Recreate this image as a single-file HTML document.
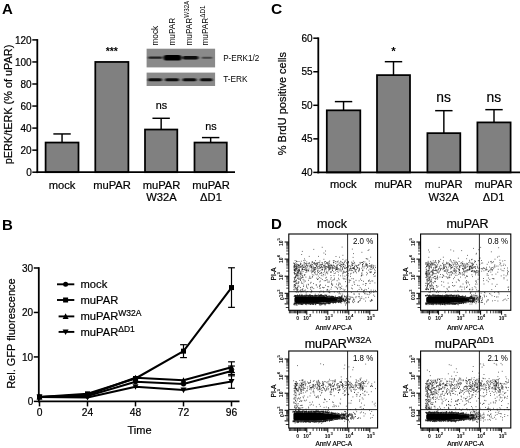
<!DOCTYPE html><html><head><meta charset="utf-8"><title>Figure</title>
<style>html,body{margin:0;padding:0;background:#fff}body{width:520px;height:448px;overflow:hidden;font-family:"Liberation Sans",sans-serif}svg{display:block;opacity:0.9999}text{font-family:"Liberation Sans",sans-serif;fill:#000}.s{stroke:#000;stroke-width:0.2px}</style></head><body>
<svg width="520" height="448" viewBox="0 0 520 448">
<rect width="520" height="448" fill="#fff"/>
<text x="2" y="13.5" font-size="15" text-anchor="start" font-weight="bold" >A</text>
<text x="2" y="230" font-size="15" text-anchor="start" font-weight="bold" >B</text>
<text x="271" y="13.6" font-size="15.5" text-anchor="start" font-weight="bold" >C</text>
<text x="271" y="228.5" font-size="15" text-anchor="start" font-weight="bold" >D</text>
<line x1="62.05" y1="142.54" x2="62.05" y2="133.94" stroke="#000" stroke-width="1.45"/>
<line x1="53.35" y1="133.94" x2="70.75" y2="133.94" stroke="#000" stroke-width="1.45"/>
<rect x="45.6" y="142.54" width="32.9" height="29.66" fill="#808080" stroke="#000" stroke-width="1.75"/>
<rect x="95.3" y="61.95" width="33.10000000000001" height="110.25" fill="#808080" stroke="#000" stroke-width="1.75"/>
<line x1="161.15" y1="129.53" x2="161.15" y2="118.29" stroke="#000" stroke-width="1.45"/>
<line x1="152.45" y1="118.29" x2="169.85" y2="118.29" stroke="#000" stroke-width="1.45"/>
<rect x="145.0" y="129.53" width="32.30000000000001" height="42.67" fill="#808080" stroke="#000" stroke-width="1.75"/>
<line x1="210.65" y1="142.54" x2="210.65" y2="137.58" stroke="#000" stroke-width="1.45"/>
<line x1="201.95" y1="137.58" x2="219.35" y2="137.58" stroke="#000" stroke-width="1.45"/>
<rect x="194.5" y="142.54" width="32.30000000000001" height="29.66" fill="#808080" stroke="#000" stroke-width="1.75"/>
<line x1="37.30" y1="39.10" x2="37.30" y2="173.10" stroke="#000" stroke-width="1.8"/>
<line x1="36.40" y1="172.20" x2="235.00" y2="172.20" stroke="#000" stroke-width="1.8"/>
<line x1="32.30" y1="172.20" x2="37.30" y2="172.20" stroke="#000" stroke-width="1.5"/>
<text class="s" x="31.699999999999996" y="175.79999999999998" font-size="10" text-anchor="end" font-weight="normal" >0</text>
<line x1="32.30" y1="150.15" x2="37.30" y2="150.15" stroke="#000" stroke-width="1.5"/>
<text class="s" x="31.699999999999996" y="153.74999999999997" font-size="10" text-anchor="end" font-weight="normal" >20</text>
<line x1="32.30" y1="128.10" x2="37.30" y2="128.10" stroke="#000" stroke-width="1.5"/>
<text class="s" x="31.699999999999996" y="131.7" font-size="10" text-anchor="end" font-weight="normal" >40</text>
<line x1="32.30" y1="106.05" x2="37.30" y2="106.05" stroke="#000" stroke-width="1.5"/>
<text class="s" x="31.699999999999996" y="109.64999999999998" font-size="10" text-anchor="end" font-weight="normal" >60</text>
<line x1="32.30" y1="84.00" x2="37.30" y2="84.00" stroke="#000" stroke-width="1.5"/>
<text class="s" x="31.699999999999996" y="87.59999999999998" font-size="10" text-anchor="end" font-weight="normal" >80</text>
<line x1="32.30" y1="61.95" x2="37.30" y2="61.95" stroke="#000" stroke-width="1.5"/>
<text class="s" x="31.699999999999996" y="65.54999999999998" font-size="10" text-anchor="end" font-weight="normal" >100</text>
<line x1="32.30" y1="39.90" x2="37.30" y2="39.90" stroke="#000" stroke-width="1.5"/>
<text class="s" x="31.699999999999996" y="43.49999999999998" font-size="10" text-anchor="end" font-weight="normal" >120</text>
<text class="s" x="0" y="0" font-size="10.9" text-anchor="middle" font-weight="normal" transform="translate(12.2,104.5) rotate(-90)">pERK/tERK (% of uPAR)</text>
<text class="s" x="62" y="188.7" font-size="11.2" text-anchor="middle" font-weight="normal" >mock</text>
<text class="s" x="112" y="188.7" font-size="11.2" text-anchor="middle" font-weight="normal" >muPAR</text>
<text class="s" x="161.5" y="188.7" font-size="11.2" text-anchor="middle" font-weight="normal" >muPAR</text>
<text class="s" x="161.5" y="201.2" font-size="11.2" text-anchor="middle" font-weight="normal" >W32A</text>
<text class="s" x="211" y="188.7" font-size="11.2" text-anchor="middle" font-weight="normal" >muPAR</text>
<text class="s" x="211" y="201.2" font-size="11.2" text-anchor="middle" font-weight="normal" >ΔD1</text>
<text x="111.8" y="54.9" font-size="10.5" text-anchor="middle" font-weight="bold" >***</text>
<text class="s" x="161.5" y="108.5" font-size="10.8" text-anchor="middle" font-weight="normal" >ns</text>
<text class="s" x="211" y="129.5" font-size="10.8" text-anchor="middle" font-weight="normal" >ns</text>
<defs><filter id="bl" x="-20%" y="-50%" width="140%" height="200%"><feGaussianBlur stdDeviation="0.9 0.6"/></filter></defs>
<rect x="146.6" y="48.7" width="68.5" height="18.7" fill="#8a8a8a"/>
<rect x="146.6" y="72.6" width="68.5" height="13.4" fill="#8a8a8a"/>
<g filter="url(#bl)">
<rect x="148.2" y="56.6" width="14" height="2.2" rx="1.1" fill="#222"/>
<rect x="163.5" y="54.900000000000006" width="18" height="5.6" rx="2.8" fill="#000"/>
<rect x="182.5" y="55.900000000000006" width="16" height="3.6" rx="1.8" fill="#0a0a0a"/>
<rect x="201.75" y="56.7" width="10.5" height="2.0" rx="1.0" fill="#444"/>
<rect x="148.0" y="78.2" width="14" height="3" rx="1.5" fill="#111"/>
<rect x="165.0" y="78.2" width="14" height="3" rx="1.5" fill="#111"/>
<rect x="182.5" y="78.2" width="14" height="3" rx="1.5" fill="#111"/>
<rect x="200.05" y="78.2" width="12.5" height="3" rx="1.5" fill="#111"/>
</g>
<text x="223.2" y="61.3" font-size="8.15" text-anchor="start" font-weight="normal" >P-ERK1/2</text>
<text x="223.2" y="82.2" font-size="8.3" text-anchor="start" font-weight="normal" >T-ERK</text>
<text x="0" y="0" font-size="8.3" text-anchor="start" font-weight="normal" transform="translate(157.8,45.6) rotate(-90) scale(1,1.12)">mock</text>
<text x="0" y="0" font-size="8.3" text-anchor="start" font-weight="normal" transform="translate(175.3,45.6) rotate(-90) scale(1,1.12)">muPAR</text>
<text x="0" y="0" font-size="8.3" text-anchor="start" font-weight="normal" transform="translate(192,45.6) rotate(-90) scale(1,1.12)">muPAR<tspan font-size="6.2" dy="-2.7">W32A</tspan></text>
<text x="0" y="0" font-size="8.3" text-anchor="start" font-weight="normal" transform="translate(208.2,45.6) rotate(-90) scale(1,1.12)">muPAR<tspan font-size="6.2" dy="-2.7">ΔD1</tspan></text>
<line x1="343.55" y1="110.33" x2="343.55" y2="101.61" stroke="#000" stroke-width="1.45"/>
<line x1="334.85" y1="101.61" x2="352.25" y2="101.61" stroke="#000" stroke-width="1.45"/>
<rect x="326.8" y="110.33" width="33.5" height="62.07" fill="#808080" stroke="#000" stroke-width="1.75"/>
<line x1="393.50" y1="75.11" x2="393.50" y2="61.69" stroke="#000" stroke-width="1.45"/>
<line x1="384.80" y1="61.69" x2="402.20" y2="61.69" stroke="#000" stroke-width="1.45"/>
<rect x="377" y="75.11" width="33" height="97.30" fill="#808080" stroke="#000" stroke-width="1.75"/>
<line x1="443.85" y1="133.15" x2="443.85" y2="110.67" stroke="#000" stroke-width="1.45"/>
<line x1="435.15" y1="110.67" x2="452.55" y2="110.67" stroke="#000" stroke-width="1.45"/>
<rect x="427.4" y="133.15" width="32.900000000000034" height="39.25" fill="#808080" stroke="#000" stroke-width="1.75"/>
<line x1="494.00" y1="122.41" x2="494.00" y2="109.66" stroke="#000" stroke-width="1.45"/>
<line x1="485.30" y1="109.66" x2="502.70" y2="109.66" stroke="#000" stroke-width="1.45"/>
<rect x="477.4" y="122.41" width="33.200000000000045" height="49.99" fill="#808080" stroke="#000" stroke-width="1.75"/>
<line x1="318.30" y1="37.40" x2="318.30" y2="173.30" stroke="#000" stroke-width="1.8"/>
<line x1="317.40" y1="172.40" x2="520.00" y2="172.40" stroke="#000" stroke-width="1.8"/>
<line x1="313.30" y1="172.40" x2="318.30" y2="172.40" stroke="#000" stroke-width="1.5"/>
<text class="s" x="312.7" y="176.0" font-size="10" text-anchor="end" font-weight="normal" >40</text>
<line x1="313.30" y1="138.85" x2="318.30" y2="138.85" stroke="#000" stroke-width="1.5"/>
<text class="s" x="312.7" y="142.45000000000002" font-size="10" text-anchor="end" font-weight="normal" >45</text>
<line x1="313.30" y1="105.30" x2="318.30" y2="105.30" stroke="#000" stroke-width="1.5"/>
<text class="s" x="312.7" y="108.9" font-size="10" text-anchor="end" font-weight="normal" >50</text>
<line x1="313.30" y1="71.75" x2="318.30" y2="71.75" stroke="#000" stroke-width="1.5"/>
<text class="s" x="312.7" y="75.35" font-size="10" text-anchor="end" font-weight="normal" >55</text>
<line x1="313.30" y1="38.20" x2="318.30" y2="38.20" stroke="#000" stroke-width="1.5"/>
<text class="s" x="312.7" y="41.80000000000002" font-size="10" text-anchor="end" font-weight="normal" >60</text>
<text class="s" x="0" y="0" font-size="11" text-anchor="middle" font-weight="normal" transform="translate(286.3,103.6) rotate(-90)">% BrdU positive cells</text>
<text class="s" x="343.3" y="188.2" font-size="11.2" text-anchor="middle" font-weight="normal" >mock</text>
<text class="s" x="393.3" y="188.2" font-size="11.2" text-anchor="middle" font-weight="normal" >muPAR</text>
<text class="s" x="443.7" y="188.2" font-size="11.2" text-anchor="middle" font-weight="normal" >muPAR</text>
<text class="s" x="443.7" y="200.7" font-size="11.2" text-anchor="middle" font-weight="normal" >W32A</text>
<text class="s" x="493.7" y="188.2" font-size="11.2" text-anchor="middle" font-weight="normal" >muPAR</text>
<text class="s" x="493.7" y="200.7" font-size="11.2" text-anchor="middle" font-weight="normal" >ΔD1</text>
<text x="393.4" y="55.3" font-size="11.5" text-anchor="middle" font-weight="bold" >*</text>
<text class="s" x="443.5" y="102" font-size="13.8" text-anchor="middle" font-weight="normal" >ns</text>
<text class="s" x="493.8" y="102" font-size="13.8" text-anchor="middle" font-weight="normal" >ns</text>
<line x1="38.80" y1="267.19" x2="38.80" y2="402.30" stroke="#000" stroke-width="1.8"/>
<line x1="37.90" y1="401.40" x2="239.50" y2="401.40" stroke="#000" stroke-width="1.8"/>
<line x1="33.80" y1="401.40" x2="38.80" y2="401.40" stroke="#000" stroke-width="1.5"/>
<text class="s" x="33.199999999999996" y="405.0" font-size="10" text-anchor="end" font-weight="normal" >0</text>
<line x1="33.80" y1="356.93" x2="38.80" y2="356.93" stroke="#000" stroke-width="1.5"/>
<text class="s" x="33.199999999999996" y="360.53" font-size="10" text-anchor="end" font-weight="normal" >10</text>
<line x1="33.80" y1="312.46" x2="38.80" y2="312.46" stroke="#000" stroke-width="1.5"/>
<text class="s" x="33.199999999999996" y="316.06" font-size="10" text-anchor="end" font-weight="normal" >20</text>
<line x1="33.80" y1="267.99" x2="38.80" y2="267.99" stroke="#000" stroke-width="1.5"/>
<text class="s" x="33.199999999999996" y="271.59000000000003" font-size="10" text-anchor="end" font-weight="normal" >30</text>
<line x1="39.50" y1="401.40" x2="39.50" y2="406.40" stroke="#000" stroke-width="1.5"/>
<text class="s" x="39.5" y="416.2" font-size="10.3" text-anchor="middle" font-weight="normal" >0</text>
<line x1="87.50" y1="401.40" x2="87.50" y2="406.40" stroke="#000" stroke-width="1.5"/>
<text class="s" x="87.5" y="416.2" font-size="10.3" text-anchor="middle" font-weight="normal" >24</text>
<line x1="135.50" y1="401.40" x2="135.50" y2="406.40" stroke="#000" stroke-width="1.5"/>
<text class="s" x="135.5" y="416.2" font-size="10.3" text-anchor="middle" font-weight="normal" >48</text>
<line x1="183.50" y1="401.40" x2="183.50" y2="406.40" stroke="#000" stroke-width="1.5"/>
<text class="s" x="183.5" y="416.2" font-size="10.3" text-anchor="middle" font-weight="normal" >72</text>
<line x1="231.50" y1="401.40" x2="231.50" y2="406.40" stroke="#000" stroke-width="1.5"/>
<text class="s" x="231.5" y="416.2" font-size="10.3" text-anchor="middle" font-weight="normal" >96</text>
<text class="s" x="139.5" y="433.5" font-size="11" text-anchor="middle" font-weight="normal" >Time</text>
<text class="s" x="0" y="0" font-size="11" text-anchor="middle" font-weight="normal" transform="translate(15,333.6) rotate(-90)">Rel. GFP fluorescence</text>
<polyline points="39.5,397.0 87.5,396.1 135.5,381.8 183.5,384.1 231.5,370.9" fill="none" stroke="#000" stroke-width="2.05" stroke-linejoin="round"/>
<circle cx="39.5" cy="396.953" r="2.5" fill="#000"/>
<circle cx="87.5" cy="396.06359999999995" r="2.5" fill="#000"/>
<circle cx="135.5" cy="381.8332" r="2.5" fill="#000"/>
<circle cx="183.5" cy="384.0567" r="2.5" fill="#000"/>
<line x1="231.50" y1="366.05" x2="231.50" y2="375.83" stroke="#000" stroke-width="1.2"/>
<line x1="228.10" y1="366.05" x2="234.90" y2="366.05" stroke="#000" stroke-width="1.2"/>
<line x1="228.10" y1="375.83" x2="234.90" y2="375.83" stroke="#000" stroke-width="1.2"/>
<circle cx="231.5" cy="370.93805" r="2.5" fill="#000"/>
<polyline points="39.5,397.0 87.5,393.8 135.5,378.5 183.5,351.1 231.5,287.6" fill="none" stroke="#000" stroke-width="2.05" stroke-linejoin="round"/>
<rect x="37.0" y="394.453" width="5.0" height="5.0" fill="#000"/>
<rect x="85.0" y="391.34009999999995" width="5.0" height="5.0" fill="#000"/>
<rect x="133.0" y="375.99794999999995" width="5.0" height="5.0" fill="#000"/>
<line x1="183.50" y1="344.70" x2="183.50" y2="357.60" stroke="#000" stroke-width="1.2"/>
<line x1="180.10" y1="344.70" x2="186.90" y2="344.70" stroke="#000" stroke-width="1.2"/>
<line x1="180.10" y1="357.60" x2="186.90" y2="357.60" stroke="#000" stroke-width="1.2"/>
<rect x="181.0" y="348.64889999999997" width="5.0" height="5.0" fill="#000"/>
<line x1="231.50" y1="267.77" x2="231.50" y2="307.35" stroke="#000" stroke-width="1.2"/>
<line x1="228.10" y1="267.77" x2="234.90" y2="267.77" stroke="#000" stroke-width="1.2"/>
<line x1="228.10" y1="307.35" x2="234.90" y2="307.35" stroke="#000" stroke-width="1.2"/>
<rect x="229.0" y="285.05679999999995" width="5.0" height="5.0" fill="#000"/>
<polyline points="39.5,397.0 87.5,395.0 135.5,377.8 183.5,380.3 231.5,367.2" fill="none" stroke="#000" stroke-width="2.05" stroke-linejoin="round"/>
<path d="M36.5,399.453 L42.5,399.453 L39.5,393.85299999999995 Z" fill="#000"/>
<path d="M84.5,397.45185 L90.5,397.45185 L87.5,391.85184999999996 Z" fill="#000"/>
<path d="M132.5,380.3309 L138.5,380.3309 L135.5,374.73089999999996 Z" fill="#000"/>
<path d="M180.5,382.77675 L186.5,382.77675 L183.5,377.17674999999997 Z" fill="#000"/>
<line x1="231.50" y1="361.82" x2="231.50" y2="372.49" stroke="#000" stroke-width="1.2"/>
<line x1="228.10" y1="361.82" x2="234.90" y2="361.82" stroke="#000" stroke-width="1.2"/>
<line x1="228.10" y1="372.49" x2="234.90" y2="372.49" stroke="#000" stroke-width="1.2"/>
<path d="M228.5,369.6581 L234.5,369.6581 L231.5,364.05809999999997 Z" fill="#000"/>
<polyline points="39.5,397.0 87.5,397.4 135.5,386.7 183.5,390.1 231.5,381.4" fill="none" stroke="#000" stroke-width="2.05" stroke-linejoin="round"/>
<path d="M36.5,394.453 L42.5,394.453 L39.5,400.053 Z" fill="#000"/>
<path d="M84.5,394.8977 L90.5,394.8977 L87.5,400.4977 Z" fill="#000"/>
<path d="M132.5,384.2249 L138.5,384.2249 L135.5,389.8249 Z" fill="#000"/>
<path d="M180.5,387.56014999999996 L186.5,387.56014999999996 L183.5,393.16015 Z" fill="#000"/>
<line x1="231.50" y1="374.50" x2="231.50" y2="388.28" stroke="#000" stroke-width="1.2"/>
<line x1="228.10" y1="374.50" x2="234.90" y2="374.50" stroke="#000" stroke-width="1.2"/>
<line x1="228.10" y1="388.28" x2="234.90" y2="388.28" stroke="#000" stroke-width="1.2"/>
<path d="M228.5,378.88849999999996 L234.5,378.88849999999996 L231.5,384.4885 Z" fill="#000"/>
<line x1="57.00" y1="284.30" x2="74.30" y2="284.30" stroke="#000" stroke-width="1.9"/>
<circle cx="65.6" cy="284.3" r="2.5" fill="#000"/>
<text class="s" x="80.5" y="288.2" font-size="11.2" text-anchor="start" font-weight="normal" >mock</text>
<line x1="57.00" y1="300.00" x2="74.30" y2="300.00" stroke="#000" stroke-width="1.9"/>
<rect x="63.099999999999994" y="297.5" width="5.0" height="5.0" fill="#000"/>
<text class="s" x="80.5" y="303.9" font-size="11.2" text-anchor="start" font-weight="normal" >muPAR</text>
<line x1="58.60" y1="316.40" x2="74.30" y2="316.40" stroke="#000" stroke-width="1.9"/>
<path d="M62.599999999999994,318.9 L68.6,318.9 L65.6,313.29999999999995 Z" fill="#000"/>
<text class="s" x="80.5" y="320.29999999999995" font-size="11.2" text-anchor="start" font-weight="normal" >muPAR<tspan font-size="8.5" dy="-3.9">W32A</tspan></text>
<line x1="58.60" y1="331.90" x2="74.30" y2="331.90" stroke="#000" stroke-width="1.9"/>
<path d="M62.599999999999994,329.4 L68.6,329.4 L65.6,335.0 Z" fill="#000"/>
<text class="s" x="80.5" y="335.79999999999995" font-size="11.2" text-anchor="start" font-weight="normal" >muPAR<tspan font-size="8.5" dy="-3.9">ΔD1</tspan></text>
<text class="s" x="332" y="227.7" font-size="12.5" text-anchor="middle" font-weight="normal" >mock</text>
<path d="M294.40000000000003,298.4 Q294.40000000000003,296.4 297.40000000000003,296.4 L317.40000000000003,296.59999999999997 Q329.40000000000003,297.2 337.8,298.5 L337.8,301.3 Q329.40000000000003,302.4 317.40000000000003,303.0 L297.40000000000003,303.0 Q294.40000000000003,303.0 294.40000000000003,301.0 Z" fill="#000"/>
<path d="M299.9,296.4h.8M315.2,303.9h.8M331.6,296.1h.8M312.3,296.3h.8M327.1,302.5h.8M339.2,301.1h.8M294.9,296.3h.8M336.1,298.4h.8M340.3,297.6h.8M338.9,298.7h.8M310.1,296.3h.8M338.2,302.4h.8M333.9,297.2h.8M335.0,296.1h.8M329.4,303.7h.8M302.6,303.1h.8M321.8,303.5h.8M321.9,295.7h.8M316.6,303.4h.8M320.0,303.2h.8M297.6,296.2h.8M312.4,303.9h.8M328.9,303.2h.8M341.0,300.8h.8M324.7,294.5h.8M330.7,297.5h.8M313.0,303.9h.8M315.6,303.3h.8M325.3,295.6h.8M339.6,297.9h.8M318.5,296.2h.8M335.5,298.2h.8M338.9,301.2h.8M310.2,303.1h.8M315.6,296.0h.8M320.1,295.4h.8M335.1,302.9h.8M296.8,296.0h.8M315.3,303.0h.8M323.6,303.3h.8M307.4,295.9h.8M301.5,303.8h.8M324.8,303.4h.8M316.3,296.2h.8M308.5,303.4h.8M298.7,296.2h.8M340.1,300.6h.8M294.3,296.3h.8M295.1,295.6h.8M314.1,296.1h.8M340.7,300.7h.8M312.5,304.1h.8M325.3,303.3h.8M340.2,298.6h.8M308.2,295.7h.8M329.4,303.7h.8M320.7,294.9h.8M295.2,296.3h.8M340.0,301.2h.8M340.5,297.5h.8M311.7,303.8h.8M336.8,298.0h.8M317.2,303.3h.8M309.1,303.8h.8M336.9,297.8h.8M332.7,296.7h.8M309.8,296.4h.8M311.8,303.3h.8M337.7,300.8h.8M296.6,295.5h.8M297.5,295.9h.8M306.4,303.8h.8M322.5,303.5h.8M307.5,303.5h.8M300.0,296.1h.8M311.8,295.7h.8M333.5,302.1h.8M338.2,298.1h.8M321.0,294.7h.8M311.1,303.7h.8M320.7,295.8h.8M331.5,301.8h.8M294.0,296.1h.8M336.2,298.3h.8M302.5,303.4h.8M326.4,296.2h.8M329.4,295.6h.8M332.4,302.3h.8M320.0,303.2h.8M308.8,295.9h.8M293.9,303.1h.8M312.3,303.7h.8M296.4,304.9h.8M298.8,296.0h.8M331.4,302.0h.8M319.6,303.5h.8M303.0,303.5h.8M341.0,300.8h.8M297.8,303.7h.8M308.2,303.3h.8M302.4,303.0h.8M323.0,296.1h.8M305.3,296.1h.8M306.4,295.7h.8M328.7,296.8h.8M331.7,302.1h.8M316.1,295.4h.8M309.3,295.6h.8M302.1,295.0h.8M308.9,296.3h.8M327.7,302.7h.8M319.8,296.0h.8M331.1,297.3h.8M301.0,295.7h.8M305.6,296.1h.8M314.2,303.7h.8M319.6,304.4h.8M301.7,303.1h.8M294.6,303.1h.8M326.9,296.9h.8M322.1,296.3h.8M312.7,304.4h.8M301.7,296.4h.8M319.0,303.1h.8M338.4,298.8h.8M316.6,295.5h.8M327.9,303.8h.8M337.8,301.3h.8M340.5,298.6h.8M318.2,303.1h.8M301.1,296.0h.8M334.5,302.3h.8M301.4,304.2h.8M336.8,301.7h.8M301.9,304.6h.8M328.2,296.4h.8M317.4,303.1h.8M318.3,295.7h.8M319.7,296.1h.8M305.8,296.4h.8M306.3,296.0h.8M330.9,297.5h.8M314.9,295.7h.8M332.3,301.7h.8M312.6,304.0h.8M317.0,296.0h.8M299.2,303.9h.8M306.8,303.6h.8M329.7,296.5h.8M321.4,296.2h.8M323.8,296.2h.8M307.2,296.0h.8M306.6,303.4h.8M335.1,297.6h.8M319.8,303.3h.8M303.5,303.2h.8M303.3,296.3h.8M321.0,296.3h.8M319.8,295.8h.8M332.4,301.9h.8M317.7,303.0h.8M299.4,303.7h.8M310.4,303.6h.8M321.1,295.4h.8M324.7,303.5h.8M341.5,298.2h.8M341.2,301.3h.8M338.8,301.1h.8M327.4,303.0h.8M310.8,295.8h.8M326.2,303.2h.8M323.5,296.3h.8M317.2,295.7h.8M323.9,303.8h.8M328.3,296.0h.8M331.3,296.4h.8M330.5,297.2h.8M327.7,302.8h.8M300.8,303.8h.8M295.6,296.3h.8M329.4,302.3h.8M314.8,296.3h.8M317.9,296.1h.8M326.7,303.2h.8M303.5,296.3h.8M296.7,303.7h.8M316.0,295.9h.8M327.9,303.2h.8M310.6,295.8h.8M316.8,303.5h.8M335.3,301.2h.8M322.9,295.8h.8M334.2,297.3h.8M312.9,304.2h.8M338.6,298.7h.8M323.7,296.0h.8M335.6,302.6h.8M300.6,303.9h.8M315.6,296.1h.8M328.0,302.6h.8M308.4,303.1h.8M328.2,303.4h.8M296.7,295.7h.8M298.2,295.9h.8M295.6,296.0h.8M295.1,303.3h.8M310.0,303.8h.8M298.0,303.8h.8M304.7,303.3h.8M304.6,303.3h.8M315.8,303.3h.8M309.4,295.2h.8M337.4,297.4h.8M334.9,301.5h.8M336.4,301.6h.8M336.0,298.1h.8M331.8,297.3h.8M325.6,296.7h.8M320.7,303.6h.8M334.1,297.5h.8M295.1,296.0h.8M338.6,298.8h.8M314.3,295.3h.8M329.4,297.2h.8M325.5,302.9h.8M306.0,295.9h.8M305.3,295.8h.8M320.5,295.6h.8M337.2,301.9h.8M319.4,296.1h.8M327.9,297.1h.8M300.7,294.3h.8M334.8,297.9h.8M332.8,301.6h.8M317.7,296.2h.8M319.1,303.0h.8M325.6,302.8h.8M315.0,304.6h.8M297.8,303.2h.8M312.0,303.1h.8M308.6,296.4h.8M299.1,303.7h.8M298.0,295.9h.8M338.1,300.6h.8M339.7,301.4h.8M315.1,295.7h.8M336.8,300.9h.8M312.2,303.5h.8M298.1,303.2h.8M307.9,303.2h.8M313.6,303.4h.8M329.6,296.9h.8M318.9,295.9h.8M331.4,296.6h.8M315.3,304.6h.8M338.3,300.8h.8M332.9,296.7h.8M299.9,303.6h.8M321.3,303.2h.8M329.5,303.1h.8M341.3,301.2h.8M340.8,298.4h.8M294.8,303.4h.8M337.3,297.8h.8M330.5,296.8h.8M326.4,295.0h.8M303.3,295.8h.8M297.2,295.7h.8M331.8,297.5h.8M335.1,297.9h.8M322.0,303.2h.8M336.5,301.5h.8M335.3,297.3h.8M319.8,295.9h.8M332.0,296.8h.8M305.8,294.0h.8M293.8,303.9h.8M312.9,303.1h.8M295.3,304.9h.8M327.1,296.9h.8M319.6,305.4h.8M308.7,303.2h.8M318.8,303.8h.8M315.3,295.8h.8M317.9,294.4h.8M301.3,295.8h.8M341.5,298.4h.8M338.7,298.3h.8M336.9,298.2h.8M315.9,303.6h.8M324.2,303.0h.8M332.3,302.3h.8M310.6,304.5h.8M332.8,303.4h.8M334.9,301.9h.8M338.9,300.8h.8M329.2,303.3h.8M316.9,303.5h.8M339.3,300.6h.8M299.7,296.1h.8M304.5,296.1h.8M330.9,297.3h.8M312.7,296.2h.8M323.0,296.1h.8M320.0,304.0h.8M340.3,297.4h.8M329.0,302.7h.8M341.6,301.6h.8M302.1,296.1h.8M297.6,304.1h.8M299.4,303.2h.8M337.2,297.8h.8M322.7,303.6h.8M337.2,298.2h.8M301.5,304.4h.8M341.4,301.3h.8M335.5,298.1h.8M335.1,297.3h.8M293.8,304.8h.8M306.3,303.9h.8M307.9,296.3h.8M327.6,302.9h.8M300.6,303.3h.8M322.4,295.5h.8M319.2,295.8h.8M316.6,303.2h.8M306.3,295.4h.8M305.1,296.4h.8M322.7,296.3h.8M315.2,295.4h.8M296.2,303.4h.8M330.3,297.4h.8M308.7,303.4h.8M336.3,301.0h.8M304.3,295.3h.8M304.4,296.0h.8M317.7,303.1h.8M294.4,303.0h.8M333.2,297.5h.8M326.3,302.8h.8M306.4,303.7h.8M300.1,303.1h.8M336.9,298.5h.8M297.1,296.2h.8M307.9,296.4h.8M294.9,296.2h.8M338.2,301.6h.8M305.1,303.4h.8M306.6,303.4h.8M338.1,298.7h.8M322.7,303.9h.8M323.4,303.6h.8M320.7,303.2h.8M308.0,295.9h.8M296.0,296.2h.8M314.4,295.9h.8M305.5,303.5h.8M299.5,296.2h.8M329.5,296.8h.8M319.8,295.6h.8M323.4,303.2h.8M337.6,298.3h.8M326.1,295.5h.8M330.5,302.0h.8M336.4,297.8h.8M333.7,302.4h.8M299.1,296.3h.8M332.1,296.7h.8M319.4,295.5h.8M311.8,295.9h.8M315.6,303.6h.8M338.6,301.0h.8M313.1,303.8h.8M295.2,296.1h.8M332.7,297.1h.8M330.3,302.4h.8M331.3,302.2h.8M305.3,295.1h.8M298.5,303.3h.8M295.4,303.3h.8M313.8,303.0h.8M336.9,297.5h.8M323.3,303.4h.8M332.9,301.9h.8M332.0,297.2h.8M296.1,295.7h.8M336.5,297.5h.8M336.7,298.3h.8M340.6,298.4h.8M324.0,296.4h.8M312.6,295.9h.8M340.3,298.5h.8M331.4,301.7h.8M324.9,295.9h.8M314.3,303.9h.8M338.3,298.5h.8M300.7,304.2h.8M325.0,296.0h.8M315.6,303.7h.8M307.4,295.2h.8M300.9,296.3h.8M312.6,296.4h.8M319.4,303.9h.8M305.5,303.0h.8M337.3,298.3h.8M330.9,297.2h.8M301.9,295.6h.8M331.8,297.7h.8M327.3,297.0h.8M299.2,295.1h.8M312.1,295.9h.8M340.7,298.2h.8M331.0,297.0h.8M306.9,303.2h.8M301.5,295.2h.8M308.8,303.1h.8M341.4,301.6h.8M327.2,296.6h.8M317.4,303.3h.8M320.8,296.1h.8M331.2,297.6h.8M300.3,303.7h.8M305.6,303.2h.8M300.6,295.6h.8M339.8,298.4h.8M319.4,295.1h.8M319.7,295.6h.8M312.3,296.0h.8M297.4,295.8h.8M294.9,303.9h.8M311.9,296.1h.8M319.5,296.2h.8M338.3,300.9h.8M328.2,302.6h.8M310.7,296.2h.8M310.2,304.2h.8M297.7,303.2h.8M307.5,295.6h.8M323.2,303.0h.8M333.5,301.6h.8M301.1,295.4h.8M298.4,303.3h.8M324.1,296.5h.8M312.6,295.5h.8M333.1,301.9h.8M332.8,302.2h.8M328.5,296.4h.8M320.6,305.0h.8M319.8,296.3h.8M325.9,295.7h.8M334.8,301.2h.8M306.6,295.6h.8M325.8,296.7h.8M329.9,302.1h.8M303.8,303.3h.8M326.2,296.7h.8M334.4,301.4h.8M317.7,303.4h.8M318.7,296.3h.8M321.8,295.3h.8M309.9,295.0h.8M302.0,296.0h.8M334.7,302.1h.8M296.5,303.2h.8M297.9,303.4h.8M324.7,304.2h.8M306.4,304.7h.8M320.1,303.3h.8M294.2,303.6h.8M300.6,303.3h.8M296.6,305.4h.8M331.7,296.3h.8M295.2,295.9h.8M338.6,298.5h.8M324.3,295.5h.8M334.4,301.3h.8M309.6,294.9h.8M310.9,295.6h.8M336.8,297.9h.8M335.4,301.5h.8M333.2,302.0h.8M295.2,295.6h.8M330.5,297.3h.8M340.3,301.1h.8M321.2,296.0h.8M338.7,300.7h.8M313.4,296.2h.8M306.1,295.2h.8M298.2,303.9h.8M331.5,297.4h.8M333.2,297.3h.8M307.7,296.2h.8M295.1,303.1h.8M341.3,300.7h.8M329.7,297.1h.8M323.9,304.0h.8M302.3,296.3h.8M340.5,297.9h.8M328.3,302.3h.8M340.0,300.8h.8M338.3,300.9h.8M293.9,304.7h.8M295.0,303.2h.8M304.5,296.3h.8M318.8,295.5h.8M303.5,303.2h.8M305.2,303.8h.8M297.0,294.8h.8M302.5,304.0h.8M323.1,303.3h.8M294.5,295.4h.8M321.4,303.5h.8M333.4,301.9h.8M302.9,303.9h.8M339.5,301.5h.8M337.2,301.5h.8M322.6,295.8h.8M318.8,304.0h.8M322.8,303.0h.8M330.1,302.1h.8M315.5,303.1h.8M327.3,303.2h.8M327.1,296.4h.8M324.5,303.4h.8M335.6,298.3h.8M296.0,303.9h.8M294.1,303.6h.8M333.3,296.6h.8M303.5,295.9h.8M333.1,297.0h.8M299.6,304.0h.8M304.7,296.1h.8M330.0,302.2h.8M338.3,301.3h.8M332.6,297.2h.8M304.6,296.1h.8M323.3,296.4h.8M303.6,295.6h.8M328.3,302.3h.8M293.5,304.5h.8M314.9,296.3h.8M311.3,303.2h.8M335.7,301.4h.8M321.6,303.9h.8M332.6,302.8h.8M329.8,302.6h.8M299.0,295.5h.8M329.7,302.9h.8M314.5,295.4h.8M318.3,296.1h.8M299.7,296.1h.8M293.6,296.4h.8M313.9,296.3h.8M319.4,303.0h.8M331.4,296.9h.8M306.3,303.3h.8M336.4,298.1h.8M304.9,304.5h.8M295.1,303.1h.8M302.4,296.3h.8M330.3,297.4h.8M332.4,297.2h.8M331.9,297.0h.8M304.6,303.3h.8M340.0,298.2h.8M331.8,297.3h.8M299.2,295.3h.8M297.6,296.0h.8M338.8,302.0h.8M328.4,302.5h.8M330.4,302.3h.8M335.7,301.7h.8M335.2,302.6h.8M333.7,302.3h.8M335.9,298.1h.8M296.9,303.2h.8M336.3,302.4h.8M329.9,302.8h.8M313.2,303.4h.8M316.2,295.8h.8M311.3,303.5h.8M335.6,297.5h.8M301.5,296.2h.8M323.0,296.2h.8M310.6,303.7h.8M308.4,304.3h.8M300.9,304.3h.8M334.3,302.3h.8M296.7,296.2h.8M295.7,296.4h.8M324.8,304.3h.8M334.9,301.2h.8M310.0,296.1h.8M340.7,298.2h.8M296.4,303.4h.8M310.8,295.7h.8M304.6,303.0h.8M298.1,296.3h.8M304.2,303.3h.8M308.5,303.4h.8M335.2,301.8h.8M318.2,303.4h.8M302.9,296.3h.8M300.3,295.9h.8M294.4,303.2h.8M310.8,296.2h.8M326.2,295.9h.8M302.9,303.6h.8M301.4,296.1h.8M320.1,294.9h.8M334.7,301.5h.8M296.7,303.1h.8M325.6,303.9h.8M321.1,304.0h.8M309.8,296.2h.8M324.7,305.1h.8M294.3,295.9h.8M306.1,303.3h.8M335.5,301.1h.8M301.3,303.1h.8M295.8,303.9h.8M306.9,303.4h.8M321.3,303.3h.8M310.4,303.6h.8M310.7,295.8h.8M333.7,297.6h.8M295.2,296.1h.8M318.5,303.1h.8M321.0,304.2h.8M320.7,303.7h.8M312.6,303.9h.8M329.3,297.0h.8M322.1,304.1h.8M333.2,301.8h.8M304.9,303.5h.8M335.6,297.7h.8M301.2,303.2h.8M311.0,303.1h.8M340.3,298.1h.8M321.3,296.0h.8M314.9,294.2h.8M341.5,298.7h.8M308.6,295.7h.8M302.1,303.0h.8M304.7,303.9h.8M308.5,303.2h.8M322.1,296.3h.8M293.7,303.4h.8M299.2,303.2h.8M302.1,303.9h.8M315.2,303.3h.8M297.5,296.0h.8M298.1,303.5h.8M316.4,295.8h.8M321.8,303.6h.8M310.3,296.4h.8M334.1,301.8h.8M320.3,295.2h.8M340.6,298.3h.8M309.6,296.2h.8M312.2,303.1h.8M309.4,295.6h.8M301.3,303.8h.8M334.8,297.6h.8M308.9,304.0h.8M304.3,296.2h.8M336.3,298.2h.8M295.9,296.2h.8M341.3,301.2h.8M312.2,303.3h.8M308.0,303.5h.8M334.5,301.8h.8M301.8,303.2h.8M298.5,296.0h.8M319.3,303.9h.8M326.2,302.6h.8M328.4,303.4h.8M309.0,303.5h.8M333.3,297.5h.8M335.0,297.5h.8M295.9,304.0h.8M309.3,295.7h.8M310.1,304.3h.8M335.6,297.5h.8M331.5,302.2h.8M341.6,300.9h.8M325.8,295.7h.8M340.3,300.6h.8M322.6,296.3h.8M308.9,295.0h.8M327.8,302.3h.8M310.4,303.0h.8M339.5,297.7h.8M341.2,300.8h.8M300.4,303.7h.8M339.1,301.9h.8M339.0,298.7h.8M319.4,296.0h.8M299.2,295.1h.8M322.8,303.6h.8M339.0,298.9h.8M338.7,297.7h.8M341.1,296.4h.8M347.7,299.9h.8M343.1,301.0h.8M342.6,299.2h.8M339.3,297.5h.8M339.0,292.9h.8M339.1,299.6h.8M342.3,299.5h.8M338.4,302.6h.8M341.1,295.8h.8M339.6,300.8h.8M340.5,299.1h.8M347.7,301.6h.8M346.6,295.7h.8M341.5,301.3h.8M346.1,298.0h.8M339.8,296.8h.8M339.2,301.5h.8M347.5,295.1h.8M343.4,300.8h.8M353.3,298.1h.8M339.1,300.4h.8M338.1,300.8h.8M347.4,301.6h.8M340.7,299.6h.8M343.9,302.8h.8M339.9,299.1h.8M341.3,297.8h.8M341.2,300.4h.8M338.7,297.1h.8M343.3,300.2h.8M337.9,296.6h.8M348.6,302.8h.8M339.4,299.8h.8M348.1,302.1h.8M340.2,298.3h.8M349.9,298.0h.8M340.5,300.1h.8M347.7,299.7h.8M349.4,299.6h.8M347.1,298.8h.8M345.2,300.7h.8M341.5,299.2h.8M344.1,296.4h.8M345.3,301.1h.8M342.8,298.7h.8M344.6,299.2h.8M340.8,297.5h.8M341.4,300.2h.8M346.1,297.0h.8M343.0,300.5h.8M341.2,298.2h.8M341.3,296.5h.8M345.2,299.3h.8M340.8,299.0h.8M340.3,299.3h.8M343.1,300.0h.8M345.0,296.8h.8M352.9,300.1h.8M342.7,299.4h.8M349.7,296.8h.8M340.4,293.9h.8M340.0,299.5h.8M349.3,298.9h.8M343.2,299.9h.8M343.0,298.2h.8M344.8,298.8h.8M348.3,298.5h.8M346.7,299.0h.8M347.2,301.4h.8M338.0,299.6h.8M346.0,299.1h.8M339.3,298.2h.8M346.4,302.5h.8M345.1,305.1h.8M340.6,298.4h.8M341.6,299.2h.8M339.7,299.4h.8M346.7,299.7h.8M340.9,301.1h.8M338.1,298.8h.8M339.5,300.9h.8M342.3,295.6h.8M339.9,302.3h.8M339.1,296.6h.8M344.8,299.5h.8M342.8,300.3h.8M345.7,296.9h.8M350.9,297.2h.8M344.7,300.6h.8M345.7,302.9h.8M341.9,299.6h.8M347.2,296.5h.8M344.2,301.0h.8M337.9,297.7h.8M342.7,298.9h.8M339.5,301.7h.8M348.6,296.7h.8M346.7,300.4h.8M340.7,303.1h.8M346.3,300.5h.8M358.1,301.6h.8M354.3,301.6h.8M341.9,297.3h.8M339.2,298.5h.8M340.1,302.4h.8M355.7,296.6h.8M338.6,293.8h.8M352.1,301.9h.8M341.8,299.1h.8M340.0,300.6h.8M338.7,298.5h.8M344.7,300.2h.8M339.7,297.8h.8M346.1,303.0h.8M339.7,297.1h.8M349.1,299.7h.8M346.5,297.9h.8M343.2,299.5h.8M339.4,297.4h.8M342.5,299.0h.8M344.5,301.5h.8M344.2,295.9h.8M344.2,301.0h.8M342.8,299.4h.8M341.0,299.2h.8M340.6,302.2h.8M339.7,301.1h.8M337.9,301.8h.8M343.9,300.9h.8M342.3,294.1h.8M344.3,296.9h.8M353.0,302.6h.8M338.6,298.8h.8M349.2,301.8h.8M340.0,299.5h.8M343.5,300.7h.8M345.6,300.9h.8M345.1,299.5h.8M349.7,299.0h.8M345.5,303.9h.8M345.9,298.2h.8M338.4,302.5h.8M341.8,296.7h.8M338.1,298.2h.8M341.6,300.5h.8M341.0,299.9h.8M347.2,300.9h.8M324.4,261.6h.8M356.7,267.7h.8M325.3,268.9h.8M335.0,261.5h.8M324.1,271.3h.8M313.7,268.7h.8M296.5,264.3h.8M296.5,267.8h.8M356.2,272.8h.8M322.3,269.7h.8M300.7,263.9h.8M320.0,267.6h.8M356.2,269.4h.8M320.1,264.9h.8M312.3,267.1h.8M311.1,272.8h.8M341.4,271.0h.8M347.0,266.9h.8M312.1,272.0h.8M372.8,267.9h.8M304.6,265.9h.8M299.4,265.7h.8M324.9,266.4h.8M329.8,265.1h.8M326.1,272.5h.8M317.0,271.9h.8M320.8,266.5h.8M298.9,267.8h.8M331.2,265.5h.8M361.0,262.5h.8M328.7,268.2h.8M302.3,269.9h.8M335.8,267.3h.8M317.4,264.3h.8M315.0,274.1h.8M297.2,270.4h.8M363.2,263.6h.8M310.2,265.0h.8M302.7,271.6h.8M304.4,267.5h.8M342.1,273.9h.8M329.3,260.9h.8M352.9,261.0h.8M336.8,264.7h.8M319.5,268.2h.8M340.5,264.4h.8M325.9,266.7h.8M337.8,261.0h.8M324.8,275.0h.8M326.3,263.3h.8M300.5,266.3h.8M336.3,266.3h.8M335.6,268.1h.8M319.4,265.4h.8M296.6,261.6h.8M332.1,270.5h.8M334.4,268.3h.8M296.1,261.1h.8M338.7,262.9h.8M341.7,265.8h.8M311.1,265.9h.8M317.8,270.1h.8M335.7,269.4h.8M337.1,265.9h.8M353.9,268.9h.8M306.8,265.4h.8M347.1,264.7h.8M305.6,268.6h.8M301.4,272.0h.8M328.5,265.2h.8M371.5,269.2h.8M347.3,266.1h.8M302.1,269.3h.8M311.6,264.4h.8M303.7,263.0h.8M347.3,266.8h.8M328.7,268.6h.8M371.1,265.0h.8M326.4,262.4h.8M312.0,271.0h.8M344.8,265.4h.8M321.5,273.8h.8M333.7,268.1h.8M370.8,267.4h.8M322.0,269.6h.8M296.3,268.7h.8M362.2,262.4h.8M340.1,266.3h.8M328.5,265.6h.8M313.2,270.4h.8M354.6,270.9h.8M314.5,267.7h.8M339.6,265.2h.8M308.1,270.6h.8M317.3,270.3h.8M325.9,268.8h.8M301.7,265.6h.8M348.1,267.1h.8M316.1,266.8h.8M332.3,269.1h.8M352.0,265.0h.8M362.6,270.2h.8M353.4,268.0h.8M309.5,266.4h.8M305.8,267.6h.8M296.6,268.3h.8M319.5,261.0h.8M336.4,268.8h.8M296.4,261.5h.8M314.3,269.9h.8M335.8,269.1h.8M296.6,266.4h.8M362.3,264.5h.8M329.5,269.4h.8M339.5,270.8h.8M353.2,267.6h.8M315.2,263.7h.8M330.7,264.4h.8M312.9,269.0h.8M337.7,269.0h.8M336.7,262.0h.8M315.0,267.8h.8M351.3,265.9h.8M314.9,267.6h.8M333.4,262.5h.8M306.3,264.6h.8M302.5,267.2h.8M297.9,270.5h.8M353.0,268.6h.8M295.3,266.4h.8M322.4,264.1h.8M319.4,268.2h.8M324.6,265.4h.8M312.1,264.7h.8M352.7,257.4h.8M354.3,263.1h.8M308.6,268.9h.8M322.1,264.6h.8M324.1,262.9h.8M319.3,262.6h.8M344.4,272.2h.8M336.8,261.7h.8M322.6,267.8h.8M336.4,265.6h.8M309.9,265.6h.8M307.3,267.0h.8M328.1,262.1h.8M322.0,267.8h.8M295.3,262.9h.8M313.7,267.8h.8M335.0,270.3h.8M315.6,264.5h.8M332.7,265.2h.8M321.2,266.0h.8M304.7,266.4h.8M362.6,266.6h.8M298.6,261.5h.8M351.7,270.5h.8M350.4,270.3h.8M331.2,272.0h.8M304.3,269.4h.8M342.7,264.7h.8M297.9,264.6h.8M321.5,262.7h.8M294.7,260.6h.8M336.9,267.4h.8M353.2,263.6h.8M349.2,270.2h.8M326.5,262.9h.8M303.4,260.6h.8M294.2,264.2h.8M307.7,265.8h.8M353.4,272.0h.8M350.7,273.3h.8M346.1,267.9h.8M317.3,263.3h.8M359.6,262.4h.8M365.4,263.8h.8M341.8,269.6h.8M330.4,265.4h.8M340.5,270.9h.8M372.4,265.1h.8M314.6,269.2h.8M333.3,271.7h.8M317.1,268.0h.8M362.2,270.1h.8M361.5,272.8h.8M305.7,264.0h.8M313.0,267.2h.8M302.2,269.4h.8M369.5,266.4h.8M313.9,262.6h.8M305.3,266.4h.8M358.6,267.9h.8M358.3,265.3h.8M333.3,265.3h.8M339.5,269.0h.8M299.1,270.7h.8M344.7,267.1h.8M359.4,264.2h.8M354.0,267.0h.8M341.7,262.9h.8M314.1,263.0h.8M324.6,268.9h.8M318.3,262.5h.8M295.3,269.8h.8M306.0,270.6h.8M302.6,266.9h.8M320.2,273.3h.8M344.1,262.6h.8M351.2,262.2h.8M321.4,267.5h.8M366.9,264.6h.8M352.0,268.0h.8M373.2,267.7h.8M314.3,272.5h.8M293.4,263.0h.8M328.3,267.2h.8M332.9,260.6h.8M301.5,266.3h.8M302.2,265.6h.8M329.3,267.9h.8M335.7,269.3h.8M310.9,266.3h.8M323.2,266.1h.8M313.9,264.0h.8M355.0,269.6h.8M357.2,267.5h.8M321.3,272.5h.8M307.6,263.5h.8M309.7,265.5h.8M328.2,265.1h.8M323.5,272.7h.8M356.0,266.5h.8M293.7,263.5h.8M349.3,269.8h.8M375.1,267.6h.8M343.6,264.5h.8M329.1,261.9h.8M343.4,271.3h.8M352.0,263.0h.8M336.7,271.5h.8M311.7,268.6h.8M365.4,264.4h.8M293.7,268.1h.8M325.8,266.7h.8M325.5,273.2h.8M346.2,271.4h.8M306.8,266.1h.8M347.0,263.1h.8M372.5,268.2h.8M304.7,260.4h.8M335.4,263.4h.8M335.9,267.5h.8M310.6,270.9h.8M363.7,268.0h.8M317.8,268.4h.8M314.5,269.7h.8M347.1,264.5h.8M366.0,265.7h.8M300.9,261.2h.8M354.3,266.5h.8M358.3,271.6h.8M368.7,265.7h.8M344.4,261.2h.8M300.1,264.5h.8M295.4,271.3h.8M328.4,266.3h.8M334.0,266.3h.8M364.5,261.9h.8M374.1,269.3h.8M340.4,267.8h.8M342.4,262.5h.8M320.8,264.6h.8M345.2,268.4h.8M370.5,265.4h.8M327.6,264.9h.8M325.6,267.0h.8M296.0,267.2h.8M357.2,268.1h.8M328.9,269.3h.8M301.5,267.9h.8M360.1,263.2h.8M303.6,265.0h.8M339.7,263.2h.8M317.6,266.5h.8M314.3,263.9h.8M342.2,267.7h.8M350.7,269.0h.8M324.1,266.3h.8M356.5,266.0h.8M353.8,267.9h.8M311.5,262.1h.8M343.3,264.0h.8M347.8,266.2h.8M334.8,266.9h.8M366.4,265.7h.8M340.6,261.8h.8M315.8,263.3h.8M308.8,262.5h.8M347.4,269.2h.8M353.7,268.7h.8M346.8,269.3h.8M314.7,267.5h.8M310.7,266.9h.8M296.0,268.0h.8M305.9,263.4h.8M371.1,267.1h.8M358.8,268.8h.8M343.8,267.7h.8M325.2,263.9h.8M299.2,270.5h.8M330.4,268.8h.8M318.5,266.2h.8M333.8,260.7h.8M328.6,269.9h.8M317.0,274.0h.8M306.5,271.8h.8M320.9,264.6h.8M324.5,269.7h.8M362.0,264.4h.8M332.4,267.8h.8M344.0,268.6h.8M306.9,270.3h.8M344.9,261.1h.8M309.5,267.0h.8M315.7,268.8h.8M310.9,267.3h.8M369.6,265.9h.8M306.1,265.4h.8M327.5,267.2h.8M306.4,261.9h.8M337.6,270.0h.8M333.4,262.1h.8M313.2,263.3h.8M299.3,271.2h.8M343.2,272.9h.8M350.7,268.6h.8M368.3,270.2h.8M347.0,266.8h.8M331.7,268.6h.8M351.4,264.3h.8M328.9,263.8h.8M328.4,267.8h.8M371.0,272.0h.8M339.7,269.4h.8M297.3,272.3h.8M323.3,265.5h.8M352.2,265.6h.8M322.1,262.9h.8M337.1,268.1h.8M342.2,268.7h.8M302.0,268.7h.8M347.7,263.3h.8M348.2,261.5h.8M351.9,263.6h.8M328.4,270.8h.8M327.6,267.0h.8M346.3,267.5h.8M324.6,268.0h.8M306.6,269.1h.8M369.2,263.5h.8M325.1,267.9h.8M312.7,271.4h.8M296.8,267.0h.8M362.3,270.7h.8M329.2,265.9h.8M305.0,263.4h.8M374.6,265.9h.8M350.3,268.0h.8M332.9,268.0h.8M311.3,271.0h.8M332.6,267.8h.8M336.7,269.4h.8M347.9,265.2h.8M340.3,261.3h.8M367.5,266.8h.8M372.6,266.6h.8M319.1,266.8h.8M358.2,264.8h.8M296.8,273.9h.8M319.4,264.2h.8M366.3,263.3h.8M359.0,269.0h.8M341.1,264.5h.8M323.9,267.4h.8M329.7,266.9h.8M362.2,262.6h.8M354.2,269.0h.8M342.5,264.6h.8M315.1,271.8h.8M341.9,269.2h.8M298.7,265.5h.8M345.7,272.0h.8M303.9,262.4h.8M296.5,272.1h.8M302.4,265.0h.8M312.1,261.7h.8M341.0,266.6h.8M332.2,267.7h.8M313.5,269.1h.8M346.0,262.9h.8M343.3,266.7h.8M303.9,264.0h.8M343.0,266.4h.8M356.7,265.4h.8M294.0,272.8h.8M358.6,270.4h.8M349.3,265.7h.8M308.5,263.9h.8M315.3,265.0h.8M297.6,271.9h.8M298.2,271.6h.8M331.2,267.2h.8M373.2,265.8h.8M325.1,261.5h.8M315.9,263.4h.8M374.3,273.0h.8M369.6,269.0h.8M339.1,265.5h.8M329.9,267.2h.8M340.1,265.6h.8M370.4,269.4h.8M308.4,271.1h.8M364.8,265.6h.8M311.2,267.1h.8M298.8,265.0h.8M362.0,264.7h.8M328.5,263.4h.8M308.9,263.6h.8M327.0,263.1h.8M350.0,266.3h.8M294.0,270.3h.8M371.2,266.0h.8M316.1,266.0h.8M362.3,266.9h.8M374.7,270.7h.8M308.0,270.1h.8M345.7,259.9h.8M328.6,269.2h.8M304.8,268.1h.8M317.2,264.0h.8M324.0,270.1h.8M312.4,262.5h.8M367.0,267.4h.8M335.9,269.1h.8M294.8,267.9h.8M312.7,266.0h.8M326.9,263.0h.8M327.2,267.0h.8M370.5,266.9h.8M297.9,269.4h.8M358.6,270.6h.8M315.1,260.6h.8M304.6,274.7h.8M314.2,270.1h.8M364.5,266.5h.8M363.2,261.7h.8M353.9,262.4h.8M348.3,270.9h.8M349.5,268.6h.8M303.4,267.1h.8M294.1,265.7h.8M310.7,267.3h.8M321.2,269.3h.8M331.3,265.5h.8M324.1,265.2h.8M330.1,268.3h.8M352.2,268.4h.8M342.9,263.8h.8M347.8,262.3h.8M313.5,271.7h.8M333.7,266.0h.8M310.8,264.1h.8M329.8,267.3h.8M352.9,268.2h.8M355.6,265.5h.8M337.8,268.6h.8M352.4,265.4h.8M295.0,264.6h.8M330.2,272.1h.8M321.5,266.7h.8M351.5,270.6h.8M348.0,262.4h.8M332.1,266.3h.8M327.3,272.1h.8M316.0,265.5h.8M319.9,267.6h.8M366.1,264.5h.8M367.3,266.2h.8M366.1,268.8h.8M362.3,265.4h.8M300.2,264.0h.8M331.6,266.1h.8M368.8,261.0h.8M325.3,278.0h.8M303.1,267.5h.8M328.6,266.8h.8M327.5,264.1h.8M298.3,266.9h.8M366.6,265.1h.8M333.2,262.8h.8M319.3,277.5h.8M358.9,269.4h.8M316.6,265.2h.8M354.6,265.1h.8M316.8,262.7h.8M300.6,266.7h.8M350.2,268.2h.8M361.4,268.3h.8M317.3,267.1h.8M337.8,264.3h.8M343.4,271.2h.8M331.2,287.3h.8M302.0,289.7h.8M339.9,287.8h.8M300.6,289.5h.8M322.2,269.8h.8M326.8,289.6h.8M319.4,292.2h.8M303.7,280.2h.8M328.7,281.2h.8M327.3,282.1h.8M317.4,271.2h.8M322.0,287.4h.8M361.4,273.7h.8M302.4,283.4h.8M342.6,272.8h.8M306.4,287.3h.8M310.4,287.8h.8M338.9,291.6h.8M333.4,279.9h.8M334.2,278.2h.8M336.1,284.1h.8M369.7,272.4h.8M307.8,284.2h.8M310.3,287.4h.8M300.2,280.5h.8M338.1,278.3h.8M345.6,279.1h.8M371.5,280.9h.8M331.8,280.3h.8M348.1,273.7h.8M369.6,283.5h.8M311.1,290.4h.8M329.5,292.7h.8M298.4,285.8h.8M347.8,275.8h.8M339.8,287.4h.8M369.9,272.6h.8M366.2,289.8h.8M343.8,290.4h.8M304.0,275.0h.8M310.3,289.3h.8M320.9,275.6h.8M367.2,273.7h.8M306.3,270.9h.8M302.7,279.7h.8M320.6,290.9h.8M375.1,290.4h.8M326.7,290.5h.8M295.2,285.6h.8M374.8,276.0h.8M305.8,270.2h.8M316.9,287.1h.8M295.3,276.5h.8M362.4,275.0h.8M333.8,273.5h.8M299.6,275.8h.8M295.8,289.0h.8M306.2,285.1h.8M313.2,283.6h.8M339.7,284.4h.8M307.3,288.3h.8M299.9,274.5h.8M360.8,276.1h.8M317.9,276.1h.8M369.8,281.7h.8M336.1,287.3h.8M310.4,278.5h.8M332.3,284.2h.8M365.0,285.4h.8M308.0,280.3h.8M364.6,289.4h.8M353.6,281.7h.8M328.7,290.3h.8M309.5,277.6h.8M311.9,274.8h.8M302.7,277.6h.8M350.2,274.0h.8M326.6,279.5h.8M331.0,284.6h.8M354.3,284.5h.8M296.5,292.4h.8M355.3,271.6h.8M327.3,273.7h.8M301.7,269.1h.8M352.1,288.8h.8M373.7,276.3h.8M373.1,274.5h.8M366.2,274.9h.8M308.1,284.8h.8M302.7,269.4h.8M352.9,272.7h.8M325.2,280.6h.8M357.1,285.3h.8M311.8,277.3h.8M300.0,273.1h.8M328.3,286.7h.8M326.1,277.3h.8M330.6,289.2h.8M340.2,275.8h.8M323.7,287.5h.8M369.6,271.7h.8M315.7,284.9h.8M355.6,280.4h.8M319.3,285.7h.8M353.7,282.8h.8M335.2,273.0h.8M296.7,275.1h.8M319.0,286.5h.8M343.4,279.0h.8M339.6,283.4h.8M303.9,275.1h.8M330.4,279.1h.8M305.1,281.1h.8M304.9,269.9h.8M334.8,286.8h.8M363.2,281.3h.8M325.0,285.3h.8M353.2,278.8h.8M336.9,288.3h.8M326.9,289.4h.8M342.4,275.9h.8M319.9,281.0h.8M304.8,270.3h.8M319.1,271.3h.8M318.0,278.8h.8M333.9,292.1h.8M298.5,277.7h.8M344.7,272.5h.8M331.0,283.5h.8M349.0,280.8h.8M336.6,269.4h.8M300.5,291.9h.8M310.1,283.1h.8M350.3,280.4h.8M363.3,290.5h.8M355.4,270.8h.8M350.2,276.4h.8M322.8,291.1h.8M326.6,280.3h.8M323.4,292.2h.8M344.3,278.8h.8M358.7,285.6h.8M331.9,270.2h.8M336.7,280.7h.8M333.8,279.6h.8M305.7,292.3h.8M320.5,270.7h.8M338.6,282.9h.8M323.2,287.8h.8M344.5,276.2h.8M311.4,269.2h.8M346.9,277.5h.8M361.3,280.5h.8M360.2,279.1h.8M305.5,272.5h.8M366.4,272.4h.8M358.7,289.5h.8M308.8,278.4h.8M346.0,275.1h.8M317.0,279.3h.8M310.9,291.5h.8M319.5,288.2h.8M313.4,288.6h.8M321.9,279.5h.8M319.8,285.1h.8M316.0,285.0h.8M296.1,275.8h.8M374.5,282.9h.8M320.6,278.4h.8M331.0,281.9h.8M323.8,280.7h.8M301.8,290.0h.8M369.1,280.1h.8M319.0,273.8h.8M364.1,290.4h.8M346.3,285.6h.8M365.9,283.6h.8M330.5,275.5h.8M348.7,279.9h.8M327.9,292.1h.8M311.7,291.3h.8M319.9,284.8h.8M337.9,285.4h.8M374.8,272.4h.8M358.7,280.8h.8M319.4,281.9h.8M333.6,275.6h.8M338.0,284.3h.8M351.2,288.1h.8M327.4,286.6h.8M368.0,288.3h.8M293.6,285.1h.8M302.5,288.7h.8M300.0,276.8h.8M348.7,282.3h.8M362.7,284.3h.8M357.0,291.1h.8M337.9,272.2h.8M342.7,278.2h.8M302.0,275.6h.8M361.2,275.3h.8M301.0,291.6h.8M320.9,272.8h.8M329.2,292.4h.8M328.6,282.4h.8M303.3,285.1h.8M298.0,272.2h.8M372.4,281.0h.8M370.5,272.0h.8M339.8,289.3h.8M338.6,287.0h.8M341.4,286.2h.8M310.7,282.3h.8M330.8,277.6h.8M345.1,281.6h.8M373.3,290.2h.8M295.5,281.5h.8M319.8,288.1h.8M313.4,275.1h.8M338.1,275.0h.8M303.2,286.5h.8M351.5,278.6h.8M368.3,281.0h.8M337.2,289.0h.8M361.0,289.1h.8M301.7,277.3h.8M351.8,285.4h.8M305.1,290.1h.8M374.2,273.0h.8M332.0,285.4h.8M323.2,274.5h.8M317.2,279.5h.8M338.6,279.7h.8M316.4,274.8h.8M318.2,272.5h.8M309.4,276.3h.8M314.3,273.0h.8M344.6,289.7h.8M341.2,288.4h.8M325.9,271.2h.8M359.8,287.7h.8M312.2,287.7h.8M337.5,292.3h.8M330.5,272.0h.8M316.4,278.2h.8M305.5,277.1h.8M361.5,289.7h.8M310.7,292.6h.8M298.0,292.1h.8M296.3,279.9h.8M311.5,286.9h.8M345.8,286.7h.8M342.7,289.2h.8M370.7,290.1h.8M307.3,291.6h.8M297.5,283.7h.8M322.6,275.8h.8M303.7,281.9h.8M365.1,283.6h.8M302.6,291.1h.8M312.1,276.5h.8M302.4,276.3h.8M361.0,275.3h.8M302.7,291.7h.8M368.1,280.9h.8M306.3,269.8h.8M314.7,269.7h.8M318.0,256.4h.8M342.5,255.3h.8M321.8,247.3h.8M308.8,256.4h.8M301.9,251.4h.8M323.5,259.3h.8M325.0,251.0h.8M341.7,247.1h.8M313.4,249.4h.8M353.1,253.6h.8M301.3,254.5h.8M342.5,259.4h.8M339.2,257.2h.8M367.7,250.5h.8M367.4,259.1h.8M351.9,249.1h.8M370.3,257.2h.8M361.5,252.3h.8M325.2,254.3h.8M368.6,249.7h.8M335.6,256.5h.8M365.8,258.5h.8M304.2,258.9h.8M323.5,253.0h.8M366.5,258.9h.8M294.2,279.8h.8M299.7,272.3h.8M294.3,281.3h.8M294.4,281.9h.8M294.3,270.6h.8M295.7,268.9h.8M299.3,273.7h.8M297.3,264.6h.8M297.7,276.2h.8M298.5,269.1h.8M294.9,291.7h.8M294.5,271.2h.8M299.5,290.9h.8M294.0,284.8h.8M297.2,287.5h.8M295.3,277.7h.8M301.0,278.2h.8M294.2,267.0h.8M294.1,272.9h.8M293.7,267.2h.8M297.9,281.9h.8M294.0,269.6h.8M300.2,290.7h.8M297.8,283.5h.8M293.8,270.2h.8M294.0,284.6h.8M293.5,287.1h.8M294.0,263.7h.8M300.7,273.9h.8M295.9,280.5h.8M293.7,265.9h.8M297.3,289.2h.8M296.8,277.0h.8M299.2,269.4h.8M293.6,272.7h.8M298.5,286.8h.8M297.9,272.9h.8M297.5,289.7h.8M298.6,270.2h.8M295.8,269.4h.8M293.5,289.4h.8M298.5,270.1h.8M298.5,279.3h.8M296.0,266.1h.8M294.6,288.9h.8M293.8,277.7h.8M294.8,287.8h.8M293.6,281.9h.8M297.7,275.5h.8M294.8,273.9h.8M303.7,269.5h.8M294.8,281.0h.8M295.3,273.6h.8M301.3,275.0h.8M295.3,285.3h.8M297.9,267.3h.8M295.6,283.2h.8M293.7,290.0h.8M294.1,273.4h.8M301.3,283.2h.8M297.4,286.1h.8M300.4,267.2h.8M296.1,283.6h.8M293.8,269.5h.8M300.3,273.5h.8M295.0,275.8h.8M295.8,273.6h.8M295.6,268.2h.8M300.0,278.3h.8M298.2,278.8h.8M300.2,279.4h.8M294.5,265.4h.8M296.7,266.0h.8M293.9,286.3h.8M297.2,275.3h.8M301.2,270.1h.8M298.1,265.6h.8M297.6,271.3h.8M296.7,291.2h.8M306.1,286.3h.8M294.5,265.6h.8M293.9,266.5h.8M296.4,290.9h.8M296.7,287.8h.8M298.2,265.4h.8M296.3,275.7h.8M295.1,268.5h.8M295.8,282.7h.8M293.9,264.9h.8M295.3,266.6h.8M295.1,277.2h.8M294.1,270.2h.8M293.5,281.2h.8M295.0,281.0h.8M294.5,279.0h.8M295.5,269.7h.8M297.1,278.5h.8M301.6,291.2h.8M296.7,289.6h.8M297.3,274.0h.8M294.5,286.1h.8M300.4,271.8h.8M296.8,268.9h.8M298.0,273.9h.8M295.7,289.1h.8M300.2,263.1h.8M298.6,282.0h.8M295.3,284.0h.8M294.4,269.3h.8M294.0,274.2h.8M293.7,281.8h.8M296.2,275.0h.8M295.2,287.4h.8M301.7,277.5h.8M296.3,263.9h.8M299.7,267.3h.8M293.6,266.3h.8M294.3,277.3h.8M301.2,282.0h.8M295.8,274.5h.8M294.1,270.8h.8M297.3,290.4h.8M296.5,288.1h.8M294.6,285.0h.8M297.8,282.4h.8M294.2,278.8h.8M293.8,270.1h.8M299.0,279.0h.8M303.8,290.4h.8M300.2,287.6h.8M297.3,272.5h.8M293.8,267.7h.8M296.4,265.4h.8M295.4,270.2h.8M296.6,288.5h.8M297.1,273.0h.8M301.6,273.7h.8M295.1,277.3h.8M299.4,266.8h.8M295.5,270.6h.8M372.2,300.2h.8M358.6,293.8h.8M374.3,296.3h.8M365.5,293.9h.8M363.0,292.2h.8M363.4,291.7h.8M364.5,292.8h.8M355.5,297.7h.8M364.1,293.7h.8M363.5,299.0h.8M352.0,297.3h.8M369.7,293.3h.8M370.8,292.7h.8M359.7,300.4h.8M368.7,294.6h.8M359.5,298.0h.8M348.8,302.6h.8M365.2,301.1h.8M371.0,300.3h.8M354.1,299.9h.8M369.8,300.8h.8M371.2,299.5h.8M366.9,294.3h.8M370.4,301.5h.8M371.3,300.6h.8M360.0,299.1h.8M369.1,292.2h.8M353.6,293.4h.8M350.9,292.5h.8M358.9,296.4h.8M357.9,296.7h.8M369.1,292.3h.8M353.2,299.4h.8M359.3,300.9h.8M361.4,298.5h.8M361.4,296.9h.8M357.7,302.4h.8M357.8,302.0h.8M368.2,297.3h.8M373.3,295.1h.8M352.3,301.0h.8M365.5,297.7h.8M373.4,292.5h.8M353.7,294.5h.8M358.9,294.2h.8" stroke="#1a1a1a" stroke-width="0.75" fill="none"/>
<rect x="288.8" y="234" width="88.8" height="76.3" fill="none" stroke="#000" stroke-width="1.1"/>
<line x1="347.60" y1="234.00" x2="347.60" y2="310.30" stroke="#111" stroke-width="0.9"/>
<line x1="288.80" y1="291.70" x2="377.60" y2="291.70" stroke="#111" stroke-width="0.9"/>
<text x="0" y="0" font-size="9.3" text-anchor="middle" font-weight="normal" transform="translate(363.1,243.7) scale(0.86,1)">2.0 %</text>
<line x1="284.60" y1="242.00" x2="288.80" y2="242.00" stroke="#000" stroke-width="1.0"/>
<text x="0" y="0" font-size="5" text-anchor="middle" font-weight="bold" transform="translate(282.90000000000003,242) rotate(-90)">10<tspan font-size="4.2" dy="-2.8">5</tspan></text>
<line x1="286.20" y1="253.95" x2="288.80" y2="253.95" stroke="#000" stroke-width="0.75"/>
<line x1="286.20" y1="250.94" x2="288.80" y2="250.94" stroke="#000" stroke-width="0.75"/>
<line x1="286.20" y1="248.80" x2="288.80" y2="248.80" stroke="#000" stroke-width="0.75"/>
<line x1="286.20" y1="247.15" x2="288.80" y2="247.15" stroke="#000" stroke-width="0.75"/>
<line x1="286.20" y1="245.79" x2="288.80" y2="245.79" stroke="#000" stroke-width="0.75"/>
<line x1="286.20" y1="244.65" x2="288.80" y2="244.65" stroke="#000" stroke-width="0.75"/>
<line x1="286.20" y1="243.66" x2="288.80" y2="243.66" stroke="#000" stroke-width="0.75"/>
<line x1="286.20" y1="242.78" x2="288.80" y2="242.78" stroke="#000" stroke-width="0.75"/>
<line x1="284.60" y1="259.10" x2="288.80" y2="259.10" stroke="#000" stroke-width="1.0"/>
<text x="0" y="0" font-size="5" text-anchor="middle" font-weight="bold" transform="translate(282.90000000000003,259.1) rotate(-90)">10<tspan font-size="4.2" dy="-2.8">4</tspan></text>
<line x1="286.20" y1="271.05" x2="288.80" y2="271.05" stroke="#000" stroke-width="0.75"/>
<line x1="286.20" y1="268.04" x2="288.80" y2="268.04" stroke="#000" stroke-width="0.75"/>
<line x1="286.20" y1="265.90" x2="288.80" y2="265.90" stroke="#000" stroke-width="0.75"/>
<line x1="286.20" y1="264.25" x2="288.80" y2="264.25" stroke="#000" stroke-width="0.75"/>
<line x1="286.20" y1="262.89" x2="288.80" y2="262.89" stroke="#000" stroke-width="0.75"/>
<line x1="286.20" y1="261.75" x2="288.80" y2="261.75" stroke="#000" stroke-width="0.75"/>
<line x1="286.20" y1="260.76" x2="288.80" y2="260.76" stroke="#000" stroke-width="0.75"/>
<line x1="286.20" y1="259.88" x2="288.80" y2="259.88" stroke="#000" stroke-width="0.75"/>
<line x1="284.60" y1="276.20" x2="288.80" y2="276.20" stroke="#000" stroke-width="1.0"/>
<text x="0" y="0" font-size="5" text-anchor="middle" font-weight="bold" transform="translate(282.90000000000003,276.2) rotate(-90)">10<tspan font-size="4.2" dy="-2.8">3</tspan></text>
<line x1="286.20" y1="288.15" x2="288.80" y2="288.15" stroke="#000" stroke-width="0.75"/>
<line x1="286.20" y1="285.14" x2="288.80" y2="285.14" stroke="#000" stroke-width="0.75"/>
<line x1="286.20" y1="283.00" x2="288.80" y2="283.00" stroke="#000" stroke-width="0.75"/>
<line x1="286.20" y1="281.35" x2="288.80" y2="281.35" stroke="#000" stroke-width="0.75"/>
<line x1="286.20" y1="279.99" x2="288.80" y2="279.99" stroke="#000" stroke-width="0.75"/>
<line x1="286.20" y1="278.85" x2="288.80" y2="278.85" stroke="#000" stroke-width="0.75"/>
<line x1="286.20" y1="277.86" x2="288.80" y2="277.86" stroke="#000" stroke-width="0.75"/>
<line x1="286.20" y1="276.98" x2="288.80" y2="276.98" stroke="#000" stroke-width="0.75"/>
<line x1="284.60" y1="293.30" x2="288.80" y2="293.30" stroke="#000" stroke-width="1.0"/>
<text x="0" y="0" font-size="5" text-anchor="middle" font-weight="bold" transform="translate(282.90000000000003,293.3) rotate(-90)">10<tspan font-size="4.2" dy="-2.8">2</tspan></text>
<line x1="286.20" y1="295.95" x2="288.80" y2="295.95" stroke="#000" stroke-width="0.75"/>
<line x1="286.20" y1="294.96" x2="288.80" y2="294.96" stroke="#000" stroke-width="0.75"/>
<line x1="286.20" y1="294.08" x2="288.80" y2="294.08" stroke="#000" stroke-width="0.75"/>
<line x1="286.20" y1="295.00" x2="288.80" y2="295.00" stroke="#000" stroke-width="0.7"/>
<line x1="286.20" y1="296.40" x2="288.80" y2="296.40" stroke="#000" stroke-width="0.7"/>
<line x1="286.20" y1="297.60" x2="288.80" y2="297.60" stroke="#000" stroke-width="0.7"/>
<line x1="284.60" y1="298.70" x2="288.80" y2="298.70" stroke="#000" stroke-width="1.0"/>
<text x="0" y="0" font-size="5" text-anchor="middle" font-weight="bold" transform="translate(283.6,298.7) rotate(-90)">0</text>
<line x1="286.20" y1="300.00" x2="288.80" y2="300.00" stroke="#000" stroke-width="0.7"/>
<line x1="286.20" y1="301.30" x2="288.80" y2="301.30" stroke="#000" stroke-width="0.7"/>
<line x1="286.20" y1="302.60" x2="288.80" y2="302.60" stroke="#000" stroke-width="0.7"/>
<line x1="284.60" y1="303.90" x2="288.80" y2="303.90" stroke="#000" stroke-width="1.0"/>
<line x1="285.80" y1="307.50" x2="288.80" y2="307.50" stroke="#000" stroke-width="0.8"/>
<text class="s" x="0" y="0" font-size="6.6" text-anchor="middle" font-weight="normal" transform="translate(276.40000000000003,274) rotate(-90)">PI-A</text>
<line x1="306.80" y1="310.30" x2="306.80" y2="314.70" stroke="#000" stroke-width="1.0"/>
<line x1="305.84" y1="310.30" x2="305.84" y2="313.30" stroke="#000" stroke-width="0.75"/>
<line x1="327.80" y1="310.30" x2="327.80" y2="314.70" stroke="#000" stroke-width="1.0"/>
<line x1="313.12" y1="310.30" x2="313.12" y2="313.30" stroke="#000" stroke-width="0.75"/>
<line x1="316.82" y1="310.30" x2="316.82" y2="313.30" stroke="#000" stroke-width="0.75"/>
<line x1="319.44" y1="310.30" x2="319.44" y2="313.30" stroke="#000" stroke-width="0.75"/>
<line x1="321.48" y1="310.30" x2="321.48" y2="313.30" stroke="#000" stroke-width="0.75"/>
<line x1="323.14" y1="310.30" x2="323.14" y2="313.30" stroke="#000" stroke-width="0.75"/>
<line x1="324.55" y1="310.30" x2="324.55" y2="313.30" stroke="#000" stroke-width="0.75"/>
<line x1="325.76" y1="310.30" x2="325.76" y2="313.30" stroke="#000" stroke-width="0.75"/>
<line x1="326.84" y1="310.30" x2="326.84" y2="313.30" stroke="#000" stroke-width="0.75"/>
<line x1="348.80" y1="310.30" x2="348.80" y2="314.70" stroke="#000" stroke-width="1.0"/>
<line x1="334.12" y1="310.30" x2="334.12" y2="313.30" stroke="#000" stroke-width="0.75"/>
<line x1="337.82" y1="310.30" x2="337.82" y2="313.30" stroke="#000" stroke-width="0.75"/>
<line x1="340.44" y1="310.30" x2="340.44" y2="313.30" stroke="#000" stroke-width="0.75"/>
<line x1="342.48" y1="310.30" x2="342.48" y2="313.30" stroke="#000" stroke-width="0.75"/>
<line x1="344.14" y1="310.30" x2="344.14" y2="313.30" stroke="#000" stroke-width="0.75"/>
<line x1="345.55" y1="310.30" x2="345.55" y2="313.30" stroke="#000" stroke-width="0.75"/>
<line x1="346.76" y1="310.30" x2="346.76" y2="313.30" stroke="#000" stroke-width="0.75"/>
<line x1="347.84" y1="310.30" x2="347.84" y2="313.30" stroke="#000" stroke-width="0.75"/>
<line x1="369.80" y1="310.30" x2="369.80" y2="314.70" stroke="#000" stroke-width="1.0"/>
<line x1="355.12" y1="310.30" x2="355.12" y2="313.30" stroke="#000" stroke-width="0.75"/>
<line x1="358.82" y1="310.30" x2="358.82" y2="313.30" stroke="#000" stroke-width="0.75"/>
<line x1="361.44" y1="310.30" x2="361.44" y2="313.30" stroke="#000" stroke-width="0.75"/>
<line x1="363.48" y1="310.30" x2="363.48" y2="313.30" stroke="#000" stroke-width="0.75"/>
<line x1="365.14" y1="310.30" x2="365.14" y2="313.30" stroke="#000" stroke-width="0.75"/>
<line x1="366.55" y1="310.30" x2="366.55" y2="313.30" stroke="#000" stroke-width="0.75"/>
<line x1="367.76" y1="310.30" x2="367.76" y2="313.30" stroke="#000" stroke-width="0.75"/>
<line x1="368.84" y1="310.30" x2="368.84" y2="313.30" stroke="#000" stroke-width="0.75"/>
<line x1="289.40" y1="310.30" x2="289.40" y2="313.30" stroke="#000" stroke-width="0.8"/>
<line x1="290.65" y1="310.30" x2="290.65" y2="313.30" stroke="#000" stroke-width="0.8"/>
<line x1="291.90" y1="310.30" x2="291.90" y2="313.30" stroke="#000" stroke-width="0.8"/>
<line x1="293.15" y1="310.30" x2="293.15" y2="313.30" stroke="#000" stroke-width="0.8"/>
<line x1="294.40" y1="310.30" x2="294.40" y2="313.30" stroke="#000" stroke-width="0.8"/>
<line x1="295.65" y1="310.30" x2="295.65" y2="313.30" stroke="#000" stroke-width="0.8"/>
<line x1="296.90" y1="310.30" x2="296.90" y2="313.30" stroke="#000" stroke-width="0.8"/>
<line x1="298.15" y1="310.30" x2="298.15" y2="313.30" stroke="#000" stroke-width="0.8"/>
<line x1="299.40" y1="310.30" x2="299.40" y2="313.30" stroke="#000" stroke-width="0.8"/>
<line x1="300.65" y1="310.30" x2="300.65" y2="313.30" stroke="#000" stroke-width="0.8"/>
<line x1="301.90" y1="310.30" x2="301.90" y2="313.30" stroke="#000" stroke-width="0.8"/>
<line x1="303.15" y1="310.30" x2="303.15" y2="313.30" stroke="#000" stroke-width="0.8"/>
<line x1="304.40" y1="310.30" x2="304.40" y2="313.30" stroke="#000" stroke-width="0.8"/>
<line x1="305.65" y1="310.30" x2="305.65" y2="313.30" stroke="#000" stroke-width="0.8"/>
<line x1="297.60" y1="310.30" x2="297.60" y2="314.70" stroke="#000" stroke-width="1.0"/>
<text x="297.6" y="320.0" font-size="5" text-anchor="middle" font-weight="bold" >0</text>
<text x="307.3" y="320.0" font-size="5" text-anchor="middle" font-weight="bold" >10<tspan font-size="4.2" dy="-2.8">2</tspan></text>
<text x="328.8" y="320.0" font-size="5" text-anchor="middle" font-weight="bold" >10<tspan font-size="4.2" dy="-2.8">3</tspan></text>
<text x="349.3" y="320.0" font-size="5" text-anchor="middle" font-weight="bold" >10<tspan font-size="4.2" dy="-2.8">4</tspan></text>
<text x="370.8" y="320.0" font-size="5" text-anchor="middle" font-weight="bold" >10<tspan font-size="4.2" dy="-2.8">5</tspan></text>
<text class="s" x="333.7" y="329.5" font-size="6.4" text-anchor="middle" font-weight="normal" >AnnV APC-A</text>
<text class="s" x="467.5" y="227.7" font-size="12.5" text-anchor="middle" font-weight="normal" >muPAR</text>
<path d="M426.20000000000005,298.4 Q426.20000000000005,296.4 429.20000000000005,296.4 L449.20000000000005,296.59999999999997 Q461.20000000000005,297.2 469.6,298.5 L469.6,301.3 Q461.20000000000005,302.4 449.20000000000005,303.0 L429.20000000000005,303.0 Q426.20000000000005,303.0 426.20000000000005,301.0 Z" fill="#000"/>
<path d="M471.5,298.3h.8M433.4,303.4h.8M437.4,295.6h.8M432.9,303.6h.8M456.1,303.6h.8M438.2,296.2h.8M467.4,301.7h.8M443.6,296.3h.8M452.3,296.3h.8M433.6,303.5h.8M473.5,298.1h.8M445.3,303.0h.8M463.4,302.6h.8M446.8,304.1h.8M459.8,302.6h.8M438.7,303.5h.8M449.4,303.4h.8M468.9,301.5h.8M452.7,303.5h.8M440.9,296.4h.8M467.6,301.1h.8M439.9,303.8h.8M440.3,295.7h.8M458.3,296.9h.8M463.2,302.0h.8M434.5,294.8h.8M428.0,296.3h.8M467.6,297.9h.8M461.7,297.1h.8M435.4,296.0h.8M445.7,295.7h.8M437.3,296.2h.8M429.2,295.2h.8M426.2,303.2h.8M431.4,296.3h.8M425.3,295.5h.8M463.6,297.6h.8M441.9,296.2h.8M439.0,303.8h.8M462.3,297.4h.8M468.9,301.6h.8M448.1,295.5h.8M429.7,303.1h.8M463.4,297.6h.8M450.3,303.7h.8M467.5,301.1h.8M437.7,303.7h.8M471.6,297.9h.8M437.4,296.2h.8M455.9,296.2h.8M473.3,298.8h.8M429.1,296.1h.8M455.4,303.0h.8M450.7,295.6h.8M432.5,303.3h.8M460.2,297.0h.8M430.1,296.2h.8M435.7,303.5h.8M447.2,303.4h.8M471.8,302.1h.8M445.8,296.2h.8M445.4,296.3h.8M469.8,301.3h.8M469.8,301.3h.8M439.2,303.5h.8M445.2,295.0h.8M440.0,296.3h.8M456.0,303.1h.8M435.3,296.2h.8M440.0,296.4h.8M435.8,303.3h.8M444.2,303.9h.8M432.0,303.3h.8M431.1,296.2h.8M455.0,304.2h.8M458.7,295.5h.8M455.1,303.2h.8M449.3,304.2h.8M471.6,298.7h.8M450.7,303.6h.8M460.0,303.5h.8M439.6,295.8h.8M432.8,304.1h.8M459.0,296.7h.8M453.6,296.0h.8M451.6,303.2h.8M468.7,297.6h.8M464.4,297.3h.8M431.4,303.9h.8M468.0,301.7h.8M446.4,303.7h.8M471.2,301.1h.8M429.9,296.3h.8M468.5,301.4h.8M471.1,296.9h.8M463.1,296.3h.8M447.8,296.1h.8M460.9,302.8h.8M449.9,303.1h.8M460.6,302.7h.8M459.3,302.9h.8M459.7,296.4h.8M462.1,297.0h.8M464.7,301.6h.8M472.5,298.5h.8M469.1,301.6h.8M456.7,294.9h.8M460.5,302.3h.8M469.0,297.9h.8M464.0,302.2h.8M461.2,296.3h.8M425.6,303.1h.8M448.5,295.9h.8M472.0,298.8h.8M442.2,304.1h.8M428.4,303.2h.8M470.0,302.1h.8M447.5,296.0h.8M454.9,303.6h.8M463.2,302.8h.8M437.6,295.6h.8M473.2,300.8h.8M432.7,304.8h.8M442.9,303.7h.8M452.5,296.0h.8M456.6,303.2h.8M458.6,303.7h.8M439.9,303.6h.8M456.8,304.4h.8M449.8,296.2h.8M444.1,296.1h.8M440.1,295.4h.8M471.2,298.6h.8M430.6,303.0h.8M466.7,298.1h.8M447.3,296.1h.8M449.3,303.4h.8M460.0,297.1h.8M470.2,301.4h.8M447.9,304.3h.8M434.2,296.2h.8M464.3,302.0h.8M444.6,303.2h.8M454.0,304.2h.8M461.1,303.1h.8M428.7,303.2h.8M444.3,296.3h.8M446.5,294.8h.8M468.4,298.3h.8M472.1,298.2h.8M442.2,304.4h.8M460.6,302.8h.8M425.6,303.1h.8M444.1,304.4h.8M447.9,296.1h.8M449.3,296.0h.8M463.1,301.7h.8M437.3,303.8h.8M434.3,296.4h.8M470.7,298.6h.8M466.9,297.8h.8M462.9,297.0h.8M440.7,295.7h.8M454.7,304.1h.8M436.2,295.7h.8M455.2,303.5h.8M451.6,295.6h.8M472.9,301.0h.8M465.9,301.6h.8M447.1,295.8h.8M447.0,295.2h.8M449.4,295.3h.8M428.9,304.1h.8M437.4,303.3h.8M435.9,295.7h.8M429.6,303.9h.8M427.6,303.0h.8M452.2,295.5h.8M458.9,296.1h.8M425.5,303.3h.8M458.2,296.3h.8M431.6,295.7h.8M437.1,303.1h.8M435.6,303.2h.8M441.5,304.0h.8M449.7,295.7h.8M449.9,296.0h.8M443.5,303.4h.8M441.7,295.7h.8M463.8,297.5h.8M452.4,303.1h.8M448.9,303.9h.8M436.3,296.1h.8M426.7,295.4h.8M435.5,303.9h.8M455.5,303.5h.8M459.2,303.5h.8M466.9,298.0h.8M465.6,301.8h.8M430.4,296.3h.8M462.1,295.9h.8M447.7,303.2h.8M471.8,298.4h.8M438.6,295.4h.8M445.2,303.1h.8M439.6,296.2h.8M456.0,303.0h.8M445.5,303.0h.8M451.2,304.0h.8M468.4,301.6h.8M462.6,297.4h.8M447.2,303.8h.8M443.7,303.7h.8M446.7,303.7h.8M466.3,301.4h.8M454.5,303.4h.8M436.0,296.1h.8M435.2,303.6h.8M429.9,296.2h.8M440.6,303.6h.8M463.6,301.8h.8M448.0,296.1h.8M438.9,296.3h.8M462.5,297.2h.8M455.8,303.8h.8M449.2,295.8h.8M432.5,303.9h.8M436.2,304.2h.8M453.8,303.5h.8M435.5,296.3h.8M437.9,295.7h.8M444.1,303.8h.8M431.0,303.7h.8M443.6,295.9h.8M436.8,295.0h.8M429.6,296.1h.8M427.8,303.7h.8M430.1,303.5h.8M450.4,304.0h.8M460.8,296.7h.8M438.7,296.0h.8M432.1,303.1h.8M436.9,295.6h.8M470.8,298.2h.8M456.2,296.4h.8M459.4,296.7h.8M440.2,304.8h.8M442.4,303.3h.8M458.4,296.6h.8M463.2,301.9h.8M463.7,302.2h.8M449.9,294.9h.8M426.4,304.0h.8M442.1,296.0h.8M466.9,298.0h.8M462.5,302.7h.8M445.5,296.3h.8M453.9,303.2h.8M457.8,304.1h.8M472.1,298.7h.8M444.7,303.8h.8M428.5,295.8h.8M451.8,295.6h.8M449.4,303.0h.8M453.4,295.5h.8M450.7,303.3h.8M445.9,296.2h.8M460.8,297.0h.8M472.3,298.1h.8M446.4,303.1h.8M433.1,296.1h.8M437.4,296.1h.8M472.5,301.0h.8M446.6,303.2h.8M434.3,303.1h.8M461.5,296.9h.8M464.9,296.4h.8M426.4,303.8h.8M452.7,303.0h.8M442.9,304.2h.8M469.1,297.8h.8M447.5,303.3h.8M445.5,296.4h.8M471.6,297.8h.8M446.1,303.6h.8M471.8,301.1h.8M447.1,303.8h.8M433.2,295.9h.8M457.4,296.0h.8M473.0,298.4h.8M444.9,303.7h.8M456.5,303.1h.8M457.6,296.6h.8M447.2,296.3h.8M425.7,303.3h.8M444.9,303.6h.8M463.1,303.1h.8M446.7,295.4h.8M454.4,303.9h.8M459.8,297.0h.8M425.7,304.6h.8M472.2,300.7h.8M456.1,296.4h.8M433.2,304.0h.8M463.0,302.8h.8M447.7,303.5h.8M429.4,295.9h.8M466.1,297.9h.8M468.5,298.3h.8M444.5,303.8h.8M453.6,295.1h.8M461.0,297.3h.8M458.0,296.3h.8M463.5,296.9h.8M469.6,298.4h.8M462.9,297.6h.8M461.1,303.2h.8M425.7,295.5h.8M440.0,303.4h.8M471.6,298.8h.8M432.1,303.9h.8M438.1,303.6h.8M451.2,303.0h.8M468.3,298.3h.8M429.0,296.1h.8M470.0,298.2h.8M458.9,302.5h.8M436.3,303.4h.8M455.9,296.3h.8M469.8,298.4h.8M440.8,304.0h.8M449.6,295.6h.8M442.2,303.1h.8M452.0,295.9h.8M461.6,302.7h.8M466.9,297.4h.8M431.8,304.1h.8M448.5,303.1h.8M439.6,296.0h.8M464.9,297.9h.8M442.2,295.2h.8M458.0,296.4h.8M429.5,295.2h.8M436.3,303.6h.8M473.1,298.6h.8M456.6,296.2h.8M465.5,302.1h.8M452.3,296.0h.8M450.7,296.3h.8M458.3,302.7h.8M432.2,295.7h.8M459.1,296.3h.8M429.4,295.7h.8M457.9,294.8h.8M451.2,303.4h.8M458.0,302.9h.8M447.3,303.1h.8M444.3,295.7h.8M461.3,302.3h.8M445.7,296.0h.8M432.0,295.1h.8M433.5,295.8h.8M473.3,300.6h.8M430.5,295.6h.8M458.6,296.9h.8M463.7,301.7h.8M464.8,297.3h.8M464.4,296.6h.8M471.9,300.8h.8M448.6,303.7h.8M462.3,302.5h.8M439.5,304.2h.8M450.7,303.9h.8M437.6,303.2h.8M468.1,301.2h.8M466.3,302.8h.8M450.6,303.3h.8M464.6,297.5h.8M472.8,301.2h.8M434.4,303.6h.8M468.4,298.1h.8M447.3,295.9h.8M460.9,297.1h.8M427.3,295.1h.8M468.6,300.9h.8M444.5,296.0h.8M468.6,297.3h.8M449.5,303.6h.8M451.9,303.6h.8M471.6,298.0h.8M427.9,303.2h.8M439.4,295.8h.8M447.8,295.9h.8M437.7,303.2h.8M438.0,303.6h.8M445.4,296.2h.8M434.1,303.8h.8M439.6,295.5h.8M462.1,296.3h.8M472.0,298.2h.8M426.2,303.3h.8M452.6,304.1h.8M446.0,303.1h.8M435.1,296.3h.8M432.7,303.0h.8M453.6,303.1h.8M468.7,297.4h.8M455.9,295.5h.8M445.1,296.3h.8M455.1,303.4h.8M451.5,296.1h.8M453.5,296.2h.8M435.7,296.2h.8M468.8,298.2h.8M433.5,295.5h.8M438.8,295.9h.8M467.6,297.8h.8M471.6,298.1h.8M442.6,296.2h.8M425.3,295.7h.8M464.8,301.8h.8M462.7,302.3h.8M473.6,298.7h.8M473.4,296.8h.8M454.6,303.4h.8M445.6,304.6h.8M468.2,298.0h.8M454.5,296.3h.8M428.3,295.7h.8M432.5,295.9h.8M448.4,295.9h.8M441.6,303.2h.8M446.4,295.7h.8M441.0,296.0h.8M460.5,296.8h.8M427.9,303.0h.8M470.5,298.5h.8M426.8,295.0h.8M443.9,303.9h.8M455.5,296.1h.8M461.6,296.7h.8M469.7,297.3h.8M429.1,303.9h.8M438.2,296.3h.8M462.5,302.2h.8M433.7,295.4h.8M469.4,297.6h.8M447.5,295.6h.8M456.4,295.5h.8M464.8,303.1h.8M457.7,296.3h.8M461.9,297.1h.8M433.3,294.4h.8M438.6,304.2h.8M473.3,300.9h.8M440.9,296.2h.8M453.6,296.1h.8M430.7,303.8h.8M456.9,302.8h.8M427.2,303.3h.8M460.3,297.0h.8M456.4,295.9h.8M463.0,301.8h.8M439.9,303.8h.8M473.0,298.5h.8M430.9,296.0h.8M438.6,295.8h.8M460.6,296.8h.8M459.4,296.6h.8M465.1,301.6h.8M451.3,294.9h.8M457.8,304.8h.8M473.3,298.4h.8M425.4,296.0h.8M462.5,296.8h.8M435.6,304.6h.8M467.9,302.2h.8M426.0,303.4h.8M445.0,296.3h.8M447.5,296.1h.8M452.2,303.3h.8M451.6,296.1h.8M450.2,295.7h.8M454.8,304.1h.8M455.6,303.4h.8M453.1,295.5h.8M428.5,295.3h.8M441.7,304.3h.8M427.8,296.2h.8M442.7,296.2h.8M462.6,302.1h.8M427.5,303.3h.8M428.5,295.8h.8M437.9,303.1h.8M441.8,304.3h.8M441.2,296.1h.8M454.9,296.4h.8M469.7,301.9h.8M471.1,301.7h.8M438.8,295.4h.8M437.5,295.4h.8M442.1,296.4h.8M471.1,298.2h.8M439.5,303.6h.8M427.6,303.3h.8M470.7,298.3h.8M437.6,304.5h.8M451.2,303.1h.8M452.6,303.7h.8M444.3,296.1h.8M430.4,304.5h.8M453.3,303.2h.8M444.6,305.0h.8M448.6,304.1h.8M465.4,302.4h.8M435.0,295.3h.8M425.6,303.1h.8M471.9,298.3h.8M457.0,303.2h.8M457.4,303.0h.8M454.5,303.1h.8M467.1,297.7h.8M434.8,295.9h.8M452.8,304.2h.8M468.2,298.2h.8M445.1,296.4h.8M443.6,296.1h.8M471.9,302.6h.8M465.3,302.1h.8M432.1,303.4h.8M444.6,303.7h.8M445.9,294.9h.8M455.7,303.3h.8M448.2,303.4h.8M426.6,303.6h.8M453.0,303.3h.8M427.6,295.5h.8M433.5,304.4h.8M464.2,297.1h.8M455.6,295.4h.8M449.4,303.7h.8M466.5,297.2h.8M430.9,303.0h.8M458.8,303.2h.8M438.8,296.2h.8M445.6,303.0h.8M434.1,295.7h.8M439.0,295.9h.8M468.7,301.5h.8M458.3,296.0h.8M432.9,303.4h.8M450.5,295.3h.8M453.4,303.3h.8M438.3,296.0h.8M462.8,303.6h.8M456.1,295.5h.8M425.9,303.9h.8M473.3,298.8h.8M452.0,303.2h.8M453.9,303.4h.8M466.9,302.1h.8M425.6,304.5h.8M469.6,297.8h.8M468.7,297.8h.8M457.7,302.7h.8M440.0,295.9h.8M438.2,296.1h.8M459.4,297.0h.8M445.6,296.0h.8M435.7,295.4h.8M466.0,297.4h.8M435.7,303.9h.8M442.5,303.7h.8M456.0,303.3h.8M451.5,295.5h.8M441.1,296.2h.8M436.6,296.4h.8M446.2,295.6h.8M458.4,295.9h.8M447.4,296.0h.8M471.6,301.5h.8M470.2,300.7h.8M453.9,295.8h.8M470.4,296.9h.8M429.4,303.2h.8M459.0,297.0h.8M472.5,301.6h.8M454.8,303.9h.8M453.9,303.7h.8M459.1,296.6h.8M469.5,298.3h.8M456.0,295.4h.8M427.4,303.8h.8M447.5,303.4h.8M443.5,295.6h.8M432.4,303.1h.8M462.6,297.2h.8M459.2,296.7h.8M441.8,295.9h.8M468.8,297.8h.8M441.4,295.8h.8M431.5,296.3h.8M473.0,297.5h.8M427.6,304.7h.8M439.9,303.2h.8M464.9,297.9h.8M429.1,295.4h.8M461.9,297.3h.8M436.2,303.6h.8M437.0,295.8h.8M471.8,298.4h.8M463.2,302.4h.8M454.9,303.6h.8M455.0,303.2h.8M453.4,303.1h.8M426.3,303.3h.8M461.4,303.3h.8M435.2,296.0h.8M442.5,304.3h.8M429.7,296.2h.8M465.0,295.8h.8M425.5,303.9h.8M453.8,295.4h.8M440.2,303.9h.8M463.6,297.7h.8M460.1,302.8h.8M434.2,303.3h.8M473.1,298.4h.8M428.8,303.9h.8M457.8,302.7h.8M442.7,303.4h.8M453.5,303.0h.8M459.3,296.8h.8M432.3,294.8h.8M465.1,296.8h.8M431.1,303.9h.8M445.0,303.1h.8M444.3,296.2h.8M428.6,303.9h.8M431.0,304.1h.8M452.2,304.4h.8M443.5,295.9h.8M455.5,296.1h.8M431.4,303.3h.8M466.3,297.8h.8M460.6,296.4h.8M456.1,296.4h.8M464.2,297.2h.8M435.2,303.3h.8M448.6,294.9h.8M432.5,296.4h.8M426.1,295.8h.8M452.5,303.6h.8M459.7,296.5h.8M442.0,303.0h.8M441.9,296.3h.8M454.7,295.2h.8M447.1,303.4h.8M441.3,303.4h.8M458.8,303.4h.8M438.3,303.2h.8M473.5,301.1h.8M468.7,301.0h.8M469.7,298.5h.8M439.9,303.6h.8M461.8,302.6h.8M458.4,302.8h.8M463.8,302.7h.8M439.7,295.6h.8M460.3,296.6h.8M461.5,302.4h.8M471.9,301.0h.8M458.6,302.8h.8M441.3,303.6h.8M436.9,295.8h.8M458.3,296.1h.8M430.5,303.4h.8M453.2,296.4h.8M453.8,304.1h.8M444.0,303.7h.8M428.0,296.3h.8M438.0,295.0h.8M460.7,303.5h.8M439.5,303.2h.8M459.1,302.6h.8M453.3,304.2h.8M452.5,295.9h.8M451.3,295.0h.8M470.2,298.2h.8M446.0,303.5h.8M451.0,303.3h.8M463.2,297.5h.8M462.5,302.7h.8M457.5,296.2h.8M463.1,302.5h.8M452.4,303.4h.8M425.7,295.7h.8M469.8,298.3h.8M431.8,303.8h.8M433.5,296.3h.8M471.7,297.1h.8M481.6,300.7h.8M471.9,301.3h.8M477.9,302.4h.8M478.1,299.4h.8M471.9,301.1h.8M470.4,298.3h.8M471.4,298.8h.8M479.6,296.6h.8M476.0,301.3h.8M476.9,299.7h.8M472.5,299.8h.8M469.7,299.2h.8M480.0,297.7h.8M474.2,299.0h.8M471.7,301.5h.8M473.8,298.6h.8M479.0,301.6h.8M472.3,295.9h.8M486.1,296.3h.8M480.3,296.4h.8M475.5,299.5h.8M473.5,302.1h.8M492.2,300.9h.8M476.0,302.0h.8M471.5,304.0h.8M475.4,298.1h.8M472.2,302.2h.8M480.8,302.5h.8M478.9,301.2h.8M471.3,294.7h.8M474.3,299.2h.8M470.6,296.4h.8M469.8,299.1h.8M472.9,299.7h.8M474.3,299.2h.8M475.5,303.7h.8M473.5,300.9h.8M478.8,300.9h.8M475.8,295.5h.8M484.1,296.9h.8M470.2,301.5h.8M473.0,300.9h.8M472.0,301.3h.8M473.8,299.8h.8M475.2,293.2h.8M469.9,293.4h.8M471.7,297.1h.8M470.3,297.7h.8M474.6,295.1h.8M477.5,298.6h.8M472.4,298.7h.8M469.7,300.6h.8M469.6,304.1h.8M473.9,297.7h.8M477.0,297.7h.8M471.0,300.8h.8M476.6,295.4h.8M473.8,298.2h.8M484.0,296.0h.8M479.0,297.7h.8M477.5,296.5h.8M473.7,300.0h.8M481.1,300.6h.8M471.6,300.2h.8M470.6,298.4h.8M474.4,297.6h.8M470.8,301.9h.8M480.8,302.2h.8M482.1,302.5h.8M475.7,298.5h.8M476.5,298.9h.8M473.2,299.8h.8M471.6,296.9h.8M474.0,298.4h.8M470.3,300.7h.8M475.0,295.8h.8M474.6,297.1h.8M472.1,301.6h.8M470.8,295.5h.8M474.7,300.0h.8M469.8,299.7h.8M473.9,298.2h.8M471.0,296.4h.8M486.6,300.9h.8M480.7,293.2h.8M473.2,300.1h.8M477.6,300.8h.8M470.9,298.1h.8M478.0,298.9h.8M473.8,300.5h.8M475.7,301.4h.8M472.5,298.9h.8M473.6,299.0h.8M473.3,298.7h.8M477.3,297.6h.8M471.8,298.7h.8M471.3,296.9h.8M471.9,298.8h.8M473.4,299.8h.8M478.9,301.0h.8M473.4,301.2h.8M476.0,296.8h.8M482.0,299.3h.8M479.3,295.4h.8M475.5,301.9h.8M470.2,292.7h.8M482.1,297.9h.8M474.3,299.0h.8M473.5,301.8h.8M476.1,298.8h.8M472.3,299.5h.8M486.0,301.9h.8M470.5,297.8h.8M473.5,300.1h.8M469.8,296.6h.8M476.0,297.9h.8M474.4,295.9h.8M476.0,299.1h.8M473.1,295.1h.8M472.4,300.9h.8M484.0,304.0h.8M477.7,300.8h.8M474.0,302.3h.8M470.7,297.4h.8M475.4,300.1h.8M470.9,296.3h.8M477.7,297.6h.8M470.5,296.5h.8M462.7,264.2h.8M465.7,267.6h.8M476.3,264.4h.8M453.1,265.0h.8M473.8,267.2h.8M491.9,267.5h.8M443.2,260.8h.8M455.8,267.2h.8M457.0,263.2h.8M471.9,264.5h.8M442.7,262.9h.8M444.1,267.0h.8M433.3,270.4h.8M436.1,270.7h.8M438.0,262.9h.8M489.0,267.0h.8M474.3,262.6h.8M454.5,269.3h.8M444.6,264.4h.8M443.8,271.3h.8M481.8,268.4h.8M450.5,265.3h.8M463.5,266.7h.8M459.0,270.2h.8M443.1,267.7h.8M502.8,265.5h.8M454.7,263.7h.8M466.3,263.3h.8M471.7,268.8h.8M505.1,265.2h.8M432.6,273.0h.8M455.7,264.6h.8M503.9,268.4h.8M488.7,270.5h.8M458.6,269.7h.8M466.3,264.8h.8M450.7,267.6h.8M462.5,263.7h.8M461.1,262.7h.8M469.3,269.2h.8M490.8,261.4h.8M464.6,266.2h.8M475.4,273.4h.8M481.1,260.5h.8M479.1,267.9h.8M432.5,263.1h.8M462.7,269.2h.8M476.7,270.8h.8M452.0,267.2h.8M452.8,271.2h.8M440.0,274.5h.8M474.7,267.2h.8M456.8,264.3h.8M468.9,268.8h.8M473.1,264.0h.8M485.6,268.8h.8M431.8,275.4h.8M463.1,265.6h.8M478.3,272.1h.8M440.4,269.0h.8M479.2,267.3h.8M445.7,266.7h.8M454.5,261.0h.8M464.4,263.8h.8M480.9,263.2h.8M507.2,270.3h.8M497.8,269.3h.8M428.0,270.4h.8M439.2,266.8h.8M454.6,264.1h.8M452.6,263.0h.8M450.6,275.0h.8M431.1,267.9h.8M448.8,264.4h.8M464.5,265.0h.8M466.3,258.7h.8M454.0,268.6h.8M478.5,270.7h.8M476.9,266.2h.8M449.1,266.1h.8M438.4,260.7h.8M435.6,269.9h.8M507.2,272.2h.8M469.6,266.3h.8M431.2,266.0h.8M446.6,270.0h.8M442.9,257.2h.8M437.3,266.0h.8M500.8,265.8h.8M456.3,271.5h.8M428.4,266.2h.8M427.7,272.4h.8M466.0,270.8h.8M492.3,262.6h.8M477.9,260.7h.8M499.6,264.7h.8M432.9,264.8h.8M475.2,271.9h.8M473.3,267.9h.8M472.2,276.6h.8M467.1,263.6h.8M446.3,262.3h.8M436.7,272.0h.8M428.4,262.3h.8M448.9,265.0h.8M483.9,268.4h.8M463.3,268.9h.8M487.9,271.5h.8M474.3,271.8h.8M437.9,273.0h.8M451.2,265.3h.8M432.2,270.4h.8M436.1,266.4h.8M433.4,263.0h.8M503.5,275.0h.8M454.9,272.5h.8M432.8,260.8h.8M457.2,263.1h.8M442.5,269.7h.8M441.1,268.4h.8M486.1,269.2h.8M455.5,262.2h.8M471.2,259.7h.8M499.6,262.7h.8M453.6,268.9h.8M426.1,272.8h.8M493.1,261.7h.8M448.0,263.0h.8M454.4,262.6h.8M459.7,273.8h.8M463.0,270.2h.8M478.6,268.6h.8M430.3,261.4h.8M439.3,261.4h.8M433.5,267.8h.8M437.4,270.0h.8M428.1,263.7h.8M459.4,267.0h.8M462.5,266.7h.8M475.1,268.5h.8M470.3,267.0h.8M444.8,266.3h.8M444.1,267.4h.8M473.6,272.0h.8M450.8,265.7h.8M439.9,265.3h.8M490.6,269.9h.8M477.4,268.0h.8M434.9,268.7h.8M426.3,266.2h.8M447.5,270.5h.8M426.3,266.6h.8M443.3,265.5h.8M482.3,263.0h.8M431.5,271.0h.8M462.2,268.5h.8M445.6,271.4h.8M464.5,270.9h.8M485.4,269.7h.8M503.4,270.8h.8M443.0,266.4h.8M459.9,263.2h.8M494.4,264.9h.8M431.7,264.0h.8M451.6,262.7h.8M464.1,275.2h.8M488.1,262.2h.8M490.5,268.3h.8M458.5,268.6h.8M497.6,266.1h.8M491.9,270.7h.8M470.9,268.2h.8M451.0,261.2h.8M502.3,261.0h.8M456.9,268.2h.8M450.7,272.8h.8M477.9,273.8h.8M469.5,266.8h.8M497.4,272.2h.8M478.6,260.6h.8M432.7,272.7h.8M447.9,267.1h.8M493.3,268.7h.8M440.7,265.8h.8M447.3,274.2h.8M491.9,278.5h.8M451.0,274.8h.8M425.2,262.9h.8M458.9,269.4h.8M436.1,262.9h.8M446.8,262.9h.8M472.5,267.2h.8M490.9,262.9h.8M465.0,267.9h.8M467.1,269.6h.8M471.6,271.1h.8M429.5,272.7h.8M450.2,259.7h.8M446.9,263.8h.8M435.9,265.8h.8M445.2,270.0h.8M438.4,262.3h.8M426.5,262.8h.8M459.3,266.3h.8M449.0,263.7h.8M467.2,264.8h.8M436.5,267.1h.8M452.7,264.7h.8M489.8,269.8h.8M453.2,260.7h.8M431.0,263.2h.8M476.2,270.4h.8M464.7,271.9h.8M439.8,268.3h.8M429.2,273.2h.8M434.7,270.5h.8M458.5,271.2h.8M429.0,263.7h.8M483.1,267.8h.8M450.7,268.0h.8M434.8,267.0h.8M435.3,260.8h.8M478.7,275.4h.8M454.2,270.5h.8M439.3,271.1h.8M438.0,261.0h.8M456.0,262.2h.8M494.1,266.0h.8M455.3,275.3h.8M433.0,268.0h.8M431.0,267.2h.8M429.9,264.1h.8M431.5,264.6h.8M464.9,266.2h.8M481.3,271.2h.8M435.5,270.6h.8M492.1,269.6h.8M442.8,268.8h.8M457.8,279.4h.8M447.6,269.3h.8M472.1,265.4h.8M458.0,265.1h.8M450.7,271.8h.8M471.9,265.4h.8M428.9,266.9h.8M490.4,261.6h.8M464.2,271.9h.8M503.5,264.1h.8M458.9,272.5h.8M462.1,268.6h.8M507.2,268.0h.8M477.3,272.6h.8M458.3,274.3h.8M455.0,270.2h.8M456.9,266.4h.8M476.7,271.0h.8M431.5,262.8h.8M428.9,268.6h.8M427.6,264.8h.8M493.5,267.2h.8M500.3,263.4h.8M446.1,263.5h.8M455.9,268.0h.8M452.3,273.2h.8M481.8,269.2h.8M443.4,268.5h.8M495.8,266.1h.8M461.8,274.0h.8M459.5,267.2h.8M435.0,262.2h.8M451.3,267.4h.8M477.3,267.2h.8M450.2,264.6h.8M444.1,268.5h.8M474.3,271.2h.8M463.7,273.2h.8M462.6,265.1h.8M430.5,262.2h.8M454.4,266.6h.8M469.2,267.7h.8M443.8,265.0h.8M426.5,262.8h.8M452.5,267.0h.8M440.2,269.8h.8M464.2,267.4h.8M448.9,264.5h.8M434.6,264.6h.8M442.7,268.0h.8M463.3,271.5h.8M461.9,272.6h.8M468.4,262.6h.8M463.4,274.5h.8M474.9,261.3h.8M487.8,275.4h.8M427.7,261.3h.8M454.8,271.4h.8M500.5,269.2h.8M452.9,270.3h.8M451.1,267.9h.8M494.5,267.0h.8M495.5,274.1h.8M483.5,270.8h.8M446.2,267.5h.8M442.0,263.6h.8M480.8,268.5h.8M461.5,264.0h.8M458.7,261.5h.8M449.7,260.9h.8M432.3,272.4h.8M428.4,265.8h.8M472.1,263.4h.8M464.3,268.6h.8M433.5,264.0h.8M428.7,267.9h.8M439.1,268.1h.8M434.8,265.6h.8M450.9,271.6h.8M471.6,262.9h.8M486.8,264.3h.8M437.3,264.4h.8M437.4,272.3h.8M447.1,271.3h.8M464.9,265.0h.8M462.3,261.9h.8M501.7,270.6h.8M440.2,270.0h.8M443.2,264.6h.8M491.1,268.0h.8M459.3,266.1h.8M486.0,267.3h.8M465.0,270.9h.8M442.4,274.7h.8M450.2,266.6h.8M434.3,270.5h.8M462.4,275.1h.8M434.9,260.9h.8M435.1,267.2h.8M461.3,265.7h.8M459.2,272.8h.8M432.6,271.7h.8M446.4,269.0h.8M450.3,268.9h.8M428.7,269.1h.8M434.3,262.4h.8M455.5,266.0h.8M431.7,272.2h.8M458.5,269.5h.8M483.6,268.3h.8M459.9,265.4h.8M462.0,263.5h.8M435.5,267.4h.8M466.4,275.9h.8M474.1,260.9h.8M466.7,266.5h.8M438.2,269.0h.8M479.4,264.6h.8M434.6,273.6h.8M448.9,265.2h.8M445.5,264.8h.8M458.9,267.0h.8M475.0,261.5h.8M435.5,270.0h.8M504.5,260.5h.8M459.6,287.0h.8M430.9,279.2h.8M435.1,278.4h.8M466.2,280.6h.8M426.3,269.1h.8M491.7,274.7h.8M471.8,287.8h.8M470.6,292.0h.8M488.1,278.0h.8M477.7,274.9h.8M447.9,272.5h.8M466.1,287.5h.8M503.6,277.6h.8M430.9,275.1h.8M433.5,273.7h.8M439.5,291.3h.8M459.0,270.4h.8M446.6,288.4h.8M449.5,277.4h.8M496.6,284.4h.8M425.8,277.3h.8M508.3,287.0h.8M437.5,271.0h.8M435.9,292.4h.8M452.2,285.5h.8M438.0,269.1h.8M446.7,277.3h.8M458.3,280.3h.8M438.7,272.1h.8M434.6,289.4h.8M441.3,285.1h.8M448.1,291.0h.8M466.6,271.9h.8M454.7,291.0h.8M437.6,286.3h.8M433.0,288.0h.8M475.2,281.1h.8M437.1,276.9h.8M464.9,277.8h.8M436.6,287.4h.8M465.6,281.8h.8M476.6,284.1h.8M448.6,287.4h.8M436.9,279.3h.8M444.8,271.0h.8M508.0,290.0h.8M485.5,270.2h.8M449.2,275.1h.8M477.7,279.3h.8M474.5,286.6h.8M441.8,277.2h.8M429.3,279.2h.8M443.6,286.7h.8M437.0,290.9h.8M475.3,271.3h.8M466.2,283.7h.8M443.3,282.1h.8M459.1,280.8h.8M507.6,287.3h.8M478.6,271.5h.8M459.6,272.5h.8M428.6,292.4h.8M486.7,275.1h.8M445.2,292.4h.8M432.9,269.8h.8M436.3,278.2h.8M507.1,273.4h.8M475.9,280.9h.8M486.7,269.7h.8M483.2,278.5h.8M448.6,276.3h.8M449.9,272.1h.8M448.9,272.7h.8M469.5,289.2h.8M458.3,291.5h.8M475.0,274.8h.8M430.1,280.9h.8M459.8,273.9h.8M489.4,279.4h.8M446.9,289.7h.8M493.5,278.9h.8M437.4,278.1h.8M483.6,284.0h.8M433.8,290.6h.8M453.0,278.7h.8M469.4,269.0h.8M449.2,277.7h.8M448.2,277.8h.8M475.4,272.6h.8M455.7,273.2h.8M447.2,278.2h.8M454.1,271.4h.8M448.7,286.7h.8M487.9,281.7h.8M443.1,275.6h.8M429.7,292.5h.8M483.2,280.7h.8M437.9,292.4h.8M471.7,289.9h.8M431.7,288.0h.8M467.6,281.9h.8M457.4,290.4h.8M465.9,282.5h.8M461.6,287.0h.8M493.3,278.6h.8M491.7,284.0h.8M456.6,275.3h.8M478.9,278.0h.8M430.2,285.8h.8M435.7,273.6h.8M466.9,286.2h.8M435.2,279.2h.8M426.7,279.6h.8M439.5,277.0h.8M429.1,277.3h.8M471.5,274.8h.8M495.2,286.3h.8M428.4,271.9h.8M429.7,276.2h.8M475.1,284.1h.8M476.2,282.2h.8M432.1,274.1h.8M463.3,269.1h.8M475.5,287.8h.8M491.4,289.6h.8M460.3,286.2h.8M444.0,270.7h.8M466.2,276.2h.8M503.6,278.8h.8M460.0,277.1h.8M452.0,272.8h.8M453.4,286.2h.8M430.5,282.1h.8M505.7,275.8h.8M469.4,289.8h.8M427.1,280.9h.8M467.3,270.5h.8M446.2,273.0h.8M472.4,289.3h.8M508.2,271.7h.8M441.3,281.6h.8M443.5,276.2h.8M432.5,274.6h.8M447.7,283.1h.8M454.4,285.5h.8M462.6,284.0h.8M469.0,284.8h.8M484.1,292.5h.8M466.4,287.2h.8M491.4,269.5h.8M430.2,276.9h.8M464.3,289.0h.8M478.5,290.9h.8M445.7,276.6h.8M476.1,272.2h.8M508.2,289.4h.8M477.7,290.7h.8M467.9,282.8h.8M486.5,280.3h.8M469.1,289.4h.8M453.7,273.8h.8M436.9,277.4h.8M506.8,280.1h.8M461.4,289.8h.8M455.9,282.1h.8M463.9,287.1h.8M432.9,288.6h.8M454.1,277.3h.8M456.2,270.3h.8M490.4,272.1h.8M488.3,271.6h.8M466.4,270.1h.8M426.2,275.0h.8M486.8,273.7h.8M507.3,274.7h.8M500.8,275.9h.8M452.1,282.6h.8M476.1,289.9h.8M499.5,260.2h.8M453.3,251.0h.8M498.3,247.7h.8M478.4,249.7h.8M440.3,259.4h.8M461.3,250.6h.8M475.7,254.1h.8M498.7,256.3h.8M457.9,258.2h.8M490.9,251.8h.8M428.4,257.3h.8M473.1,248.4h.8M494.6,259.2h.8M471.7,259.3h.8M479.3,258.3h.8M450.4,249.9h.8M467.1,255.4h.8M479.6,258.0h.8M428.9,252.0h.8M438.7,247.4h.8M469.2,260.3h.8M480.3,247.4h.8M476.1,253.3h.8M497.0,257.1h.8M428.1,250.0h.8M427.7,275.4h.8M430.3,265.2h.8M426.0,283.2h.8M429.3,278.3h.8M429.4,282.0h.8M429.1,285.4h.8M428.7,265.9h.8M434.8,276.3h.8M428.4,271.0h.8M427.4,265.3h.8M434.5,281.2h.8M432.6,282.6h.8M428.1,274.1h.8M436.9,275.9h.8M426.8,273.2h.8M428.5,277.6h.8M432.7,273.4h.8M428.9,273.7h.8M428.1,283.6h.8M432.6,288.6h.8M432.1,265.0h.8M428.1,289.6h.8M426.8,285.2h.8M425.7,274.5h.8M434.3,276.5h.8M427.0,286.5h.8M425.4,264.0h.8M431.4,284.4h.8M431.5,271.7h.8M430.7,263.8h.8M426.1,275.8h.8M427.5,278.0h.8M425.8,289.3h.8M429.3,270.2h.8M434.4,281.6h.8M425.4,289.0h.8M427.4,270.8h.8M426.4,272.6h.8M425.4,273.0h.8M427.7,263.1h.8M433.0,277.3h.8M431.3,280.1h.8M429.5,274.8h.8M427.2,284.8h.8M427.2,285.4h.8M428.5,267.8h.8M428.1,284.2h.8M427.0,282.0h.8M431.7,285.7h.8M427.7,280.6h.8M431.5,286.9h.8M426.6,287.1h.8M426.8,271.0h.8M426.7,263.3h.8M428.3,278.7h.8M429.4,279.4h.8M428.8,274.2h.8M428.4,280.0h.8M426.7,266.4h.8M425.3,283.3h.8M426.4,277.0h.8M425.5,277.4h.8M426.7,274.9h.8M430.4,281.4h.8M426.5,276.0h.8M430.1,264.6h.8M429.6,277.2h.8M426.5,273.7h.8M432.5,269.6h.8M426.0,289.0h.8M429.1,287.0h.8M426.9,264.8h.8M425.7,271.4h.8M431.7,277.7h.8M426.7,288.8h.8M426.0,271.3h.8M426.9,265.1h.8M427.2,283.6h.8M431.6,285.4h.8M426.2,266.2h.8M425.9,289.7h.8M442.1,277.4h.8M425.8,269.6h.8M426.4,287.3h.8M425.7,273.5h.8M427.4,289.0h.8M425.5,289.4h.8M425.4,267.7h.8M434.5,264.7h.8M426.3,280.9h.8M427.9,280.8h.8M435.8,267.5h.8M435.2,281.7h.8M431.3,288.5h.8M430.4,288.2h.8M426.5,279.2h.8M432.1,263.8h.8M429.0,282.9h.8M429.1,280.3h.8M431.0,281.4h.8M426.9,279.1h.8M427.2,264.4h.8M433.8,278.5h.8M434.5,276.6h.8M428.3,274.0h.8M429.3,266.8h.8M425.5,273.2h.8M426.3,271.2h.8M427.7,276.6h.8M428.2,289.4h.8M431.4,271.3h.8M430.3,286.3h.8M430.0,267.1h.8M436.3,285.9h.8M430.5,285.2h.8M430.1,289.7h.8M427.2,274.2h.8M428.4,264.6h.8M430.0,291.3h.8M427.7,289.1h.8M429.9,288.8h.8M425.8,273.3h.8M428.6,283.9h.8M425.6,274.0h.8M433.4,289.6h.8M425.8,275.0h.8M425.3,285.7h.8M430.3,271.9h.8M433.3,283.0h.8M433.1,288.5h.8M425.7,264.3h.8M426.6,288.0h.8M429.5,266.0h.8M432.2,291.4h.8M427.2,285.1h.8M433.0,286.4h.8M431.2,283.2h.8M428.2,270.4h.8M427.3,276.2h.8M435.9,285.5h.8M471.0,271.2h.8M471.8,271.3h.8M471.1,267.2h.8M469.3,261.2h.8M469.1,266.9h.8M473.3,270.9h.8M470.2,266.3h.8M469.4,269.0h.8M475.2,266.7h.8M470.9,271.5h.8M473.8,266.7h.8M473.0,264.7h.8M469.0,269.2h.8M468.5,269.4h.8M469.7,266.4h.8M468.9,266.9h.8M472.4,267.0h.8M470.9,263.6h.8M468.4,264.9h.8M467.8,270.3h.8M467.2,276.4h.8M467.4,266.8h.8M465.1,268.1h.8M470.7,265.8h.8M472.0,268.5h.8M469.7,262.7h.8M469.4,269.9h.8M469.4,269.6h.8M471.0,267.0h.8M472.3,270.5h.8M470.7,268.6h.8M471.6,271.1h.8M468.7,269.8h.8M471.6,267.8h.8M474.2,270.9h.8M506.4,300.2h.8M480.4,298.7h.8M490.4,294.1h.8M494.6,300.5h.8M497.5,301.0h.8M479.5,296.5h.8M504.8,299.0h.8M497.6,296.9h.8M502.6,300.6h.8M507.8,298.5h.8M503.6,299.6h.8M489.1,293.6h.8M484.6,292.8h.8M480.0,296.3h.8M507.2,295.6h.8M494.3,292.5h.8M496.0,297.0h.8M487.3,299.9h.8M483.7,295.0h.8M494.0,296.5h.8M488.1,299.9h.8M497.7,292.3h.8M498.5,292.2h.8M491.6,295.7h.8M498.6,293.9h.8" stroke="#1a1a1a" stroke-width="0.75" fill="none"/>
<rect x="420.6" y="234" width="90.2" height="76.3" fill="none" stroke="#000" stroke-width="1.1"/>
<line x1="479.40" y1="234.00" x2="479.40" y2="310.30" stroke="#111" stroke-width="0.9"/>
<line x1="420.60" y1="291.70" x2="510.80" y2="291.70" stroke="#111" stroke-width="0.9"/>
<text x="0" y="0" font-size="9.3" text-anchor="middle" font-weight="normal" transform="translate(497.90000000000003,243.7) scale(0.86,1)">0.8 %</text>
<line x1="416.40" y1="242.00" x2="420.60" y2="242.00" stroke="#000" stroke-width="1.0"/>
<text x="0" y="0" font-size="5" text-anchor="middle" font-weight="bold" transform="translate(414.70000000000005,242) rotate(-90)">10<tspan font-size="4.2" dy="-2.8">5</tspan></text>
<line x1="418.00" y1="253.95" x2="420.60" y2="253.95" stroke="#000" stroke-width="0.75"/>
<line x1="418.00" y1="250.94" x2="420.60" y2="250.94" stroke="#000" stroke-width="0.75"/>
<line x1="418.00" y1="248.80" x2="420.60" y2="248.80" stroke="#000" stroke-width="0.75"/>
<line x1="418.00" y1="247.15" x2="420.60" y2="247.15" stroke="#000" stroke-width="0.75"/>
<line x1="418.00" y1="245.79" x2="420.60" y2="245.79" stroke="#000" stroke-width="0.75"/>
<line x1="418.00" y1="244.65" x2="420.60" y2="244.65" stroke="#000" stroke-width="0.75"/>
<line x1="418.00" y1="243.66" x2="420.60" y2="243.66" stroke="#000" stroke-width="0.75"/>
<line x1="418.00" y1="242.78" x2="420.60" y2="242.78" stroke="#000" stroke-width="0.75"/>
<line x1="416.40" y1="259.10" x2="420.60" y2="259.10" stroke="#000" stroke-width="1.0"/>
<text x="0" y="0" font-size="5" text-anchor="middle" font-weight="bold" transform="translate(414.70000000000005,259.1) rotate(-90)">10<tspan font-size="4.2" dy="-2.8">4</tspan></text>
<line x1="418.00" y1="271.05" x2="420.60" y2="271.05" stroke="#000" stroke-width="0.75"/>
<line x1="418.00" y1="268.04" x2="420.60" y2="268.04" stroke="#000" stroke-width="0.75"/>
<line x1="418.00" y1="265.90" x2="420.60" y2="265.90" stroke="#000" stroke-width="0.75"/>
<line x1="418.00" y1="264.25" x2="420.60" y2="264.25" stroke="#000" stroke-width="0.75"/>
<line x1="418.00" y1="262.89" x2="420.60" y2="262.89" stroke="#000" stroke-width="0.75"/>
<line x1="418.00" y1="261.75" x2="420.60" y2="261.75" stroke="#000" stroke-width="0.75"/>
<line x1="418.00" y1="260.76" x2="420.60" y2="260.76" stroke="#000" stroke-width="0.75"/>
<line x1="418.00" y1="259.88" x2="420.60" y2="259.88" stroke="#000" stroke-width="0.75"/>
<line x1="416.40" y1="276.20" x2="420.60" y2="276.20" stroke="#000" stroke-width="1.0"/>
<text x="0" y="0" font-size="5" text-anchor="middle" font-weight="bold" transform="translate(414.70000000000005,276.2) rotate(-90)">10<tspan font-size="4.2" dy="-2.8">3</tspan></text>
<line x1="418.00" y1="288.15" x2="420.60" y2="288.15" stroke="#000" stroke-width="0.75"/>
<line x1="418.00" y1="285.14" x2="420.60" y2="285.14" stroke="#000" stroke-width="0.75"/>
<line x1="418.00" y1="283.00" x2="420.60" y2="283.00" stroke="#000" stroke-width="0.75"/>
<line x1="418.00" y1="281.35" x2="420.60" y2="281.35" stroke="#000" stroke-width="0.75"/>
<line x1="418.00" y1="279.99" x2="420.60" y2="279.99" stroke="#000" stroke-width="0.75"/>
<line x1="418.00" y1="278.85" x2="420.60" y2="278.85" stroke="#000" stroke-width="0.75"/>
<line x1="418.00" y1="277.86" x2="420.60" y2="277.86" stroke="#000" stroke-width="0.75"/>
<line x1="418.00" y1="276.98" x2="420.60" y2="276.98" stroke="#000" stroke-width="0.75"/>
<line x1="416.40" y1="293.30" x2="420.60" y2="293.30" stroke="#000" stroke-width="1.0"/>
<text x="0" y="0" font-size="5" text-anchor="middle" font-weight="bold" transform="translate(414.70000000000005,293.3) rotate(-90)">10<tspan font-size="4.2" dy="-2.8">2</tspan></text>
<line x1="418.00" y1="295.95" x2="420.60" y2="295.95" stroke="#000" stroke-width="0.75"/>
<line x1="418.00" y1="294.96" x2="420.60" y2="294.96" stroke="#000" stroke-width="0.75"/>
<line x1="418.00" y1="294.08" x2="420.60" y2="294.08" stroke="#000" stroke-width="0.75"/>
<line x1="418.00" y1="295.00" x2="420.60" y2="295.00" stroke="#000" stroke-width="0.7"/>
<line x1="418.00" y1="296.40" x2="420.60" y2="296.40" stroke="#000" stroke-width="0.7"/>
<line x1="418.00" y1="297.60" x2="420.60" y2="297.60" stroke="#000" stroke-width="0.7"/>
<line x1="416.40" y1="298.70" x2="420.60" y2="298.70" stroke="#000" stroke-width="1.0"/>
<text x="0" y="0" font-size="5" text-anchor="middle" font-weight="bold" transform="translate(415.40000000000003,298.7) rotate(-90)">0</text>
<line x1="418.00" y1="300.00" x2="420.60" y2="300.00" stroke="#000" stroke-width="0.7"/>
<line x1="418.00" y1="301.30" x2="420.60" y2="301.30" stroke="#000" stroke-width="0.7"/>
<line x1="418.00" y1="302.60" x2="420.60" y2="302.60" stroke="#000" stroke-width="0.7"/>
<line x1="416.40" y1="303.90" x2="420.60" y2="303.90" stroke="#000" stroke-width="1.0"/>
<line x1="417.60" y1="307.50" x2="420.60" y2="307.50" stroke="#000" stroke-width="0.8"/>
<text class="s" x="0" y="0" font-size="6.6" text-anchor="middle" font-weight="normal" transform="translate(408.20000000000005,274) rotate(-90)">PI-A</text>
<line x1="438.60" y1="310.30" x2="438.60" y2="314.70" stroke="#000" stroke-width="1.0"/>
<line x1="437.64" y1="310.30" x2="437.64" y2="313.30" stroke="#000" stroke-width="0.75"/>
<line x1="459.60" y1="310.30" x2="459.60" y2="314.70" stroke="#000" stroke-width="1.0"/>
<line x1="444.92" y1="310.30" x2="444.92" y2="313.30" stroke="#000" stroke-width="0.75"/>
<line x1="448.62" y1="310.30" x2="448.62" y2="313.30" stroke="#000" stroke-width="0.75"/>
<line x1="451.24" y1="310.30" x2="451.24" y2="313.30" stroke="#000" stroke-width="0.75"/>
<line x1="453.28" y1="310.30" x2="453.28" y2="313.30" stroke="#000" stroke-width="0.75"/>
<line x1="454.94" y1="310.30" x2="454.94" y2="313.30" stroke="#000" stroke-width="0.75"/>
<line x1="456.35" y1="310.30" x2="456.35" y2="313.30" stroke="#000" stroke-width="0.75"/>
<line x1="457.56" y1="310.30" x2="457.56" y2="313.30" stroke="#000" stroke-width="0.75"/>
<line x1="458.64" y1="310.30" x2="458.64" y2="313.30" stroke="#000" stroke-width="0.75"/>
<line x1="480.60" y1="310.30" x2="480.60" y2="314.70" stroke="#000" stroke-width="1.0"/>
<line x1="465.92" y1="310.30" x2="465.92" y2="313.30" stroke="#000" stroke-width="0.75"/>
<line x1="469.62" y1="310.30" x2="469.62" y2="313.30" stroke="#000" stroke-width="0.75"/>
<line x1="472.24" y1="310.30" x2="472.24" y2="313.30" stroke="#000" stroke-width="0.75"/>
<line x1="474.28" y1="310.30" x2="474.28" y2="313.30" stroke="#000" stroke-width="0.75"/>
<line x1="475.94" y1="310.30" x2="475.94" y2="313.30" stroke="#000" stroke-width="0.75"/>
<line x1="477.35" y1="310.30" x2="477.35" y2="313.30" stroke="#000" stroke-width="0.75"/>
<line x1="478.56" y1="310.30" x2="478.56" y2="313.30" stroke="#000" stroke-width="0.75"/>
<line x1="479.64" y1="310.30" x2="479.64" y2="313.30" stroke="#000" stroke-width="0.75"/>
<line x1="501.60" y1="310.30" x2="501.60" y2="314.70" stroke="#000" stroke-width="1.0"/>
<line x1="486.92" y1="310.30" x2="486.92" y2="313.30" stroke="#000" stroke-width="0.75"/>
<line x1="490.62" y1="310.30" x2="490.62" y2="313.30" stroke="#000" stroke-width="0.75"/>
<line x1="493.24" y1="310.30" x2="493.24" y2="313.30" stroke="#000" stroke-width="0.75"/>
<line x1="495.28" y1="310.30" x2="495.28" y2="313.30" stroke="#000" stroke-width="0.75"/>
<line x1="496.94" y1="310.30" x2="496.94" y2="313.30" stroke="#000" stroke-width="0.75"/>
<line x1="498.35" y1="310.30" x2="498.35" y2="313.30" stroke="#000" stroke-width="0.75"/>
<line x1="499.56" y1="310.30" x2="499.56" y2="313.30" stroke="#000" stroke-width="0.75"/>
<line x1="500.64" y1="310.30" x2="500.64" y2="313.30" stroke="#000" stroke-width="0.75"/>
<line x1="421.20" y1="310.30" x2="421.20" y2="313.30" stroke="#000" stroke-width="0.8"/>
<line x1="422.45" y1="310.30" x2="422.45" y2="313.30" stroke="#000" stroke-width="0.8"/>
<line x1="423.70" y1="310.30" x2="423.70" y2="313.30" stroke="#000" stroke-width="0.8"/>
<line x1="424.95" y1="310.30" x2="424.95" y2="313.30" stroke="#000" stroke-width="0.8"/>
<line x1="426.20" y1="310.30" x2="426.20" y2="313.30" stroke="#000" stroke-width="0.8"/>
<line x1="427.45" y1="310.30" x2="427.45" y2="313.30" stroke="#000" stroke-width="0.8"/>
<line x1="428.70" y1="310.30" x2="428.70" y2="313.30" stroke="#000" stroke-width="0.8"/>
<line x1="429.95" y1="310.30" x2="429.95" y2="313.30" stroke="#000" stroke-width="0.8"/>
<line x1="431.20" y1="310.30" x2="431.20" y2="313.30" stroke="#000" stroke-width="0.8"/>
<line x1="432.45" y1="310.30" x2="432.45" y2="313.30" stroke="#000" stroke-width="0.8"/>
<line x1="433.70" y1="310.30" x2="433.70" y2="313.30" stroke="#000" stroke-width="0.8"/>
<line x1="434.95" y1="310.30" x2="434.95" y2="313.30" stroke="#000" stroke-width="0.8"/>
<line x1="436.20" y1="310.30" x2="436.20" y2="313.30" stroke="#000" stroke-width="0.8"/>
<line x1="437.45" y1="310.30" x2="437.45" y2="313.30" stroke="#000" stroke-width="0.8"/>
<line x1="429.40" y1="310.30" x2="429.40" y2="314.70" stroke="#000" stroke-width="1.0"/>
<text x="429.40000000000003" y="320.0" font-size="5" text-anchor="middle" font-weight="bold" >0</text>
<text x="439.1" y="320.0" font-size="5" text-anchor="middle" font-weight="bold" >10<tspan font-size="4.2" dy="-2.8">2</tspan></text>
<text x="460.6" y="320.0" font-size="5" text-anchor="middle" font-weight="bold" >10<tspan font-size="4.2" dy="-2.8">3</tspan></text>
<text x="481.1" y="320.0" font-size="5" text-anchor="middle" font-weight="bold" >10<tspan font-size="4.2" dy="-2.8">4</tspan></text>
<text x="502.6" y="320.0" font-size="5" text-anchor="middle" font-weight="bold" >10<tspan font-size="4.2" dy="-2.8">5</tspan></text>
<text class="s" x="465.5" y="329.5" font-size="6.4" text-anchor="middle" font-weight="normal" >AnnV APC-A</text>
<text class="s" x="338" y="347.5" font-size="12.5" text-anchor="middle" font-weight="normal" >muPAR<tspan font-size="9" dy="-4.5">W32A</tspan></text>
<path d="M293.40000000000003,414.3 Q293.40000000000003,412.3 296.40000000000003,412.3 L316.40000000000003,412.5 Q328.40000000000003,413.1 340.8,415.3 L340.8,418.1 Q328.40000000000003,420.09999999999997 316.40000000000003,420.7 L296.40000000000003,420.7 Q293.40000000000003,420.7 293.40000000000003,418.7 Z" fill="#000"/>
<path d="M304.9,411.6h.8M325.2,412.0h.8M324.1,420.4h.8M344.6,418.1h.8M320.7,421.9h.8M304.6,411.4h.8M337.9,418.1h.8M295.8,411.2h.8M308.2,412.0h.8M323.6,421.0h.8M329.8,420.5h.8M315.7,411.5h.8M338.5,414.2h.8M305.9,420.9h.8M333.2,420.1h.8M322.5,421.4h.8M323.0,421.3h.8M337.3,413.3h.8M329.0,421.1h.8M322.2,411.9h.8M325.6,420.2h.8M337.1,418.4h.8M297.0,411.9h.8M307.8,420.9h.8M338.1,414.0h.8M312.2,421.5h.8M321.3,423.4h.8M308.6,412.2h.8M298.1,410.4h.8M307.7,421.3h.8M300.6,411.6h.8M311.3,412.2h.8M339.4,418.9h.8M312.6,411.2h.8M324.9,421.4h.8M304.9,421.2h.8M315.3,421.6h.8M293.0,420.8h.8M344.1,418.6h.8M325.5,412.7h.8M325.6,421.3h.8M310.9,420.9h.8M331.1,412.2h.8M293.5,421.7h.8M305.6,421.0h.8M301.7,411.3h.8M308.8,421.0h.8M333.7,413.7h.8M332.9,413.0h.8M299.3,412.1h.8M326.7,420.0h.8M315.2,411.8h.8M297.7,421.8h.8M304.2,411.9h.8M296.6,411.7h.8M304.2,411.8h.8M294.2,411.7h.8M322.5,422.0h.8M310.2,412.1h.8M299.2,421.3h.8M319.6,421.7h.8M307.6,420.9h.8M294.3,420.7h.8M341.8,417.6h.8M321.7,411.5h.8M331.9,419.2h.8M320.9,411.3h.8M343.3,414.3h.8M334.9,413.1h.8M319.2,412.0h.8M339.4,417.9h.8M331.5,413.8h.8M318.8,411.8h.8M314.1,411.5h.8M310.3,421.6h.8M334.9,414.3h.8M310.8,411.2h.8M298.6,411.2h.8M333.9,414.2h.8M325.3,420.3h.8M295.0,420.7h.8M319.6,411.3h.8M317.2,411.5h.8M294.8,411.3h.8M296.0,412.1h.8M318.7,421.0h.8M300.6,411.7h.8M323.1,421.4h.8M306.3,421.1h.8M292.6,420.9h.8M334.1,413.5h.8M326.5,420.2h.8M325.8,412.3h.8M311.9,421.3h.8M332.2,420.0h.8M316.5,411.7h.8M303.9,420.8h.8M314.7,421.0h.8M299.2,411.6h.8M339.4,418.0h.8M298.8,411.2h.8M336.9,418.7h.8M327.4,420.2h.8M323.2,412.3h.8M317.2,412.3h.8M297.2,412.1h.8M326.9,420.0h.8M336.5,414.6h.8M293.7,411.6h.8M342.3,418.8h.8M334.3,413.4h.8M320.1,412.3h.8M298.0,412.1h.8M309.4,412.2h.8M335.8,413.5h.8M316.2,420.7h.8M305.7,421.6h.8M343.0,417.9h.8M318.6,421.8h.8M314.2,422.3h.8M300.6,421.0h.8M297.4,421.0h.8M340.4,418.9h.8M299.5,411.5h.8M300.1,422.0h.8M320.6,421.3h.8M327.6,420.6h.8M343.9,414.9h.8M308.5,421.4h.8M301.4,420.8h.8M304.9,420.8h.8M344.3,418.0h.8M329.2,412.1h.8M335.5,414.3h.8M317.6,411.8h.8M330.8,413.2h.8M316.9,411.5h.8M333.1,413.5h.8M342.6,417.6h.8M306.0,411.8h.8M325.0,412.3h.8M337.7,418.4h.8M302.0,412.3h.8M297.3,421.0h.8M294.3,421.7h.8M292.8,421.2h.8M309.8,421.2h.8M323.1,420.6h.8M312.9,421.1h.8M327.3,412.7h.8M315.4,422.2h.8M312.0,421.7h.8M332.1,419.6h.8M341.9,418.5h.8M298.0,421.1h.8M298.3,421.5h.8M319.1,412.1h.8M322.1,411.2h.8M326.2,412.3h.8M326.7,411.6h.8M298.1,411.4h.8M326.4,420.5h.8M321.5,411.7h.8M301.6,412.1h.8M298.0,412.3h.8M331.2,420.1h.8M297.6,421.8h.8M294.6,421.7h.8M305.4,422.0h.8M315.9,411.0h.8M310.9,411.7h.8M328.1,412.5h.8M302.1,411.3h.8M312.9,411.8h.8M323.4,411.6h.8M320.9,411.3h.8M322.2,411.8h.8M307.8,421.2h.8M339.1,418.5h.8M308.6,422.2h.8M343.6,418.4h.8M294.0,411.6h.8M330.5,412.7h.8M304.7,411.5h.8M319.8,421.1h.8M303.5,421.9h.8M298.2,422.2h.8M299.5,411.9h.8M325.1,411.7h.8M318.9,420.9h.8M320.6,421.4h.8M328.8,412.0h.8M296.6,412.0h.8M310.4,411.1h.8M341.2,414.3h.8M317.8,411.8h.8M333.6,419.2h.8M300.8,420.9h.8M317.2,411.5h.8M326.4,420.2h.8M293.6,420.7h.8M301.9,411.5h.8M330.1,419.8h.8M311.3,421.4h.8M304.1,412.1h.8M311.8,421.2h.8M320.4,412.2h.8M313.6,411.9h.8M325.8,412.5h.8M318.1,412.0h.8M336.5,419.0h.8M329.3,413.2h.8M304.9,412.2h.8M343.0,415.3h.8M305.1,421.1h.8M325.0,420.3h.8M340.2,415.1h.8M343.8,418.1h.8M333.8,419.7h.8M294.0,420.8h.8M325.4,420.3h.8M315.2,412.1h.8M323.4,411.6h.8M293.4,411.6h.8M317.6,411.4h.8M302.9,422.0h.8M310.2,422.2h.8M294.2,421.6h.8M331.8,419.6h.8M336.9,414.5h.8M319.0,422.0h.8M313.5,421.0h.8M336.2,419.0h.8M314.1,412.0h.8M315.7,421.5h.8M319.0,421.8h.8M342.2,414.8h.8M293.6,421.7h.8M297.2,411.9h.8M334.4,413.4h.8M338.4,413.5h.8M330.8,419.7h.8M344.6,414.8h.8M342.5,415.1h.8M310.1,420.9h.8M326.4,412.8h.8M328.5,413.0h.8M344.0,415.3h.8M304.4,412.1h.8M314.4,421.6h.8M333.7,413.2h.8M294.6,412.1h.8M323.7,412.0h.8M296.9,422.2h.8M313.3,411.5h.8M338.1,419.0h.8M313.5,420.8h.8M341.9,418.2h.8M335.1,414.4h.8M308.1,412.2h.8M310.3,412.0h.8M321.4,420.7h.8M314.6,411.9h.8M310.8,412.0h.8M310.0,421.2h.8M309.3,412.1h.8M330.5,420.2h.8M314.3,411.9h.8M339.7,419.0h.8M313.7,412.2h.8M307.7,412.2h.8M330.3,419.7h.8M318.8,412.2h.8M331.4,419.3h.8M318.2,411.6h.8M331.5,420.2h.8M299.9,420.9h.8M296.5,411.6h.8M317.9,422.8h.8M338.3,418.3h.8M341.8,417.9h.8M320.0,411.5h.8M311.2,420.9h.8M338.9,418.7h.8M331.6,412.8h.8M300.2,412.2h.8M334.0,418.7h.8M343.7,417.7h.8M302.1,412.3h.8M306.9,421.2h.8M334.9,419.4h.8M308.7,411.9h.8M330.3,420.1h.8M294.7,423.1h.8M301.1,411.7h.8M342.4,419.0h.8M321.3,420.8h.8M293.3,411.2h.8M339.4,417.9h.8M316.9,421.4h.8M307.8,411.5h.8M328.2,412.7h.8M316.2,421.1h.8M316.1,411.9h.8M294.4,420.9h.8M337.0,419.1h.8M294.0,411.9h.8M317.9,421.0h.8M306.4,421.9h.8M327.4,420.7h.8M331.8,419.3h.8M302.6,421.0h.8M335.8,419.1h.8M295.0,410.6h.8M309.0,421.3h.8M321.5,411.9h.8M343.8,415.0h.8M318.3,412.2h.8M298.4,411.1h.8M325.5,410.9h.8M328.7,420.3h.8M306.4,421.3h.8M321.7,412.2h.8M304.8,411.3h.8M301.7,422.0h.8M327.7,413.1h.8M332.2,413.8h.8M308.7,412.1h.8M342.7,415.3h.8M312.4,411.9h.8M293.8,412.1h.8M299.3,412.1h.8M341.5,414.7h.8M341.4,413.1h.8M343.7,414.5h.8M295.8,421.9h.8M317.2,421.6h.8M320.2,421.5h.8M320.6,421.1h.8M300.2,420.9h.8M323.5,412.1h.8M308.2,411.7h.8M299.2,411.0h.8M313.8,412.2h.8M338.0,418.1h.8M344.4,418.8h.8M297.2,420.9h.8M309.5,411.9h.8M312.0,421.5h.8M323.4,421.5h.8M307.4,421.8h.8M306.5,411.9h.8M344.6,415.1h.8M307.2,421.5h.8M320.2,412.1h.8M344.1,417.8h.8M314.3,420.7h.8M295.5,422.3h.8M311.6,410.9h.8M295.3,421.3h.8M337.9,418.6h.8M293.0,421.5h.8M311.9,412.3h.8M323.0,412.4h.8M295.8,412.3h.8M299.7,412.1h.8M302.7,411.5h.8M320.6,421.9h.8M335.8,414.3h.8M315.5,410.6h.8M304.2,412.2h.8M339.1,418.2h.8M301.5,412.2h.8M315.0,421.3h.8M344.0,418.1h.8M306.8,421.0h.8M323.1,421.6h.8M315.3,411.5h.8M338.4,414.1h.8M315.5,420.8h.8M317.5,420.7h.8M325.5,412.5h.8M314.3,411.7h.8M338.7,414.0h.8M295.1,410.8h.8M339.7,415.0h.8M304.6,420.8h.8M335.6,418.9h.8M327.1,411.0h.8M303.0,421.2h.8M322.9,421.4h.8M324.9,420.9h.8M323.0,411.0h.8M315.8,421.4h.8M318.3,411.5h.8M302.0,411.9h.8M340.3,417.8h.8M336.5,418.3h.8M318.5,420.9h.8M338.5,415.0h.8M304.1,421.4h.8M305.5,422.5h.8M330.8,413.1h.8M303.9,420.9h.8M317.7,411.9h.8M303.7,421.1h.8M331.8,419.4h.8M323.8,421.3h.8M315.6,411.7h.8M296.5,421.7h.8M306.5,420.8h.8M328.3,412.6h.8M317.8,421.3h.8M344.6,417.6h.8M314.4,411.9h.8M323.0,412.2h.8M308.0,412.0h.8M337.6,418.2h.8M310.6,412.1h.8M325.1,421.2h.8M307.5,421.3h.8M344.2,418.2h.8M321.7,421.1h.8M314.6,421.2h.8M329.0,419.8h.8M329.8,420.1h.8M330.4,413.5h.8M320.8,421.0h.8M322.6,411.6h.8M330.3,419.5h.8M327.3,412.7h.8M297.7,411.0h.8M319.4,421.4h.8M306.8,420.8h.8M341.7,414.8h.8M303.5,411.5h.8M306.1,412.2h.8M306.3,412.0h.8M305.9,421.2h.8M330.8,412.8h.8M331.7,413.2h.8M344.0,418.2h.8M332.3,413.9h.8M294.6,420.8h.8M311.9,421.6h.8M331.4,419.9h.8M307.9,420.8h.8M323.1,420.7h.8M315.0,412.1h.8M303.5,410.4h.8M336.8,418.3h.8M305.9,420.8h.8M343.8,415.0h.8M317.8,421.3h.8M327.4,412.4h.8M306.0,411.2h.8M299.6,411.2h.8M329.0,419.8h.8M327.2,420.8h.8M306.2,411.3h.8M314.2,411.8h.8M294.1,421.1h.8M294.7,411.7h.8M312.8,421.8h.8M325.3,420.7h.8M316.1,412.0h.8M314.2,411.9h.8M313.1,411.3h.8M307.6,412.0h.8M313.7,420.8h.8M319.2,421.5h.8M327.1,412.3h.8M308.6,412.2h.8M301.7,421.0h.8M341.0,415.4h.8M315.4,412.0h.8M304.2,421.6h.8M298.8,421.9h.8M331.2,419.7h.8M293.5,412.2h.8M329.5,419.5h.8M339.9,415.0h.8M335.2,419.0h.8M308.1,420.9h.8M321.9,421.3h.8M342.9,414.6h.8M304.8,411.6h.8M331.4,413.6h.8M327.7,413.0h.8M318.4,421.5h.8M314.5,422.2h.8M321.8,421.3h.8M341.6,417.8h.8M308.4,421.0h.8M303.2,411.1h.8M326.5,420.8h.8M303.0,420.9h.8M323.8,412.3h.8M313.5,420.7h.8M301.9,411.4h.8M316.1,422.1h.8M338.7,418.9h.8M311.5,421.7h.8M311.5,420.8h.8M304.4,411.8h.8M332.5,413.3h.8M297.8,421.6h.8M317.5,421.7h.8M324.5,420.4h.8M313.1,411.9h.8M339.1,414.9h.8M343.7,414.7h.8M298.5,411.8h.8M323.6,420.9h.8M314.5,412.2h.8M300.7,421.8h.8M319.3,412.3h.8M305.7,411.7h.8M321.3,411.9h.8M343.5,417.7h.8M312.8,411.8h.8M338.1,418.2h.8M309.9,422.3h.8M333.0,413.4h.8M319.0,421.0h.8M335.2,413.3h.8M335.4,414.0h.8M333.9,418.9h.8M343.1,415.0h.8M340.3,414.8h.8M320.3,420.9h.8M306.3,421.1h.8M316.0,411.5h.8M308.7,411.0h.8M313.3,421.7h.8M334.1,414.3h.8M322.6,411.9h.8M301.5,421.0h.8M309.6,411.9h.8M333.2,413.6h.8M307.6,421.1h.8M315.6,421.2h.8M292.4,412.3h.8M311.8,421.0h.8M302.8,422.1h.8M312.1,421.1h.8M341.3,418.7h.8M317.5,420.8h.8M296.3,420.7h.8M302.2,412.1h.8M331.0,419.6h.8M308.8,422.1h.8M336.7,414.4h.8M343.7,415.0h.8M326.0,420.1h.8M310.7,421.5h.8M327.9,410.6h.8M298.1,412.0h.8M297.9,411.9h.8M327.1,413.0h.8M315.5,412.1h.8M319.2,411.9h.8M343.7,418.3h.8M332.6,413.3h.8M326.2,412.1h.8M303.8,421.7h.8M315.7,421.7h.8M327.5,412.0h.8M308.3,421.8h.8M296.5,411.7h.8M334.7,414.2h.8M319.7,420.9h.8M331.8,413.2h.8M307.9,412.0h.8M308.3,421.4h.8M313.6,421.4h.8M325.2,411.3h.8M323.9,420.7h.8M326.0,420.2h.8M324.8,421.5h.8M333.1,413.9h.8M336.8,419.2h.8M335.0,419.1h.8M313.1,412.1h.8M299.4,421.3h.8M292.4,411.3h.8M304.9,411.9h.8M307.6,411.9h.8M292.5,421.7h.8M308.2,411.4h.8M333.4,413.6h.8M325.2,421.0h.8M317.3,410.3h.8M295.8,411.7h.8M310.6,411.6h.8M301.8,420.9h.8M337.0,414.5h.8M317.4,411.4h.8M328.0,419.8h.8M299.8,421.3h.8M333.5,419.0h.8M322.8,411.3h.8M313.6,421.0h.8M340.7,414.4h.8M324.8,420.8h.8M314.4,421.0h.8M334.2,414.0h.8M313.7,411.1h.8M332.2,413.1h.8M336.7,413.1h.8M302.0,421.3h.8M338.5,414.0h.8M311.1,411.8h.8M331.6,419.6h.8M324.6,412.2h.8M311.4,412.3h.8M306.2,411.9h.8M322.3,422.0h.8M320.1,420.9h.8M338.7,415.1h.8M305.8,421.5h.8M332.2,419.6h.8M298.0,421.1h.8M335.7,418.5h.8M329.0,421.0h.8M326.2,420.4h.8M296.4,421.3h.8M338.8,417.9h.8M328.8,420.1h.8M326.6,412.7h.8M304.6,421.1h.8M315.9,411.9h.8M322.3,412.3h.8M326.8,420.1h.8M333.9,418.9h.8M308.7,421.3h.8M305.9,411.7h.8M334.6,418.7h.8M306.1,411.2h.8M300.9,421.9h.8M293.0,421.4h.8M338.0,418.3h.8M312.9,420.9h.8M335.1,419.2h.8M337.2,418.9h.8M343.3,415.1h.8M330.7,420.0h.8M320.9,411.7h.8M332.1,413.6h.8M322.8,420.8h.8M296.3,412.1h.8M300.1,412.1h.8M311.0,412.0h.8M301.2,421.0h.8M309.4,420.8h.8M333.6,418.8h.8M297.0,411.9h.8M321.8,421.4h.8M302.0,411.0h.8M297.0,421.5h.8M326.9,412.7h.8M304.8,421.0h.8M295.6,410.8h.8M325.0,421.0h.8M300.8,411.6h.8M315.9,411.2h.8M336.3,419.3h.8M329.0,420.1h.8M315.3,420.9h.8M304.8,421.7h.8M331.2,413.6h.8M304.3,421.4h.8M337.7,418.6h.8M293.8,421.1h.8M314.3,411.9h.8M297.1,422.6h.8M304.8,421.1h.8M317.0,421.1h.8M298.1,422.1h.8M323.4,411.8h.8M294.2,412.2h.8M306.0,411.6h.8M324.9,421.1h.8M325.5,420.3h.8M305.6,411.6h.8M336.6,418.6h.8M309.2,421.9h.8M321.0,421.0h.8M328.5,412.9h.8M318.1,410.8h.8M324.6,421.6h.8M328.2,413.1h.8M313.0,421.9h.8M334.1,413.7h.8M327.1,412.2h.8M305.0,421.5h.8M323.4,421.4h.8M331.3,420.1h.8M333.8,418.8h.8M352.3,417.9h.8M345.3,414.7h.8M353.1,419.0h.8M346.3,417.5h.8M342.4,414.2h.8M348.5,416.0h.8M349.5,414.7h.8M354.8,416.5h.8M350.4,414.2h.8M342.6,418.3h.8M355.0,416.6h.8M351.3,415.7h.8M341.8,417.2h.8M349.4,413.7h.8M347.8,416.6h.8M350.5,418.6h.8M345.6,414.2h.8M352.5,416.3h.8M350.9,419.1h.8M345.8,416.5h.8M346.2,413.1h.8M342.9,415.2h.8M354.6,414.0h.8M354.0,413.4h.8M341.3,414.0h.8M347.4,416.3h.8M353.6,417.3h.8M341.9,417.9h.8M347.6,416.0h.8M344.0,411.4h.8M353.0,412.4h.8M346.1,416.1h.8M344.3,418.2h.8M347.8,416.3h.8M341.8,416.3h.8M358.4,417.7h.8M350.5,414.9h.8M340.9,418.4h.8M343.4,416.0h.8M344.3,414.8h.8M351.5,416.4h.8M345.6,419.6h.8M345.6,416.5h.8M343.8,416.5h.8M347.0,413.2h.8M350.6,418.8h.8M342.8,414.8h.8M347.1,415.3h.8M354.8,414.3h.8M344.5,415.2h.8M352.3,418.1h.8M342.6,416.8h.8M348.4,415.4h.8M343.4,418.3h.8M341.6,417.0h.8M343.8,416.4h.8M353.5,418.0h.8M341.1,417.9h.8M343.5,414.9h.8M352.0,415.4h.8M342.8,413.4h.8M344.9,411.8h.8M344.1,418.9h.8M347.9,420.5h.8M341.7,419.3h.8M346.0,419.1h.8M340.9,417.8h.8M343.2,418.0h.8M347.5,415.9h.8M347.0,415.5h.8M348.9,414.7h.8M343.4,415.4h.8M346.6,419.0h.8M342.5,414.4h.8M345.4,415.4h.8M351.2,417.1h.8M347.3,410.6h.8M343.8,413.7h.8M346.9,417.7h.8M345.1,419.0h.8M343.2,416.2h.8M341.2,415.9h.8M341.4,418.1h.8M341.4,419.0h.8M349.0,421.9h.8M347.8,414.5h.8M345.3,411.7h.8M350.6,417.6h.8M342.1,414.4h.8M344.4,415.9h.8M351.9,414.4h.8M345.6,413.8h.8M346.2,416.1h.8M342.9,417.4h.8M350.1,418.1h.8M343.6,415.4h.8M351.8,417.7h.8M351.4,414.9h.8M345.2,418.2h.8M341.2,418.0h.8M357.2,418.5h.8M341.6,416.2h.8M345.2,413.6h.8M344.3,421.3h.8M348.1,419.5h.8M352.2,416.4h.8M346.5,419.4h.8M343.0,415.5h.8M348.0,416.1h.8M349.6,382.1h.8M335.4,389.4h.8M339.1,386.1h.8M345.5,383.2h.8M307.0,382.0h.8M320.9,390.3h.8M313.9,388.4h.8M336.9,383.9h.8M295.7,389.2h.8M338.3,390.0h.8M301.1,391.2h.8M329.7,384.6h.8M335.3,388.8h.8M317.5,384.0h.8M311.6,387.4h.8M374.3,382.1h.8M338.9,390.6h.8M298.4,389.3h.8M342.2,385.9h.8M316.4,381.3h.8M350.4,383.1h.8M323.4,384.5h.8M361.7,381.6h.8M301.4,384.0h.8M318.9,384.6h.8M298.5,389.0h.8M355.9,385.5h.8M371.1,385.4h.8M330.2,385.2h.8M319.2,382.2h.8M328.7,380.9h.8M302.2,384.1h.8M360.7,384.8h.8M303.9,381.9h.8M341.0,382.3h.8M308.9,386.8h.8M333.2,389.2h.8M319.3,383.0h.8M318.3,382.1h.8M322.3,381.5h.8M340.4,382.3h.8M323.9,381.6h.8M322.9,384.0h.8M327.6,381.5h.8M330.8,390.3h.8M300.0,390.0h.8M330.3,385.9h.8M322.7,385.1h.8M354.4,389.1h.8M297.2,391.0h.8M316.6,382.3h.8M293.7,388.6h.8M310.0,380.4h.8M340.8,381.6h.8M312.3,386.5h.8M322.6,382.6h.8M363.0,382.8h.8M357.9,388.1h.8M330.7,384.6h.8M327.7,383.1h.8M312.7,387.8h.8M333.1,386.4h.8M312.9,384.8h.8M324.0,388.7h.8M348.2,385.2h.8M334.0,384.6h.8M332.0,383.7h.8M342.2,383.5h.8M303.2,382.2h.8M322.6,382.9h.8M365.0,381.7h.8M337.2,386.1h.8M329.6,392.1h.8M318.6,389.7h.8M319.6,387.2h.8M342.2,383.6h.8M304.6,382.8h.8M362.1,388.6h.8M302.5,380.0h.8M313.5,385.1h.8M360.7,388.8h.8M310.2,387.5h.8M353.5,385.8h.8M336.4,385.1h.8M325.4,381.7h.8M343.0,386.5h.8M349.9,385.2h.8M333.6,382.0h.8M323.1,387.5h.8M353.3,389.4h.8M299.4,380.5h.8M371.4,383.8h.8M332.1,386.6h.8M357.1,387.6h.8M302.2,382.2h.8M315.2,385.0h.8M319.7,383.5h.8M367.4,383.7h.8M294.9,388.4h.8M329.3,384.2h.8M302.5,385.1h.8M362.2,383.2h.8M359.6,385.6h.8M301.3,380.2h.8M332.7,386.2h.8M351.9,384.8h.8M364.2,391.7h.8M370.4,386.3h.8M344.5,381.8h.8M319.1,386.8h.8M316.9,384.1h.8M306.9,386.9h.8M293.3,380.8h.8M325.1,386.2h.8M358.7,383.5h.8M296.4,385.2h.8M313.1,390.1h.8M349.9,384.8h.8M340.4,384.9h.8M310.7,387.4h.8M315.4,384.5h.8M355.1,386.0h.8M342.5,384.8h.8M325.8,389.8h.8M295.8,385.3h.8M329.1,385.2h.8M345.5,387.6h.8M330.6,380.6h.8M353.2,387.7h.8M326.5,382.6h.8M301.2,387.8h.8M339.0,386.1h.8M359.9,385.3h.8M300.4,392.0h.8M304.7,381.3h.8M332.8,389.5h.8M343.7,385.1h.8M303.5,384.4h.8M338.0,385.8h.8M325.5,390.4h.8M314.5,386.1h.8M299.7,388.0h.8M321.2,385.5h.8M333.5,380.7h.8M302.9,384.6h.8M311.9,385.0h.8M310.1,381.9h.8M366.3,380.1h.8M312.9,381.4h.8M344.1,388.0h.8M307.1,390.8h.8M299.4,384.0h.8M330.3,393.0h.8M339.7,382.5h.8M344.1,390.5h.8M324.1,389.9h.8M295.2,386.5h.8M348.0,381.1h.8M307.0,388.8h.8M305.0,384.7h.8M370.1,386.4h.8M312.5,386.9h.8M362.5,385.4h.8M309.8,388.7h.8M351.4,385.1h.8M342.3,387.7h.8M330.8,385.7h.8M362.9,383.6h.8M309.0,382.9h.8M351.9,387.4h.8M336.4,384.9h.8M354.8,387.2h.8M370.9,391.7h.8M341.2,382.4h.8M308.4,383.3h.8M317.3,387.0h.8M295.4,387.0h.8M360.0,389.9h.8M336.8,388.0h.8M338.0,383.6h.8M319.3,385.9h.8M346.0,388.8h.8M322.7,385.0h.8M297.4,383.8h.8M317.6,385.2h.8M331.3,392.2h.8M366.6,392.2h.8M344.6,391.2h.8M320.9,388.4h.8M345.6,381.6h.8M318.4,386.1h.8M295.0,383.5h.8M325.2,391.0h.8M361.6,387.2h.8M321.3,385.4h.8M334.7,380.3h.8M303.5,387.4h.8M323.5,388.6h.8M348.0,381.5h.8M323.2,387.2h.8M365.7,386.3h.8M350.9,391.4h.8M317.3,387.8h.8M304.9,385.7h.8M308.5,382.9h.8M342.4,384.6h.8M298.6,388.2h.8M360.0,386.3h.8M317.5,389.9h.8M326.5,388.5h.8M372.0,386.5h.8M346.0,378.7h.8M355.8,389.5h.8M296.8,383.5h.8M334.0,384.0h.8M302.2,380.4h.8M363.3,383.9h.8M304.9,388.4h.8M295.9,384.2h.8M304.7,383.2h.8M319.2,387.1h.8M333.8,385.7h.8M329.0,379.3h.8M322.1,383.7h.8M301.0,386.7h.8M345.3,385.5h.8M349.8,387.9h.8M301.1,386.1h.8M319.5,386.5h.8M301.3,389.6h.8M364.7,391.1h.8M339.5,386.7h.8M309.3,389.3h.8M350.6,390.6h.8M351.9,387.6h.8M298.6,386.8h.8M330.1,387.3h.8M355.8,381.9h.8M339.6,389.8h.8M313.2,386.8h.8M295.7,385.1h.8M343.8,391.8h.8M303.0,388.9h.8M342.0,386.9h.8M357.7,383.9h.8M334.4,381.5h.8M297.4,385.3h.8M332.0,380.9h.8M349.4,382.6h.8M354.7,384.9h.8M341.2,385.3h.8M334.8,379.9h.8M318.0,380.3h.8M348.6,384.4h.8M356.6,382.5h.8M328.4,384.2h.8M295.3,386.8h.8M342.8,389.1h.8M305.6,383.8h.8M345.6,385.1h.8M303.1,386.9h.8M341.3,379.9h.8M363.1,382.8h.8M302.4,380.0h.8M365.6,381.5h.8M345.9,385.4h.8M300.8,384.4h.8M334.7,388.4h.8M317.6,385.3h.8M331.5,389.1h.8M368.4,382.1h.8M311.2,388.1h.8M327.8,386.6h.8M332.7,385.7h.8M348.8,384.1h.8M300.5,385.5h.8M351.2,386.6h.8M295.9,385.8h.8M307.9,383.1h.8M349.9,387.0h.8M326.0,389.1h.8M322.0,387.4h.8M336.9,383.8h.8M328.3,388.6h.8M360.7,385.1h.8M329.7,383.6h.8M346.9,387.2h.8M338.9,387.7h.8M317.6,383.0h.8M317.8,381.2h.8M316.9,384.3h.8M371.6,386.0h.8M301.0,383.5h.8M293.9,388.4h.8M315.4,386.9h.8M319.3,391.6h.8M330.5,387.0h.8M339.7,381.5h.8M311.4,387.4h.8M295.3,383.9h.8M303.1,384.3h.8M316.5,382.9h.8M295.7,393.3h.8M341.8,385.2h.8M347.8,384.7h.8M345.5,390.0h.8M319.6,389.2h.8M351.2,383.6h.8M310.2,382.6h.8M346.7,383.6h.8M318.2,385.9h.8M349.3,387.3h.8M346.8,384.5h.8M300.3,388.8h.8M331.1,389.6h.8M354.7,390.1h.8M330.9,389.2h.8M322.8,383.9h.8M342.2,385.7h.8M310.5,387.5h.8M332.2,383.1h.8M334.9,381.8h.8M296.1,385.2h.8M300.7,382.4h.8M350.6,389.7h.8M317.8,381.0h.8M361.8,387.5h.8M357.8,380.8h.8M346.0,382.3h.8M328.5,385.0h.8M348.4,385.0h.8M318.7,389.1h.8M338.8,387.0h.8M350.8,387.1h.8M333.3,388.4h.8M347.5,386.9h.8M303.1,389.0h.8M313.7,380.6h.8M295.0,383.8h.8M312.8,384.4h.8M326.7,387.2h.8M352.8,387.0h.8M360.3,388.1h.8M310.8,389.8h.8M338.6,387.4h.8M313.4,385.5h.8M358.9,384.4h.8M309.5,385.5h.8M322.5,385.6h.8M298.8,393.1h.8M299.4,399.0h.8M345.9,406.2h.8M315.7,397.1h.8M333.8,395.8h.8M338.9,389.6h.8M336.1,406.2h.8M360.0,394.8h.8M361.2,403.1h.8M321.5,392.4h.8M360.0,394.5h.8M320.2,395.3h.8M334.7,405.8h.8M349.9,409.5h.8M323.5,402.4h.8M295.9,405.4h.8M310.4,393.1h.8M363.9,405.2h.8M303.4,390.5h.8M307.4,397.1h.8M303.2,397.8h.8M369.2,410.3h.8M371.9,401.9h.8M348.6,403.1h.8M314.3,395.2h.8M360.6,406.8h.8M295.2,388.2h.8M347.8,394.3h.8M300.0,400.9h.8M359.7,407.2h.8M350.9,400.6h.8M319.2,388.5h.8M329.9,394.5h.8M295.3,388.4h.8M316.5,397.2h.8M308.1,407.1h.8M355.9,394.3h.8M306.1,400.1h.8M322.2,390.3h.8M333.2,390.8h.8M293.8,398.8h.8M374.8,403.2h.8M330.4,391.4h.8M362.7,399.1h.8M375.0,388.6h.8M331.0,389.2h.8M364.8,395.1h.8M317.6,396.2h.8M327.7,389.7h.8M302.4,407.6h.8M373.8,404.2h.8M348.3,394.3h.8M313.4,391.6h.8M295.4,391.9h.8M362.5,393.4h.8M319.9,406.3h.8M361.5,409.1h.8M316.0,388.2h.8M325.9,407.1h.8M324.2,398.9h.8M298.5,394.7h.8M319.7,389.3h.8M348.9,388.8h.8M368.3,394.6h.8M315.9,397.2h.8M332.8,402.5h.8M315.9,406.8h.8M339.6,403.1h.8M337.6,390.5h.8M309.5,402.4h.8M324.0,399.6h.8M342.6,393.4h.8M356.4,396.2h.8M326.5,401.6h.8M361.8,397.9h.8M301.5,407.8h.8M324.9,399.7h.8M329.1,399.5h.8M359.4,399.8h.8M333.8,406.7h.8M333.5,404.9h.8M340.3,399.1h.8M346.8,392.8h.8M328.3,408.3h.8M306.2,390.8h.8M355.3,408.8h.8M302.9,392.8h.8M363.2,408.5h.8M312.6,391.8h.8M315.8,410.1h.8M304.7,400.9h.8M332.5,406.7h.8M374.7,405.9h.8M332.3,401.9h.8M305.3,392.1h.8M338.0,392.6h.8M323.7,407.4h.8M347.7,394.7h.8M308.3,408.0h.8M294.0,406.0h.8M363.8,395.0h.8M357.7,392.6h.8M299.4,408.0h.8M345.1,394.8h.8M328.2,407.6h.8M303.8,395.9h.8M318.0,397.7h.8M317.6,396.0h.8M338.2,392.6h.8M352.5,396.9h.8M312.9,405.1h.8M312.2,402.0h.8M340.1,403.9h.8M344.4,394.6h.8M354.1,392.5h.8M294.4,407.2h.8M343.9,395.5h.8M313.6,392.9h.8M316.8,388.8h.8M298.6,409.3h.8M309.6,395.9h.8M301.5,400.7h.8M330.9,394.6h.8M324.9,409.5h.8M350.5,403.2h.8M295.2,400.6h.8M339.6,389.3h.8M321.0,393.0h.8M337.3,387.6h.8M309.7,405.1h.8M359.2,401.2h.8M310.9,404.3h.8M362.1,388.3h.8M356.7,394.7h.8M359.4,396.3h.8M318.9,404.4h.8M354.2,392.3h.8M338.3,406.2h.8M352.4,369.8h.8M365.3,364.1h.8M350.3,376.8h.8M297.1,365.6h.8M323.1,364.7h.8M344.4,365.1h.8M320.3,363.8h.8M343.7,368.7h.8M348.5,366.9h.8M352.9,367.4h.8M340.8,376.9h.8M360.7,378.0h.8M293.5,398.8h.8M298.6,408.2h.8M294.6,390.1h.8M294.9,405.9h.8M295.9,384.2h.8M299.2,394.6h.8M296.0,389.0h.8M300.0,389.9h.8M296.6,389.1h.8M294.7,395.0h.8M296.7,390.3h.8M299.9,385.8h.8M295.3,392.5h.8M295.9,388.7h.8M296.9,400.0h.8M301.0,405.4h.8M299.8,409.5h.8M302.1,389.9h.8M295.6,396.9h.8M294.3,393.0h.8M296.3,395.1h.8M297.9,391.3h.8M297.8,409.6h.8M293.9,397.3h.8M301.5,383.6h.8M293.6,402.4h.8M296.6,407.2h.8M300.8,391.0h.8M299.6,385.6h.8M293.6,394.6h.8M297.6,405.1h.8M298.5,408.6h.8M300.9,389.7h.8M301.8,405.3h.8M303.0,384.8h.8M297.7,390.5h.8M301.3,393.1h.8M296.3,407.3h.8M295.1,408.9h.8M300.9,385.8h.8M294.7,399.3h.8M302.0,385.8h.8M295.3,381.7h.8M297.7,403.5h.8M295.0,407.9h.8M298.3,397.8h.8M296.4,388.5h.8M294.7,383.9h.8M298.2,407.6h.8M294.0,387.0h.8M293.7,390.9h.8M294.3,391.8h.8M299.8,408.2h.8M299.9,405.5h.8M300.2,397.7h.8M296.3,408.3h.8M303.9,400.3h.8M300.5,393.5h.8M294.6,383.5h.8M295.0,387.7h.8M296.8,398.6h.8M296.7,383.1h.8M297.5,390.4h.8M294.1,407.7h.8M302.6,396.9h.8M295.2,400.7h.8M295.3,397.8h.8M293.5,402.0h.8M299.0,401.5h.8M294.4,390.7h.8M296.1,381.6h.8M295.1,385.1h.8M301.2,401.3h.8M305.6,409.2h.8M298.7,387.4h.8M295.9,390.0h.8M293.7,403.3h.8M297.2,406.3h.8M304.1,388.6h.8M298.5,398.6h.8M295.2,395.5h.8M293.8,385.4h.8M295.2,403.6h.8M296.2,404.1h.8M299.3,387.5h.8M295.9,382.9h.8M302.2,387.8h.8M295.8,401.8h.8M296.3,389.7h.8M294.6,387.0h.8M364.4,383.5h.8M355.4,384.0h.8M359.6,379.0h.8M355.7,379.7h.8M358.8,383.5h.8M360.5,386.6h.8M359.7,385.4h.8M360.3,384.4h.8M363.8,386.0h.8M362.2,390.3h.8M360.0,383.6h.8M355.3,382.6h.8M362.5,388.4h.8M363.7,381.1h.8M362.2,386.4h.8M360.4,385.1h.8M358.6,381.2h.8M360.1,379.3h.8M360.4,387.3h.8M359.0,387.1h.8M362.9,387.4h.8M358.8,388.8h.8M355.6,384.7h.8M360.4,386.4h.8M360.0,380.2h.8M360.7,382.6h.8M361.2,383.0h.8M363.1,388.9h.8M356.3,380.9h.8M361.7,389.5h.8M362.4,381.6h.8M359.3,387.9h.8M356.2,386.2h.8M357.7,385.3h.8M362.2,387.9h.8M360.1,418.2h.8M356.3,411.7h.8M348.9,415.0h.8M349.4,414.0h.8M355.6,409.9h.8M361.0,412.0h.8M359.9,412.9h.8M371.3,411.4h.8M370.1,413.7h.8M363.6,416.0h.8M363.0,412.7h.8M364.8,413.8h.8M358.0,418.1h.8M347.8,415.8h.8M351.0,414.0h.8M348.0,414.6h.8M370.0,418.1h.8M372.8,415.3h.8M371.8,417.5h.8M350.3,415.6h.8" stroke="#1a1a1a" stroke-width="0.75" fill="none"/>
<rect x="288.8" y="351" width="88.8" height="77" fill="none" stroke="#000" stroke-width="1.1"/>
<line x1="347.60" y1="351.00" x2="347.60" y2="428.00" stroke="#111" stroke-width="0.9"/>
<line x1="288.80" y1="409.60" x2="377.60" y2="409.60" stroke="#111" stroke-width="0.9"/>
<text x="0" y="0" font-size="9.3" text-anchor="middle" font-weight="normal" transform="translate(363.1,360.7) scale(0.86,1)">1.8 %</text>
<line x1="284.60" y1="359.00" x2="288.80" y2="359.00" stroke="#000" stroke-width="1.0"/>
<text x="0" y="0" font-size="5" text-anchor="middle" font-weight="bold" transform="translate(282.90000000000003,359) rotate(-90)">10<tspan font-size="4.2" dy="-2.8">5</tspan></text>
<line x1="286.20" y1="370.95" x2="288.80" y2="370.95" stroke="#000" stroke-width="0.75"/>
<line x1="286.20" y1="367.94" x2="288.80" y2="367.94" stroke="#000" stroke-width="0.75"/>
<line x1="286.20" y1="365.80" x2="288.80" y2="365.80" stroke="#000" stroke-width="0.75"/>
<line x1="286.20" y1="364.15" x2="288.80" y2="364.15" stroke="#000" stroke-width="0.75"/>
<line x1="286.20" y1="362.79" x2="288.80" y2="362.79" stroke="#000" stroke-width="0.75"/>
<line x1="286.20" y1="361.65" x2="288.80" y2="361.65" stroke="#000" stroke-width="0.75"/>
<line x1="286.20" y1="360.66" x2="288.80" y2="360.66" stroke="#000" stroke-width="0.75"/>
<line x1="286.20" y1="359.78" x2="288.80" y2="359.78" stroke="#000" stroke-width="0.75"/>
<line x1="284.60" y1="376.10" x2="288.80" y2="376.10" stroke="#000" stroke-width="1.0"/>
<text x="0" y="0" font-size="5" text-anchor="middle" font-weight="bold" transform="translate(282.90000000000003,376.1) rotate(-90)">10<tspan font-size="4.2" dy="-2.8">4</tspan></text>
<line x1="286.20" y1="388.05" x2="288.80" y2="388.05" stroke="#000" stroke-width="0.75"/>
<line x1="286.20" y1="385.04" x2="288.80" y2="385.04" stroke="#000" stroke-width="0.75"/>
<line x1="286.20" y1="382.90" x2="288.80" y2="382.90" stroke="#000" stroke-width="0.75"/>
<line x1="286.20" y1="381.25" x2="288.80" y2="381.25" stroke="#000" stroke-width="0.75"/>
<line x1="286.20" y1="379.89" x2="288.80" y2="379.89" stroke="#000" stroke-width="0.75"/>
<line x1="286.20" y1="378.75" x2="288.80" y2="378.75" stroke="#000" stroke-width="0.75"/>
<line x1="286.20" y1="377.76" x2="288.80" y2="377.76" stroke="#000" stroke-width="0.75"/>
<line x1="286.20" y1="376.88" x2="288.80" y2="376.88" stroke="#000" stroke-width="0.75"/>
<line x1="284.60" y1="393.20" x2="288.80" y2="393.20" stroke="#000" stroke-width="1.0"/>
<text x="0" y="0" font-size="5" text-anchor="middle" font-weight="bold" transform="translate(282.90000000000003,393.2) rotate(-90)">10<tspan font-size="4.2" dy="-2.8">3</tspan></text>
<line x1="286.20" y1="405.15" x2="288.80" y2="405.15" stroke="#000" stroke-width="0.75"/>
<line x1="286.20" y1="402.14" x2="288.80" y2="402.14" stroke="#000" stroke-width="0.75"/>
<line x1="286.20" y1="400.00" x2="288.80" y2="400.00" stroke="#000" stroke-width="0.75"/>
<line x1="286.20" y1="398.35" x2="288.80" y2="398.35" stroke="#000" stroke-width="0.75"/>
<line x1="286.20" y1="396.99" x2="288.80" y2="396.99" stroke="#000" stroke-width="0.75"/>
<line x1="286.20" y1="395.85" x2="288.80" y2="395.85" stroke="#000" stroke-width="0.75"/>
<line x1="286.20" y1="394.86" x2="288.80" y2="394.86" stroke="#000" stroke-width="0.75"/>
<line x1="286.20" y1="393.98" x2="288.80" y2="393.98" stroke="#000" stroke-width="0.75"/>
<line x1="284.60" y1="410.30" x2="288.80" y2="410.30" stroke="#000" stroke-width="1.0"/>
<text x="0" y="0" font-size="5" text-anchor="middle" font-weight="bold" transform="translate(282.90000000000003,410.3) rotate(-90)">10<tspan font-size="4.2" dy="-2.8">2</tspan></text>
<line x1="286.20" y1="412.95" x2="288.80" y2="412.95" stroke="#000" stroke-width="0.75"/>
<line x1="286.20" y1="411.96" x2="288.80" y2="411.96" stroke="#000" stroke-width="0.75"/>
<line x1="286.20" y1="411.08" x2="288.80" y2="411.08" stroke="#000" stroke-width="0.75"/>
<line x1="286.20" y1="412.00" x2="288.80" y2="412.00" stroke="#000" stroke-width="0.7"/>
<line x1="286.20" y1="413.40" x2="288.80" y2="413.40" stroke="#000" stroke-width="0.7"/>
<line x1="286.20" y1="414.60" x2="288.80" y2="414.60" stroke="#000" stroke-width="0.7"/>
<line x1="284.60" y1="415.70" x2="288.80" y2="415.70" stroke="#000" stroke-width="1.0"/>
<text x="0" y="0" font-size="5" text-anchor="middle" font-weight="bold" transform="translate(283.6,415.7) rotate(-90)">0</text>
<line x1="286.20" y1="417.00" x2="288.80" y2="417.00" stroke="#000" stroke-width="0.7"/>
<line x1="286.20" y1="418.30" x2="288.80" y2="418.30" stroke="#000" stroke-width="0.7"/>
<line x1="286.20" y1="419.60" x2="288.80" y2="419.60" stroke="#000" stroke-width="0.7"/>
<line x1="284.60" y1="420.90" x2="288.80" y2="420.90" stroke="#000" stroke-width="1.0"/>
<line x1="285.80" y1="424.50" x2="288.80" y2="424.50" stroke="#000" stroke-width="0.8"/>
<text class="s" x="0" y="0" font-size="6.6" text-anchor="middle" font-weight="normal" transform="translate(276.40000000000003,391) rotate(-90)">PI-A</text>
<line x1="306.80" y1="428.00" x2="306.80" y2="432.40" stroke="#000" stroke-width="1.0"/>
<line x1="305.84" y1="428.00" x2="305.84" y2="431.00" stroke="#000" stroke-width="0.75"/>
<line x1="327.80" y1="428.00" x2="327.80" y2="432.40" stroke="#000" stroke-width="1.0"/>
<line x1="313.12" y1="428.00" x2="313.12" y2="431.00" stroke="#000" stroke-width="0.75"/>
<line x1="316.82" y1="428.00" x2="316.82" y2="431.00" stroke="#000" stroke-width="0.75"/>
<line x1="319.44" y1="428.00" x2="319.44" y2="431.00" stroke="#000" stroke-width="0.75"/>
<line x1="321.48" y1="428.00" x2="321.48" y2="431.00" stroke="#000" stroke-width="0.75"/>
<line x1="323.14" y1="428.00" x2="323.14" y2="431.00" stroke="#000" stroke-width="0.75"/>
<line x1="324.55" y1="428.00" x2="324.55" y2="431.00" stroke="#000" stroke-width="0.75"/>
<line x1="325.76" y1="428.00" x2="325.76" y2="431.00" stroke="#000" stroke-width="0.75"/>
<line x1="326.84" y1="428.00" x2="326.84" y2="431.00" stroke="#000" stroke-width="0.75"/>
<line x1="348.80" y1="428.00" x2="348.80" y2="432.40" stroke="#000" stroke-width="1.0"/>
<line x1="334.12" y1="428.00" x2="334.12" y2="431.00" stroke="#000" stroke-width="0.75"/>
<line x1="337.82" y1="428.00" x2="337.82" y2="431.00" stroke="#000" stroke-width="0.75"/>
<line x1="340.44" y1="428.00" x2="340.44" y2="431.00" stroke="#000" stroke-width="0.75"/>
<line x1="342.48" y1="428.00" x2="342.48" y2="431.00" stroke="#000" stroke-width="0.75"/>
<line x1="344.14" y1="428.00" x2="344.14" y2="431.00" stroke="#000" stroke-width="0.75"/>
<line x1="345.55" y1="428.00" x2="345.55" y2="431.00" stroke="#000" stroke-width="0.75"/>
<line x1="346.76" y1="428.00" x2="346.76" y2="431.00" stroke="#000" stroke-width="0.75"/>
<line x1="347.84" y1="428.00" x2="347.84" y2="431.00" stroke="#000" stroke-width="0.75"/>
<line x1="369.80" y1="428.00" x2="369.80" y2="432.40" stroke="#000" stroke-width="1.0"/>
<line x1="355.12" y1="428.00" x2="355.12" y2="431.00" stroke="#000" stroke-width="0.75"/>
<line x1="358.82" y1="428.00" x2="358.82" y2="431.00" stroke="#000" stroke-width="0.75"/>
<line x1="361.44" y1="428.00" x2="361.44" y2="431.00" stroke="#000" stroke-width="0.75"/>
<line x1="363.48" y1="428.00" x2="363.48" y2="431.00" stroke="#000" stroke-width="0.75"/>
<line x1="365.14" y1="428.00" x2="365.14" y2="431.00" stroke="#000" stroke-width="0.75"/>
<line x1="366.55" y1="428.00" x2="366.55" y2="431.00" stroke="#000" stroke-width="0.75"/>
<line x1="367.76" y1="428.00" x2="367.76" y2="431.00" stroke="#000" stroke-width="0.75"/>
<line x1="368.84" y1="428.00" x2="368.84" y2="431.00" stroke="#000" stroke-width="0.75"/>
<line x1="289.40" y1="428.00" x2="289.40" y2="431.00" stroke="#000" stroke-width="0.8"/>
<line x1="290.65" y1="428.00" x2="290.65" y2="431.00" stroke="#000" stroke-width="0.8"/>
<line x1="291.90" y1="428.00" x2="291.90" y2="431.00" stroke="#000" stroke-width="0.8"/>
<line x1="293.15" y1="428.00" x2="293.15" y2="431.00" stroke="#000" stroke-width="0.8"/>
<line x1="294.40" y1="428.00" x2="294.40" y2="431.00" stroke="#000" stroke-width="0.8"/>
<line x1="295.65" y1="428.00" x2="295.65" y2="431.00" stroke="#000" stroke-width="0.8"/>
<line x1="296.90" y1="428.00" x2="296.90" y2="431.00" stroke="#000" stroke-width="0.8"/>
<line x1="298.15" y1="428.00" x2="298.15" y2="431.00" stroke="#000" stroke-width="0.8"/>
<line x1="299.40" y1="428.00" x2="299.40" y2="431.00" stroke="#000" stroke-width="0.8"/>
<line x1="300.65" y1="428.00" x2="300.65" y2="431.00" stroke="#000" stroke-width="0.8"/>
<line x1="301.90" y1="428.00" x2="301.90" y2="431.00" stroke="#000" stroke-width="0.8"/>
<line x1="303.15" y1="428.00" x2="303.15" y2="431.00" stroke="#000" stroke-width="0.8"/>
<line x1="304.40" y1="428.00" x2="304.40" y2="431.00" stroke="#000" stroke-width="0.8"/>
<line x1="305.65" y1="428.00" x2="305.65" y2="431.00" stroke="#000" stroke-width="0.8"/>
<line x1="297.60" y1="428.00" x2="297.60" y2="432.40" stroke="#000" stroke-width="1.0"/>
<text x="297.6" y="437.7" font-size="5" text-anchor="middle" font-weight="bold" >0</text>
<text x="307.3" y="437.7" font-size="5" text-anchor="middle" font-weight="bold" >10<tspan font-size="4.2" dy="-2.8">2</tspan></text>
<text x="328.8" y="437.7" font-size="5" text-anchor="middle" font-weight="bold" >10<tspan font-size="4.2" dy="-2.8">3</tspan></text>
<text x="349.3" y="437.7" font-size="5" text-anchor="middle" font-weight="bold" >10<tspan font-size="4.2" dy="-2.8">4</tspan></text>
<text x="370.8" y="437.7" font-size="5" text-anchor="middle" font-weight="bold" >10<tspan font-size="4.2" dy="-2.8">5</tspan></text>
<text class="s" x="333.7" y="446.2" font-size="6.4" text-anchor="middle" font-weight="normal" >AnnV APC-A</text>
<text class="s" x="464.5" y="347.5" font-size="12.5" text-anchor="middle" font-weight="normal" >muPAR<tspan font-size="9" dy="-4.5">ΔD1</tspan></text>
<path d="M426.20000000000005,415.4 Q426.20000000000005,413.4 429.20000000000005,413.4 L449.20000000000005,413.59999999999997 Q461.20000000000005,414.2 469.6,415.5 L469.6,418.3 Q461.20000000000005,419.4 449.20000000000005,420.0 L429.20000000000005,420.0 Q426.20000000000005,420.0 426.20000000000005,418.0 Z" fill="#000"/>
<path d="M436.6,413.2h.8M429.6,412.6h.8M444.6,420.4h.8M435.9,421.2h.8M438.6,413.1h.8M470.8,415.4h.8M465.3,418.5h.8M440.2,420.5h.8M429.4,420.4h.8M433.8,420.8h.8M438.8,420.6h.8M459.3,419.4h.8M466.2,414.3h.8M446.1,412.9h.8M436.5,420.1h.8M427.4,420.2h.8M450.3,420.1h.8M457.8,413.4h.8M445.2,412.9h.8M434.1,420.6h.8M461.4,419.3h.8M440.9,413.0h.8M459.5,419.4h.8M436.7,421.0h.8M470.4,417.8h.8M458.9,419.5h.8M460.8,419.7h.8M472.0,417.6h.8M466.9,415.2h.8M446.7,412.9h.8M437.3,413.3h.8M427.4,413.3h.8M442.9,421.0h.8M446.5,413.4h.8M445.7,413.2h.8M460.9,414.1h.8M454.6,420.6h.8M426.9,420.3h.8M462.7,419.1h.8M435.0,420.4h.8M445.1,413.2h.8M456.5,420.6h.8M465.4,418.4h.8M437.5,413.2h.8M462.6,419.1h.8M427.7,420.3h.8M452.6,421.1h.8M467.4,415.1h.8M449.1,411.8h.8M452.9,412.7h.8M441.5,420.3h.8M464.6,413.9h.8M456.9,420.1h.8M449.2,420.6h.8M471.7,414.3h.8M431.4,420.4h.8M457.5,413.0h.8M447.7,420.8h.8M461.3,419.0h.8M469.8,415.7h.8M454.7,421.0h.8M463.1,413.8h.8M451.8,412.9h.8M464.8,419.3h.8M469.5,417.9h.8M454.0,420.0h.8M452.3,420.3h.8M442.7,413.1h.8M439.6,420.1h.8M451.5,420.3h.8M435.1,421.0h.8M466.6,419.0h.8M429.8,412.2h.8M442.9,420.7h.8M445.3,421.4h.8M434.7,420.6h.8M470.2,418.8h.8M433.3,412.8h.8M433.7,412.7h.8M437.7,412.1h.8M459.6,413.9h.8M430.6,420.3h.8M450.7,412.9h.8M436.3,413.1h.8M472.9,415.4h.8M440.4,420.9h.8M463.1,419.5h.8M446.5,420.3h.8M444.2,420.1h.8M457.2,413.0h.8M446.2,412.9h.8M439.0,420.9h.8M434.8,420.7h.8M428.9,412.0h.8M441.2,420.3h.8M426.3,412.8h.8M450.6,413.0h.8M471.3,414.6h.8M434.0,421.2h.8M428.9,411.4h.8M433.5,420.6h.8M455.1,421.1h.8M466.5,418.6h.8M448.9,413.0h.8M440.2,413.4h.8M450.8,420.9h.8M468.7,419.8h.8M440.4,420.1h.8M445.1,413.4h.8M447.4,421.6h.8M444.8,420.3h.8M428.5,420.3h.8M454.4,421.1h.8M448.6,420.7h.8M468.4,415.2h.8M439.7,413.0h.8M433.1,420.6h.8M461.6,414.4h.8M426.7,420.5h.8M467.7,418.3h.8M454.7,413.3h.8M471.3,414.8h.8M452.3,413.2h.8M449.5,412.5h.8M435.6,420.3h.8M433.3,420.0h.8M450.1,420.4h.8M443.9,420.5h.8M472.7,417.6h.8M471.7,415.8h.8M429.4,412.6h.8M436.4,412.3h.8M448.3,412.8h.8M460.6,419.7h.8M441.5,412.9h.8M430.4,420.9h.8M440.0,420.2h.8M455.8,420.0h.8M453.2,420.2h.8M465.6,414.2h.8M468.4,418.7h.8M459.0,420.1h.8M450.7,420.4h.8M427.3,413.2h.8M427.1,412.9h.8M431.9,420.9h.8M430.9,412.9h.8M438.5,413.2h.8M468.3,414.4h.8M435.5,413.3h.8M468.3,418.1h.8M444.0,420.6h.8M426.8,420.3h.8M449.9,420.0h.8M452.3,420.3h.8M446.4,412.3h.8M435.6,421.3h.8M438.6,421.1h.8M471.2,418.0h.8M437.6,412.5h.8M426.7,420.9h.8M456.2,420.5h.8M429.4,412.6h.8M470.4,418.3h.8M457.6,419.7h.8M425.6,412.3h.8M433.3,413.1h.8M463.8,418.6h.8M439.6,413.2h.8M466.2,415.0h.8M468.7,415.5h.8M457.9,420.9h.8M426.9,420.8h.8M462.5,419.7h.8M472.9,415.6h.8M471.5,415.4h.8M458.3,413.6h.8M469.8,418.2h.8M430.2,413.2h.8M454.3,420.7h.8M451.4,420.7h.8M427.0,413.1h.8M434.0,420.1h.8M453.0,412.9h.8M470.6,418.2h.8M430.6,412.8h.8M434.4,420.4h.8M426.2,412.5h.8M434.5,420.8h.8M427.2,420.3h.8M463.9,419.9h.8M455.1,422.1h.8M442.4,420.3h.8M461.2,419.8h.8M435.4,420.3h.8M468.5,418.8h.8M433.0,413.0h.8M454.2,412.5h.8M460.3,413.8h.8M453.5,413.0h.8M431.7,420.1h.8M451.4,421.2h.8M433.4,421.3h.8M457.1,420.3h.8M437.7,420.2h.8M432.6,413.4h.8M449.1,412.5h.8M434.7,412.9h.8M432.1,413.2h.8M464.9,414.8h.8M459.5,413.9h.8M451.5,421.0h.8M455.4,421.4h.8M435.3,420.2h.8M462.0,414.0h.8M445.4,413.0h.8M442.0,420.7h.8M429.1,420.3h.8M463.4,414.4h.8M471.4,414.5h.8M435.0,413.3h.8M425.4,420.0h.8M450.4,420.8h.8M441.6,413.0h.8M455.7,413.4h.8M446.3,413.1h.8M468.4,419.0h.8M431.6,413.3h.8M453.3,413.3h.8M427.3,420.0h.8M451.6,420.2h.8M471.8,414.9h.8M450.6,420.0h.8M433.5,421.1h.8M473.5,415.0h.8M434.6,420.5h.8M470.9,415.7h.8M439.7,420.6h.8M459.4,419.8h.8M466.8,414.9h.8M440.5,413.2h.8M465.6,414.4h.8M446.6,420.1h.8M467.2,415.3h.8M467.6,415.3h.8M472.0,418.1h.8M443.9,420.8h.8M449.8,420.3h.8M463.5,414.4h.8M444.2,412.7h.8M446.2,411.5h.8M441.8,420.7h.8M467.7,414.7h.8M462.0,414.5h.8M448.9,420.3h.8M432.8,420.1h.8M444.0,413.4h.8M430.1,413.1h.8M447.3,420.1h.8M440.6,421.6h.8M468.2,418.9h.8M463.8,419.3h.8M467.8,415.3h.8M459.9,413.4h.8M453.1,412.9h.8M441.4,413.1h.8M450.4,412.4h.8M436.4,420.9h.8M469.9,418.9h.8M431.2,412.7h.8M465.8,418.4h.8M461.1,419.9h.8M434.7,420.4h.8M459.9,419.7h.8M462.6,412.9h.8M461.1,419.4h.8M455.3,413.4h.8M437.5,412.3h.8M467.9,415.0h.8M458.4,420.2h.8M431.6,412.9h.8M432.7,421.2h.8M465.8,415.1h.8M428.3,420.3h.8M430.6,413.2h.8M428.3,412.1h.8M433.6,412.9h.8M434.4,412.7h.8M449.5,420.6h.8M453.1,420.8h.8M457.2,413.3h.8M428.0,420.4h.8M468.8,415.1h.8M435.2,412.9h.8M427.7,421.2h.8M461.9,413.2h.8M466.1,418.5h.8M464.8,414.2h.8M433.5,413.0h.8M467.0,418.8h.8M466.6,418.9h.8M466.6,418.4h.8M438.3,413.3h.8M441.3,421.1h.8M463.2,414.0h.8M470.5,414.8h.8M458.7,419.6h.8M434.1,413.1h.8M452.4,413.1h.8M440.0,413.3h.8M449.7,413.3h.8M438.0,413.3h.8M462.4,414.1h.8M444.5,420.4h.8M425.5,420.9h.8M460.8,420.1h.8M471.2,415.4h.8M437.1,412.7h.8M441.4,413.0h.8M451.3,420.2h.8M431.4,413.0h.8M446.0,420.9h.8M442.8,413.1h.8M437.8,412.6h.8M459.5,419.3h.8M469.7,419.3h.8M458.9,420.0h.8M451.6,420.4h.8M454.8,412.2h.8M457.9,420.6h.8M433.9,420.1h.8M451.0,412.9h.8M447.9,420.2h.8M446.3,412.8h.8M460.8,414.1h.8M461.3,413.5h.8M450.9,420.1h.8M462.5,413.3h.8M443.3,420.6h.8M442.1,420.4h.8M444.5,413.1h.8M448.0,420.3h.8M462.3,419.6h.8M452.5,413.3h.8M432.4,412.4h.8M465.2,414.6h.8M469.0,418.1h.8M462.3,419.2h.8M444.9,420.7h.8M470.8,414.6h.8M431.8,421.4h.8M438.4,420.3h.8M469.8,415.4h.8M460.7,419.5h.8M433.5,413.0h.8M437.8,420.4h.8M428.1,412.9h.8M430.1,413.1h.8M430.0,421.0h.8M472.3,418.2h.8M462.9,420.3h.8M457.8,420.4h.8M450.1,420.9h.8M458.0,412.6h.8M446.5,413.1h.8M458.7,420.5h.8M437.8,420.0h.8M441.0,420.7h.8M443.3,420.3h.8M443.0,413.0h.8M473.1,417.9h.8M445.3,412.9h.8M453.6,420.1h.8M438.9,420.7h.8M461.5,419.5h.8M448.4,420.2h.8M453.9,413.4h.8M432.4,421.0h.8M441.1,412.6h.8M447.9,413.0h.8M460.1,420.0h.8M430.5,420.5h.8M457.6,420.1h.8M440.6,412.3h.8M465.7,419.6h.8M459.6,413.8h.8M470.3,415.5h.8M434.4,421.7h.8M431.5,412.8h.8M463.7,420.2h.8M432.7,412.5h.8M469.9,415.1h.8M427.1,420.2h.8M439.2,413.1h.8M455.5,412.3h.8M440.4,413.2h.8M431.8,412.3h.8M433.8,421.0h.8M467.6,414.0h.8M440.5,420.5h.8M447.9,413.4h.8M440.5,420.4h.8M454.0,420.1h.8M473.2,417.6h.8M463.5,419.2h.8M453.9,420.2h.8M463.3,413.9h.8M448.2,420.1h.8M440.8,412.3h.8M453.3,420.1h.8M453.2,420.2h.8M432.4,420.0h.8M435.7,420.2h.8M435.5,420.3h.8M437.9,412.5h.8M430.9,412.9h.8M457.7,413.6h.8M444.7,411.8h.8M436.3,411.3h.8M461.4,413.5h.8M433.3,420.8h.8M435.5,412.6h.8M463.1,412.7h.8M466.6,419.1h.8M472.4,415.1h.8M455.6,420.3h.8M459.2,419.6h.8M434.5,412.7h.8M464.8,414.9h.8M448.8,420.5h.8M432.1,421.4h.8M436.5,420.1h.8M426.3,412.9h.8M473.5,415.6h.8M455.3,421.2h.8M450.5,413.1h.8M459.8,419.4h.8M432.6,412.0h.8M434.3,413.2h.8M448.1,420.4h.8M431.3,412.2h.8M435.3,420.3h.8M438.4,412.7h.8M467.8,419.2h.8M439.7,420.2h.8M431.0,413.0h.8M436.7,421.0h.8M438.4,412.6h.8M440.5,412.8h.8M468.0,414.7h.8M465.2,418.8h.8M472.5,415.3h.8M460.2,419.3h.8M470.8,418.6h.8M448.7,412.3h.8M464.9,414.5h.8M462.8,413.8h.8M442.2,413.3h.8M454.6,420.1h.8M451.6,412.7h.8M464.1,419.2h.8M465.2,414.7h.8M460.2,413.5h.8M461.1,413.6h.8M430.1,412.7h.8M467.9,418.5h.8M429.2,413.2h.8M430.0,412.8h.8M443.1,413.1h.8M447.5,420.9h.8M453.3,420.1h.8M473.5,418.0h.8M455.8,421.1h.8M470.9,417.7h.8M438.3,420.3h.8M463.2,418.9h.8M436.7,411.6h.8M451.0,412.9h.8M448.2,420.7h.8M430.1,412.8h.8M448.9,420.3h.8M429.8,413.0h.8M443.6,420.6h.8M430.0,420.1h.8M446.4,412.8h.8M448.2,420.2h.8M433.6,412.3h.8M472.8,418.3h.8M463.0,420.4h.8M468.8,418.5h.8M449.9,420.9h.8M445.4,412.5h.8M457.5,413.6h.8M453.4,420.4h.8M427.6,420.7h.8M459.4,419.9h.8M450.6,413.3h.8M469.8,418.7h.8M450.8,412.1h.8M467.3,415.3h.8M431.6,412.8h.8M427.7,420.3h.8M456.2,420.5h.8M473.6,417.6h.8M471.6,415.6h.8M436.7,412.0h.8M431.4,413.2h.8M435.5,412.8h.8M455.8,413.0h.8M426.8,413.2h.8M437.0,413.2h.8M433.8,420.1h.8M431.4,412.6h.8M471.5,418.3h.8M468.3,418.1h.8M443.0,412.6h.8M435.4,411.9h.8M441.8,413.3h.8M426.4,412.4h.8M463.0,419.0h.8M439.3,420.3h.8M451.7,412.4h.8M448.9,420.1h.8M471.2,418.0h.8M437.5,412.8h.8M459.8,420.4h.8M467.1,414.7h.8M466.1,415.0h.8M428.4,412.1h.8M425.9,420.2h.8M438.8,420.5h.8M460.4,413.6h.8M471.0,415.9h.8M456.4,420.2h.8M449.3,420.6h.8M447.0,420.6h.8M450.7,413.3h.8M428.4,420.7h.8M434.2,411.8h.8M443.2,421.2h.8M450.4,420.4h.8M437.7,420.4h.8M426.2,413.2h.8M436.4,412.9h.8M461.1,413.1h.8M432.1,412.7h.8M428.4,412.7h.8M466.4,419.6h.8M427.9,413.2h.8M458.4,412.5h.8M443.4,413.4h.8M452.4,420.9h.8M464.6,414.2h.8M440.5,421.1h.8M427.6,420.3h.8M448.4,421.2h.8M433.7,412.8h.8M461.9,419.3h.8M430.9,412.7h.8M427.0,420.4h.8M464.8,419.6h.8M451.2,411.7h.8M433.6,413.3h.8M462.9,413.2h.8M466.1,414.5h.8M448.8,413.4h.8M450.9,421.6h.8M454.8,412.7h.8M446.5,412.4h.8M440.4,413.0h.8M452.7,413.3h.8M428.4,420.1h.8M461.5,420.0h.8M454.0,413.1h.8M464.5,418.9h.8M444.2,412.7h.8M452.0,411.8h.8M455.9,420.5h.8M472.5,418.4h.8M471.3,415.8h.8M440.0,420.3h.8M464.4,414.6h.8M454.6,412.9h.8M425.2,412.6h.8M433.7,413.3h.8M462.1,414.0h.8M461.2,413.2h.8M462.3,412.9h.8M452.0,420.8h.8M440.7,412.9h.8M450.8,420.1h.8M462.3,419.1h.8M439.6,412.6h.8M453.2,413.1h.8M465.2,419.0h.8M471.9,417.6h.8M458.0,413.2h.8M433.4,413.1h.8M443.5,420.5h.8M442.4,420.4h.8M469.7,419.1h.8M452.6,420.7h.8M448.9,420.1h.8M428.8,413.3h.8M431.2,420.2h.8M460.8,420.0h.8M447.4,420.3h.8M464.3,414.8h.8M438.8,421.4h.8M430.7,420.6h.8M451.1,412.7h.8M465.8,412.9h.8M435.8,413.0h.8M434.0,412.3h.8M449.3,412.7h.8M438.2,412.7h.8M468.8,415.0h.8M438.4,420.5h.8M449.9,413.4h.8M449.9,420.4h.8M429.5,420.4h.8M460.4,413.4h.8M433.3,420.4h.8M448.1,420.6h.8M429.6,420.2h.8M460.1,413.6h.8M452.2,412.9h.8M472.2,419.1h.8M470.5,414.7h.8M427.8,420.1h.8M442.2,412.1h.8M433.8,413.0h.8M430.2,420.8h.8M454.1,420.8h.8M446.3,411.5h.8M463.4,414.4h.8M428.4,412.7h.8M464.0,419.0h.8M457.7,412.8h.8M443.1,412.3h.8M459.4,414.0h.8M456.3,413.6h.8M429.1,420.7h.8M428.0,413.4h.8M447.9,420.9h.8M456.3,420.0h.8M426.5,413.4h.8M456.2,413.4h.8M460.5,413.0h.8M439.9,420.6h.8M433.6,413.4h.8M437.7,420.2h.8M473.4,414.4h.8M466.2,418.3h.8M439.7,413.0h.8M464.4,414.4h.8M455.8,413.3h.8M455.6,420.2h.8M456.4,412.5h.8M459.3,414.0h.8M426.5,420.2h.8M453.5,421.3h.8M444.4,420.5h.8M445.1,420.5h.8M436.0,412.9h.8M473.3,415.6h.8M431.9,413.1h.8M429.0,412.5h.8M427.9,412.8h.8M437.1,420.2h.8M463.3,418.9h.8M448.6,412.7h.8M425.3,420.1h.8M450.9,420.8h.8M455.1,420.4h.8M469.1,418.3h.8M471.3,417.9h.8M448.5,420.5h.8M428.0,413.2h.8M459.8,413.8h.8M453.8,421.3h.8M450.7,412.8h.8M465.5,414.8h.8M471.6,414.8h.8M456.6,413.1h.8M451.2,420.7h.8M435.5,421.2h.8M429.0,420.0h.8M425.6,420.2h.8M429.7,411.8h.8M430.6,412.8h.8M430.0,420.8h.8M432.8,420.3h.8M459.7,413.7h.8M438.3,412.8h.8M458.6,413.7h.8M471.0,417.7h.8M470.4,419.4h.8M426.5,413.3h.8M429.1,420.9h.8M483.0,421.1h.8M479.6,416.3h.8M478.4,416.9h.8M474.5,411.2h.8M478.1,414.7h.8M476.1,416.8h.8M482.5,417.9h.8M472.1,415.3h.8M477.7,414.0h.8M473.2,417.5h.8M483.5,416.9h.8M471.8,418.0h.8M475.7,414.3h.8M475.0,418.2h.8M475.1,419.6h.8M476.6,422.0h.8M473.3,416.6h.8M470.2,412.6h.8M476.1,416.1h.8M478.9,412.7h.8M476.6,417.8h.8M475.9,410.8h.8M472.5,416.6h.8M472.4,417.7h.8M472.0,420.7h.8M481.8,415.0h.8M473.1,419.8h.8M479.0,413.0h.8M472.2,415.0h.8M471.8,419.4h.8M476.9,413.9h.8M479.2,417.6h.8M492.5,418.4h.8M483.0,418.7h.8M476.3,416.5h.8M482.3,417.9h.8M476.3,416.6h.8M475.5,415.4h.8M477.7,413.9h.8M478.3,419.0h.8M469.6,418.7h.8M472.4,416.6h.8M490.7,417.7h.8M490.2,414.4h.8M472.7,417.4h.8M476.3,417.1h.8M479.7,415.9h.8M484.7,419.8h.8M477.8,418.3h.8M474.1,420.0h.8M490.9,416.2h.8M474.4,419.8h.8M472.5,415.3h.8M473.3,411.2h.8M473.8,417.2h.8M471.8,418.9h.8M472.5,416.5h.8M479.7,416.8h.8M480.0,414.9h.8M477.7,416.2h.8M472.8,411.1h.8M475.6,416.5h.8M470.7,416.0h.8M480.5,420.1h.8M476.4,419.3h.8M470.4,419.7h.8M483.4,413.1h.8M474.9,413.4h.8M470.3,416.2h.8M480.5,418.4h.8M483.7,417.3h.8M471.9,418.5h.8M476.2,412.6h.8M487.5,415.0h.8M473.2,416.9h.8M477.3,422.2h.8M475.3,418.6h.8M473.5,418.9h.8M472.8,420.7h.8M479.0,417.3h.8M469.7,416.3h.8M473.1,416.9h.8M476.6,416.3h.8M477.4,412.3h.8M478.6,411.3h.8M474.4,414.7h.8M470.3,413.3h.8M469.6,420.3h.8M474.5,412.9h.8M477.8,418.7h.8M470.2,419.3h.8M478.3,412.6h.8M474.3,415.6h.8M469.7,414.3h.8M476.2,421.6h.8M475.0,414.5h.8M470.5,419.3h.8M476.6,416.8h.8M470.7,411.8h.8M479.6,413.6h.8M476.7,415.2h.8M472.3,418.9h.8M470.9,415.9h.8M474.1,418.7h.8M472.1,418.7h.8M478.5,416.5h.8M478.3,419.2h.8M472.0,417.0h.8M482.9,414.3h.8M478.6,416.0h.8M477.6,418.2h.8M475.2,417.6h.8M475.8,415.3h.8M474.0,411.8h.8M472.8,414.7h.8M473.7,417.9h.8M470.1,418.1h.8M479.2,415.7h.8M473.9,417.3h.8M476.3,413.7h.8M476.7,419.8h.8M474.3,416.2h.8M474.3,411.9h.8M476.2,417.3h.8M472.6,412.7h.8M470.7,417.6h.8M474.8,418.3h.8M463.5,387.9h.8M460.1,389.6h.8M469.1,383.9h.8M447.5,383.6h.8M470.3,388.6h.8M435.7,390.4h.8M502.6,387.7h.8M446.0,391.0h.8M487.4,380.6h.8M459.7,379.8h.8M465.8,386.8h.8M468.2,380.2h.8M505.1,387.1h.8M469.9,388.1h.8M443.0,391.3h.8M483.8,383.9h.8M504.0,393.1h.8M497.1,387.3h.8M477.2,383.2h.8M457.4,382.2h.8M447.2,385.8h.8M500.9,384.1h.8M465.7,382.1h.8M463.9,392.6h.8M437.9,385.8h.8M459.9,383.9h.8M466.8,390.8h.8M501.9,388.0h.8M453.8,379.0h.8M503.6,384.2h.8M436.8,382.4h.8M471.3,389.1h.8M435.9,383.2h.8M439.6,378.9h.8M427.8,386.1h.8M430.9,388.8h.8M446.8,390.9h.8M436.3,386.6h.8M476.5,387.3h.8M456.3,381.3h.8M466.2,388.0h.8M468.7,393.4h.8M488.7,388.0h.8M482.2,381.1h.8M490.1,384.1h.8M496.4,392.9h.8M453.6,390.2h.8M446.4,389.4h.8M471.1,385.8h.8M444.5,387.6h.8M438.9,379.4h.8M483.0,378.6h.8M494.9,389.8h.8M449.5,381.7h.8M507.4,390.4h.8M453.7,387.7h.8M475.3,391.1h.8M470.3,384.6h.8M459.8,384.7h.8M446.4,381.0h.8M452.1,384.6h.8M434.8,380.3h.8M459.0,386.9h.8M502.2,386.1h.8M441.7,378.6h.8M432.1,385.6h.8M463.5,397.9h.8M453.0,385.5h.8M475.8,387.3h.8M436.3,383.4h.8M427.0,388.1h.8M434.9,381.0h.8M486.4,383.0h.8M478.9,386.2h.8M489.3,388.6h.8M495.5,388.5h.8M434.9,392.3h.8M499.9,383.2h.8M466.8,383.9h.8M468.5,380.0h.8M444.8,384.5h.8M446.0,383.3h.8M430.7,380.1h.8M498.3,385.1h.8M467.1,388.5h.8M502.5,391.8h.8M437.6,378.7h.8M446.1,392.0h.8M471.7,384.8h.8M432.5,380.4h.8M453.5,381.0h.8M439.3,389.5h.8M441.3,388.7h.8M460.8,380.1h.8M472.3,386.6h.8M466.3,383.5h.8M506.0,381.9h.8M438.7,385.2h.8M472.5,394.6h.8M444.1,385.3h.8M444.3,387.1h.8M497.5,383.0h.8M472.0,381.6h.8M478.3,386.0h.8M441.9,393.8h.8M431.5,385.0h.8M469.1,388.5h.8M458.3,379.9h.8M469.4,386.1h.8M433.0,382.4h.8M445.2,384.9h.8M475.7,383.4h.8M458.0,388.5h.8M430.1,390.0h.8M501.4,388.6h.8M496.3,384.2h.8M450.2,387.1h.8M451.7,388.3h.8M440.2,385.6h.8M439.5,389.1h.8M470.3,386.4h.8M439.7,385.3h.8M425.3,387.8h.8M426.9,381.8h.8M478.7,384.3h.8M497.7,380.2h.8M439.8,388.4h.8M446.3,385.2h.8M501.1,385.4h.8M434.1,392.1h.8M442.9,384.0h.8M437.7,386.2h.8M436.1,393.5h.8M433.0,393.9h.8M462.4,390.8h.8M475.4,391.5h.8M457.0,387.1h.8M426.7,386.5h.8M469.7,386.2h.8M505.4,392.6h.8M443.4,383.4h.8M488.7,378.6h.8M469.1,393.9h.8M478.8,378.5h.8M489.6,386.7h.8M473.3,392.5h.8M460.3,378.3h.8M471.9,385.3h.8M438.2,389.9h.8M440.0,380.9h.8M488.8,386.6h.8M488.0,384.6h.8M442.2,387.2h.8M455.8,385.9h.8M466.9,381.4h.8M463.2,394.1h.8M502.5,389.2h.8M491.4,382.5h.8M434.0,393.9h.8M449.8,385.4h.8M451.4,379.2h.8M491.7,382.5h.8M459.3,383.6h.8M469.1,382.0h.8M435.1,382.1h.8M483.6,385.9h.8M430.6,391.8h.8M476.0,390.2h.8M436.1,386.9h.8M447.1,388.5h.8M495.3,384.8h.8M460.8,383.7h.8M432.3,383.1h.8M430.3,380.6h.8M444.8,393.3h.8M426.3,382.1h.8M451.5,391.5h.8M436.3,392.4h.8M431.2,384.9h.8M445.1,385.5h.8M465.6,391.4h.8M464.5,386.5h.8M454.4,386.3h.8M462.6,390.6h.8M475.6,394.3h.8M506.2,387.3h.8M501.6,383.6h.8M497.9,383.0h.8M485.8,385.4h.8M436.2,385.9h.8M483.1,384.5h.8M501.5,388.8h.8M454.4,379.6h.8M481.7,388.7h.8M471.2,379.9h.8M451.7,378.9h.8M471.7,386.4h.8M448.8,381.1h.8M466.9,387.0h.8M486.4,392.6h.8M445.4,384.6h.8M482.5,386.0h.8M446.5,381.8h.8M495.1,381.7h.8M445.6,385.8h.8M487.4,383.7h.8M486.0,387.6h.8M450.7,386.1h.8M431.3,392.6h.8M444.7,379.0h.8M453.6,388.3h.8M501.5,387.0h.8M486.4,390.0h.8M445.6,385.1h.8M453.7,380.2h.8M488.3,385.8h.8M489.0,391.3h.8M427.5,386.5h.8M443.0,383.1h.8M506.3,378.8h.8M465.3,386.5h.8M435.4,380.1h.8M474.4,386.1h.8M501.8,385.9h.8M433.6,380.2h.8M502.6,386.9h.8M499.7,383.8h.8M425.3,388.5h.8M457.7,385.8h.8M452.2,389.9h.8M432.3,386.3h.8M473.8,389.2h.8M431.2,393.1h.8M498.1,381.9h.8M469.4,386.1h.8M441.4,380.8h.8M437.1,380.7h.8M463.9,386.7h.8M466.8,382.1h.8M470.2,386.6h.8M506.2,388.0h.8M478.5,381.0h.8M505.5,376.8h.8M471.4,378.1h.8M496.3,382.5h.8M495.7,383.3h.8M454.0,378.4h.8M473.5,379.7h.8M468.2,386.0h.8M466.1,380.7h.8M459.6,382.3h.8M489.4,385.2h.8M447.1,393.6h.8M436.7,393.6h.8M446.8,393.7h.8M448.9,385.1h.8M480.5,383.9h.8M450.9,383.9h.8M442.2,383.6h.8M500.7,386.8h.8M439.7,385.6h.8M437.0,379.5h.8M442.6,386.9h.8M469.9,382.3h.8M480.4,382.7h.8M499.6,392.4h.8M459.9,392.1h.8M473.7,384.8h.8M450.8,381.5h.8M468.8,390.6h.8M495.9,384.1h.8M428.3,389.3h.8M484.0,389.6h.8M487.8,381.4h.8M472.3,389.8h.8M428.4,379.8h.8M458.2,383.5h.8M427.5,380.9h.8M428.5,389.8h.8M439.0,379.5h.8M485.1,387.1h.8M441.9,391.9h.8M489.9,381.1h.8M429.8,383.9h.8M451.6,384.5h.8M428.3,385.6h.8M493.5,392.5h.8M464.2,389.7h.8M450.8,385.3h.8M506.7,382.9h.8M469.9,379.9h.8M447.9,373.8h.8M498.5,387.5h.8M495.1,381.1h.8M457.9,380.9h.8M439.7,384.4h.8M434.6,387.5h.8M459.4,379.0h.8M482.5,378.2h.8M491.8,391.4h.8M454.3,384.6h.8M456.4,384.9h.8M477.1,387.5h.8M434.7,381.3h.8M425.6,391.5h.8M485.3,384.9h.8M500.0,383.5h.8M507.6,382.4h.8M503.8,383.5h.8M455.8,384.3h.8M474.1,381.9h.8M475.7,390.4h.8M442.3,391.4h.8M451.1,382.8h.8M480.8,384.3h.8M440.4,394.3h.8M452.4,388.7h.8M481.1,380.9h.8M478.8,392.0h.8M433.9,388.0h.8M462.8,380.3h.8M430.6,383.3h.8M459.8,382.7h.8M437.0,385.6h.8M439.4,384.7h.8M492.7,383.8h.8M449.5,384.1h.8M458.1,388.5h.8M476.5,379.8h.8M454.6,388.7h.8M480.1,385.7h.8M505.0,381.6h.8M446.1,385.2h.8M426.8,381.2h.8M427.5,387.6h.8M458.3,384.3h.8M447.1,381.4h.8M439.1,384.1h.8M466.0,386.2h.8M442.6,388.0h.8M489.5,382.3h.8M481.6,385.9h.8M458.9,378.0h.8M469.4,383.3h.8M462.7,380.8h.8M472.2,383.2h.8M457.1,383.8h.8M429.1,389.9h.8M469.6,379.7h.8M483.7,384.1h.8M456.1,388.2h.8M426.9,380.4h.8M463.1,388.8h.8M468.3,392.1h.8M462.8,379.8h.8M433.3,382.1h.8M505.5,384.2h.8M493.5,379.8h.8M468.3,379.9h.8M484.7,378.7h.8M441.6,384.7h.8M440.6,389.5h.8M433.8,387.6h.8M466.8,386.5h.8M461.0,383.0h.8M495.0,381.5h.8M508.1,382.0h.8M501.8,371.3h.8M489.8,381.3h.8M438.9,389.9h.8M437.7,394.8h.8M439.3,382.2h.8M434.4,383.9h.8M469.0,379.6h.8M508.0,380.0h.8M440.5,381.7h.8M476.5,380.8h.8M432.6,387.9h.8M444.3,388.9h.8M472.0,383.2h.8M459.1,387.0h.8M470.9,387.3h.8M474.9,382.5h.8M450.6,386.1h.8M454.6,388.3h.8M438.3,392.1h.8M465.4,386.0h.8M450.1,388.1h.8M449.3,392.0h.8M429.0,385.9h.8M486.1,381.4h.8M492.1,380.0h.8M490.4,383.8h.8M433.5,382.4h.8M439.6,383.3h.8M426.2,384.0h.8M465.9,380.6h.8M428.0,380.1h.8M501.5,387.5h.8M431.9,382.2h.8M452.7,382.2h.8M498.8,378.6h.8M468.0,389.7h.8M449.6,390.9h.8M477.5,389.4h.8M459.4,393.4h.8M452.0,384.9h.8M487.4,382.7h.8M465.0,380.3h.8M449.5,378.8h.8M441.8,399.9h.8M455.3,407.8h.8M448.0,408.0h.8M484.8,388.2h.8M488.4,389.2h.8M468.6,399.5h.8M449.5,405.2h.8M501.3,405.5h.8M425.2,408.2h.8M432.1,404.4h.8M471.0,391.2h.8M464.8,389.4h.8M431.3,394.6h.8M450.4,405.6h.8M443.9,407.7h.8M469.5,398.4h.8M460.7,399.4h.8M440.0,408.4h.8M466.6,400.6h.8M472.0,408.0h.8M484.6,395.6h.8M465.1,399.0h.8M473.0,409.6h.8M472.0,409.6h.8M441.9,409.5h.8M448.6,392.9h.8M451.8,391.6h.8M439.3,396.9h.8M459.2,393.5h.8M502.0,400.3h.8M433.4,397.0h.8M499.9,397.0h.8M457.1,404.7h.8M496.8,409.1h.8M433.8,406.3h.8M455.9,404.2h.8M499.8,397.9h.8M468.0,402.0h.8M426.3,391.2h.8M498.4,391.8h.8M440.8,399.0h.8M435.3,402.0h.8M486.2,394.4h.8M466.4,389.6h.8M504.3,397.1h.8M441.7,403.8h.8M452.4,393.5h.8M469.8,402.5h.8M486.0,390.9h.8M432.3,393.1h.8M475.8,387.1h.8M440.8,396.8h.8M492.9,402.0h.8M483.0,392.7h.8M497.9,388.5h.8M461.2,396.9h.8M445.9,399.4h.8M504.4,393.5h.8M460.8,410.5h.8M455.4,408.6h.8M463.9,405.2h.8M459.0,409.0h.8M455.6,400.9h.8M479.8,395.6h.8M495.2,402.9h.8M427.7,396.9h.8M453.3,393.4h.8M425.8,394.2h.8M488.5,404.3h.8M448.2,408.3h.8M479.7,408.2h.8M447.0,394.5h.8M456.7,404.5h.8M499.7,391.6h.8M475.6,406.7h.8M480.1,390.1h.8M465.9,398.5h.8M471.5,397.5h.8M448.3,404.4h.8M472.1,389.8h.8M474.5,391.0h.8M465.7,400.9h.8M485.5,400.7h.8M478.0,391.4h.8M487.9,407.1h.8M471.2,406.5h.8M494.8,398.4h.8M489.5,408.7h.8M441.2,388.7h.8M455.4,391.5h.8M431.2,388.2h.8M443.7,398.2h.8M501.5,397.7h.8M500.5,394.2h.8M457.0,394.9h.8M433.3,399.3h.8M436.6,398.6h.8M432.1,395.0h.8M490.0,395.5h.8M435.3,399.5h.8M498.1,392.0h.8M462.4,409.2h.8M470.2,391.4h.8M469.2,409.8h.8M457.3,401.1h.8M454.1,405.5h.8M468.9,396.3h.8M450.2,393.3h.8M466.4,408.5h.8M461.9,391.1h.8M466.1,403.7h.8M476.3,401.0h.8M450.3,395.4h.8M485.7,389.3h.8M493.4,402.9h.8M484.0,400.4h.8M502.7,395.1h.8M506.6,398.3h.8M441.5,394.3h.8M440.3,395.9h.8M460.7,396.1h.8M497.4,390.8h.8M470.8,387.6h.8M507.2,396.3h.8M427.3,409.8h.8M496.7,397.0h.8M499.8,389.5h.8M483.0,403.4h.8M451.4,390.3h.8M425.9,408.8h.8M500.3,409.0h.8M441.7,402.8h.8M448.5,408.4h.8M448.1,401.5h.8M448.1,407.3h.8M507.8,403.7h.8M436.6,391.2h.8M457.3,400.4h.8M498.7,395.6h.8M444.9,400.3h.8M475.2,396.6h.8M494.1,394.8h.8M488.2,408.4h.8M439.0,389.3h.8M483.6,396.8h.8M435.4,393.2h.8M469.2,388.7h.8M446.1,392.1h.8M432.6,388.5h.8M481.7,396.1h.8M473.2,390.6h.8M495.5,400.7h.8M451.0,399.3h.8M483.4,396.3h.8M434.6,394.9h.8M498.8,390.5h.8M478.2,398.4h.8M434.6,391.2h.8M498.9,400.0h.8M444.0,395.1h.8M476.0,387.5h.8M473.7,388.1h.8M434.3,389.8h.8M435.3,397.3h.8M460.9,392.4h.8M467.7,400.9h.8M429.2,408.3h.8M494.8,389.9h.8M442.7,401.4h.8M467.3,409.8h.8M427.8,408.9h.8M506.8,407.6h.8M457.7,399.5h.8M483.4,389.7h.8M504.7,397.3h.8M506.8,407.7h.8M493.2,408.3h.8M437.4,408.6h.8M507.9,387.5h.8M454.8,394.4h.8M488.0,387.6h.8M465.0,398.6h.8M487.4,408.9h.8M499.0,394.8h.8M471.5,396.1h.8M448.0,401.4h.8M431.0,390.0h.8M470.3,398.6h.8M491.0,388.0h.8M450.9,401.8h.8M449.9,394.2h.8M473.6,390.4h.8M459.3,403.5h.8M467.8,391.4h.8M455.2,401.3h.8M428.1,388.7h.8M464.8,404.4h.8M448.4,389.7h.8M482.2,404.4h.8M446.1,405.4h.8M472.5,395.2h.8M458.1,399.8h.8M431.8,398.3h.8M455.6,401.2h.8M439.1,406.9h.8M500.0,390.5h.8M472.5,388.3h.8M480.0,403.2h.8M504.1,398.1h.8M446.2,405.0h.8M448.2,404.7h.8M466.8,397.0h.8M487.2,408.9h.8M507.9,409.8h.8M501.0,401.5h.8M499.5,391.9h.8M428.0,389.3h.8M485.1,407.4h.8M429.0,408.4h.8M490.2,393.6h.8M438.3,389.1h.8M432.2,397.5h.8M462.3,401.1h.8M495.7,400.9h.8M437.5,410.5h.8M460.7,390.6h.8M491.8,388.8h.8M483.6,403.4h.8M471.6,394.9h.8M443.5,395.5h.8M499.4,407.8h.8M490.4,403.0h.8M459.2,392.8h.8M435.2,401.7h.8M456.8,372.4h.8M500.6,363.4h.8M426.9,370.1h.8M448.8,364.7h.8M472.8,366.5h.8M483.5,365.5h.8M429.0,371.6h.8M495.8,364.1h.8M497.5,376.6h.8M480.3,363.9h.8M472.1,371.4h.8M450.7,365.3h.8M501.8,364.8h.8M482.9,364.1h.8M493.8,363.4h.8M429.9,375.6h.8M466.1,378.0h.8M498.2,372.2h.8M453.8,372.0h.8M455.9,368.8h.8M451.3,376.2h.8M483.6,374.5h.8M481.7,367.1h.8M496.4,365.0h.8M455.6,375.6h.8M425.3,395.3h.8M430.2,394.8h.8M427.1,392.5h.8M426.4,406.7h.8M426.1,401.3h.8M431.1,407.1h.8M427.8,404.9h.8M427.3,396.7h.8M425.2,407.2h.8M435.3,389.6h.8M431.6,394.3h.8M429.4,395.3h.8M425.3,399.7h.8M430.6,391.6h.8M427.6,388.2h.8M430.4,399.4h.8M429.7,382.8h.8M427.0,403.9h.8M429.1,399.8h.8M425.6,383.6h.8M434.6,407.9h.8M432.9,391.6h.8M426.4,409.2h.8M427.3,393.8h.8M440.3,384.0h.8M426.9,394.2h.8M426.0,408.6h.8M427.3,387.0h.8M426.7,399.4h.8M428.1,400.0h.8M431.2,381.8h.8M433.2,394.3h.8M425.3,386.1h.8M426.4,393.1h.8M427.3,398.1h.8M433.2,387.8h.8M428.0,399.5h.8M425.8,403.0h.8M427.3,400.6h.8M438.5,399.5h.8M430.2,403.8h.8M426.4,404.5h.8M427.4,407.9h.8M428.1,383.8h.8M430.5,408.3h.8M427.2,403.0h.8M432.1,389.0h.8M427.7,385.0h.8M433.2,397.1h.8M429.4,389.9h.8M429.9,392.7h.8M431.0,404.4h.8M426.8,384.5h.8M426.7,385.2h.8M426.3,399.5h.8M428.5,401.3h.8M438.7,387.4h.8M425.2,403.4h.8M427.1,395.7h.8M428.3,388.3h.8M427.0,394.1h.8M436.1,382.2h.8M429.3,397.0h.8M428.6,406.1h.8M428.8,408.1h.8M429.8,397.9h.8M427.3,392.1h.8M426.2,387.6h.8M425.9,396.3h.8M429.3,401.2h.8M427.9,404.8h.8M427.7,386.8h.8M429.8,384.0h.8M425.4,389.8h.8M427.9,408.2h.8M426.3,383.8h.8M429.6,389.8h.8M425.5,400.7h.8M427.3,396.7h.8M426.9,391.4h.8M425.8,389.7h.8M428.5,407.2h.8M425.5,387.7h.8M427.7,402.9h.8M425.5,407.5h.8M426.9,390.3h.8M425.7,406.3h.8M431.3,402.7h.8M432.8,391.7h.8M425.4,383.6h.8M427.5,388.8h.8M426.5,406.4h.8M428.0,407.6h.8M426.2,407.7h.8M430.9,409.1h.8M428.3,393.5h.8M428.8,385.1h.8M425.8,405.8h.8M427.8,385.6h.8M428.9,383.0h.8M425.8,405.6h.8M427.6,381.3h.8M432.6,402.5h.8M428.0,394.8h.8M427.1,383.5h.8M432.7,398.2h.8M429.4,387.1h.8M430.1,409.1h.8M432.2,394.4h.8M434.8,389.7h.8M430.0,383.7h.8M431.0,392.0h.8M428.3,409.3h.8M429.7,402.1h.8M432.5,385.6h.8M429.5,407.2h.8M425.6,405.1h.8M429.0,396.8h.8M432.6,384.8h.8M429.8,390.2h.8M429.9,400.9h.8M432.4,404.2h.8M428.3,401.7h.8M432.0,383.8h.8M429.5,383.9h.8M436.8,397.2h.8M426.7,390.3h.8M426.5,403.3h.8M427.6,395.9h.8M428.3,388.1h.8M431.4,381.9h.8M425.7,399.5h.8M427.3,400.8h.8M434.5,406.3h.8M426.7,405.7h.8M430.1,390.4h.8M431.3,386.8h.8M429.2,409.0h.8M428.5,401.6h.8M427.4,397.1h.8M480.7,384.7h.8M475.2,380.4h.8M482.7,388.3h.8M479.2,382.6h.8M480.7,382.8h.8M480.7,388.7h.8M478.1,380.1h.8M480.3,385.7h.8M477.6,388.6h.8M479.2,380.1h.8M477.5,387.7h.8M475.7,382.3h.8M474.5,384.8h.8M473.9,384.8h.8M480.2,383.2h.8M478.5,373.1h.8M473.8,377.6h.8M478.7,378.2h.8M477.0,386.7h.8M478.0,381.8h.8M478.9,388.0h.8M479.1,388.7h.8M476.4,385.2h.8M477.3,388.9h.8M474.9,383.6h.8M478.4,382.7h.8M475.1,384.9h.8M473.0,389.2h.8M477.2,384.3h.8M478.8,376.2h.8M481.2,386.0h.8M472.8,383.4h.8M477.3,386.1h.8M475.2,380.8h.8M473.8,385.8h.8M476.4,384.1h.8M476.6,379.2h.8M476.7,392.1h.8M474.5,386.2h.8M480.9,383.6h.8M493.8,386.7h.8M498.9,389.7h.8M498.7,387.6h.8M493.2,383.9h.8M494.9,387.8h.8M490.7,380.8h.8M492.4,387.3h.8M498.9,389.2h.8M496.9,383.1h.8M494.0,383.2h.8M495.7,385.3h.8M493.7,385.6h.8M496.2,381.6h.8M497.9,379.6h.8M494.9,381.0h.8M495.5,382.0h.8M495.9,385.2h.8M494.4,387.9h.8M493.9,385.0h.8M496.0,386.0h.8M496.6,383.2h.8M494.8,385.4h.8M493.7,385.5h.8M495.3,386.4h.8M495.6,387.2h.8M497.8,384.2h.8M492.1,387.7h.8M492.8,381.7h.8M497.8,385.6h.8M499.3,389.3h.8M494.9,391.6h.8M493.7,389.2h.8M496.6,379.5h.8M495.0,380.9h.8M493.6,388.6h.8M495.1,389.1h.8M495.1,388.8h.8M496.3,384.0h.8M496.0,385.7h.8M494.5,381.8h.8M497.9,386.9h.8M494.4,380.2h.8M495.6,380.1h.8M495.9,385.5h.8M495.9,389.5h.8M500.8,413.9h.8M504.0,409.7h.8M496.7,414.5h.8M507.4,415.6h.8M495.5,419.2h.8M489.3,416.6h.8M481.4,417.1h.8M495.4,412.4h.8M494.1,417.3h.8M504.3,416.5h.8M497.8,412.7h.8M487.5,419.8h.8M504.4,414.5h.8M490.1,420.2h.8M498.7,413.5h.8M500.4,413.5h.8M483.7,414.8h.8M502.1,420.0h.8M502.0,417.7h.8M490.0,410.5h.8M489.0,415.5h.8M500.4,416.6h.8M480.6,415.8h.8M494.9,415.3h.8M490.6,413.9h.8M487.5,415.1h.8M489.0,419.4h.8M498.6,411.2h.8M488.0,411.4h.8M496.9,410.2h.8" stroke="#1a1a1a" stroke-width="0.75" fill="none"/>
<rect x="420.6" y="351" width="90.2" height="77" fill="none" stroke="#000" stroke-width="1.1"/>
<line x1="479.40" y1="351.00" x2="479.40" y2="428.00" stroke="#111" stroke-width="0.9"/>
<line x1="420.60" y1="409.60" x2="510.80" y2="409.60" stroke="#111" stroke-width="0.9"/>
<text x="0" y="0" font-size="9.3" text-anchor="middle" font-weight="normal" transform="translate(497.6,360.7) scale(0.86,1)">2.1 %</text>
<line x1="416.40" y1="359.00" x2="420.60" y2="359.00" stroke="#000" stroke-width="1.0"/>
<text x="0" y="0" font-size="5" text-anchor="middle" font-weight="bold" transform="translate(414.70000000000005,359) rotate(-90)">10<tspan font-size="4.2" dy="-2.8">5</tspan></text>
<line x1="418.00" y1="370.95" x2="420.60" y2="370.95" stroke="#000" stroke-width="0.75"/>
<line x1="418.00" y1="367.94" x2="420.60" y2="367.94" stroke="#000" stroke-width="0.75"/>
<line x1="418.00" y1="365.80" x2="420.60" y2="365.80" stroke="#000" stroke-width="0.75"/>
<line x1="418.00" y1="364.15" x2="420.60" y2="364.15" stroke="#000" stroke-width="0.75"/>
<line x1="418.00" y1="362.79" x2="420.60" y2="362.79" stroke="#000" stroke-width="0.75"/>
<line x1="418.00" y1="361.65" x2="420.60" y2="361.65" stroke="#000" stroke-width="0.75"/>
<line x1="418.00" y1="360.66" x2="420.60" y2="360.66" stroke="#000" stroke-width="0.75"/>
<line x1="418.00" y1="359.78" x2="420.60" y2="359.78" stroke="#000" stroke-width="0.75"/>
<line x1="416.40" y1="376.10" x2="420.60" y2="376.10" stroke="#000" stroke-width="1.0"/>
<text x="0" y="0" font-size="5" text-anchor="middle" font-weight="bold" transform="translate(414.70000000000005,376.1) rotate(-90)">10<tspan font-size="4.2" dy="-2.8">4</tspan></text>
<line x1="418.00" y1="388.05" x2="420.60" y2="388.05" stroke="#000" stroke-width="0.75"/>
<line x1="418.00" y1="385.04" x2="420.60" y2="385.04" stroke="#000" stroke-width="0.75"/>
<line x1="418.00" y1="382.90" x2="420.60" y2="382.90" stroke="#000" stroke-width="0.75"/>
<line x1="418.00" y1="381.25" x2="420.60" y2="381.25" stroke="#000" stroke-width="0.75"/>
<line x1="418.00" y1="379.89" x2="420.60" y2="379.89" stroke="#000" stroke-width="0.75"/>
<line x1="418.00" y1="378.75" x2="420.60" y2="378.75" stroke="#000" stroke-width="0.75"/>
<line x1="418.00" y1="377.76" x2="420.60" y2="377.76" stroke="#000" stroke-width="0.75"/>
<line x1="418.00" y1="376.88" x2="420.60" y2="376.88" stroke="#000" stroke-width="0.75"/>
<line x1="416.40" y1="393.20" x2="420.60" y2="393.20" stroke="#000" stroke-width="1.0"/>
<text x="0" y="0" font-size="5" text-anchor="middle" font-weight="bold" transform="translate(414.70000000000005,393.2) rotate(-90)">10<tspan font-size="4.2" dy="-2.8">3</tspan></text>
<line x1="418.00" y1="405.15" x2="420.60" y2="405.15" stroke="#000" stroke-width="0.75"/>
<line x1="418.00" y1="402.14" x2="420.60" y2="402.14" stroke="#000" stroke-width="0.75"/>
<line x1="418.00" y1="400.00" x2="420.60" y2="400.00" stroke="#000" stroke-width="0.75"/>
<line x1="418.00" y1="398.35" x2="420.60" y2="398.35" stroke="#000" stroke-width="0.75"/>
<line x1="418.00" y1="396.99" x2="420.60" y2="396.99" stroke="#000" stroke-width="0.75"/>
<line x1="418.00" y1="395.85" x2="420.60" y2="395.85" stroke="#000" stroke-width="0.75"/>
<line x1="418.00" y1="394.86" x2="420.60" y2="394.86" stroke="#000" stroke-width="0.75"/>
<line x1="418.00" y1="393.98" x2="420.60" y2="393.98" stroke="#000" stroke-width="0.75"/>
<line x1="416.40" y1="410.30" x2="420.60" y2="410.30" stroke="#000" stroke-width="1.0"/>
<text x="0" y="0" font-size="5" text-anchor="middle" font-weight="bold" transform="translate(414.70000000000005,410.3) rotate(-90)">10<tspan font-size="4.2" dy="-2.8">2</tspan></text>
<line x1="418.00" y1="412.95" x2="420.60" y2="412.95" stroke="#000" stroke-width="0.75"/>
<line x1="418.00" y1="411.96" x2="420.60" y2="411.96" stroke="#000" stroke-width="0.75"/>
<line x1="418.00" y1="411.08" x2="420.60" y2="411.08" stroke="#000" stroke-width="0.75"/>
<line x1="418.00" y1="412.00" x2="420.60" y2="412.00" stroke="#000" stroke-width="0.7"/>
<line x1="418.00" y1="413.40" x2="420.60" y2="413.40" stroke="#000" stroke-width="0.7"/>
<line x1="418.00" y1="414.60" x2="420.60" y2="414.60" stroke="#000" stroke-width="0.7"/>
<line x1="416.40" y1="415.70" x2="420.60" y2="415.70" stroke="#000" stroke-width="1.0"/>
<text x="0" y="0" font-size="5" text-anchor="middle" font-weight="bold" transform="translate(415.40000000000003,415.7) rotate(-90)">0</text>
<line x1="418.00" y1="417.00" x2="420.60" y2="417.00" stroke="#000" stroke-width="0.7"/>
<line x1="418.00" y1="418.30" x2="420.60" y2="418.30" stroke="#000" stroke-width="0.7"/>
<line x1="418.00" y1="419.60" x2="420.60" y2="419.60" stroke="#000" stroke-width="0.7"/>
<line x1="416.40" y1="420.90" x2="420.60" y2="420.90" stroke="#000" stroke-width="1.0"/>
<line x1="417.60" y1="424.50" x2="420.60" y2="424.50" stroke="#000" stroke-width="0.8"/>
<text class="s" x="0" y="0" font-size="6.6" text-anchor="middle" font-weight="normal" transform="translate(408.20000000000005,391) rotate(-90)">PI-A</text>
<line x1="438.60" y1="428.00" x2="438.60" y2="432.40" stroke="#000" stroke-width="1.0"/>
<line x1="437.64" y1="428.00" x2="437.64" y2="431.00" stroke="#000" stroke-width="0.75"/>
<line x1="459.60" y1="428.00" x2="459.60" y2="432.40" stroke="#000" stroke-width="1.0"/>
<line x1="444.92" y1="428.00" x2="444.92" y2="431.00" stroke="#000" stroke-width="0.75"/>
<line x1="448.62" y1="428.00" x2="448.62" y2="431.00" stroke="#000" stroke-width="0.75"/>
<line x1="451.24" y1="428.00" x2="451.24" y2="431.00" stroke="#000" stroke-width="0.75"/>
<line x1="453.28" y1="428.00" x2="453.28" y2="431.00" stroke="#000" stroke-width="0.75"/>
<line x1="454.94" y1="428.00" x2="454.94" y2="431.00" stroke="#000" stroke-width="0.75"/>
<line x1="456.35" y1="428.00" x2="456.35" y2="431.00" stroke="#000" stroke-width="0.75"/>
<line x1="457.56" y1="428.00" x2="457.56" y2="431.00" stroke="#000" stroke-width="0.75"/>
<line x1="458.64" y1="428.00" x2="458.64" y2="431.00" stroke="#000" stroke-width="0.75"/>
<line x1="480.60" y1="428.00" x2="480.60" y2="432.40" stroke="#000" stroke-width="1.0"/>
<line x1="465.92" y1="428.00" x2="465.92" y2="431.00" stroke="#000" stroke-width="0.75"/>
<line x1="469.62" y1="428.00" x2="469.62" y2="431.00" stroke="#000" stroke-width="0.75"/>
<line x1="472.24" y1="428.00" x2="472.24" y2="431.00" stroke="#000" stroke-width="0.75"/>
<line x1="474.28" y1="428.00" x2="474.28" y2="431.00" stroke="#000" stroke-width="0.75"/>
<line x1="475.94" y1="428.00" x2="475.94" y2="431.00" stroke="#000" stroke-width="0.75"/>
<line x1="477.35" y1="428.00" x2="477.35" y2="431.00" stroke="#000" stroke-width="0.75"/>
<line x1="478.56" y1="428.00" x2="478.56" y2="431.00" stroke="#000" stroke-width="0.75"/>
<line x1="479.64" y1="428.00" x2="479.64" y2="431.00" stroke="#000" stroke-width="0.75"/>
<line x1="501.60" y1="428.00" x2="501.60" y2="432.40" stroke="#000" stroke-width="1.0"/>
<line x1="486.92" y1="428.00" x2="486.92" y2="431.00" stroke="#000" stroke-width="0.75"/>
<line x1="490.62" y1="428.00" x2="490.62" y2="431.00" stroke="#000" stroke-width="0.75"/>
<line x1="493.24" y1="428.00" x2="493.24" y2="431.00" stroke="#000" stroke-width="0.75"/>
<line x1="495.28" y1="428.00" x2="495.28" y2="431.00" stroke="#000" stroke-width="0.75"/>
<line x1="496.94" y1="428.00" x2="496.94" y2="431.00" stroke="#000" stroke-width="0.75"/>
<line x1="498.35" y1="428.00" x2="498.35" y2="431.00" stroke="#000" stroke-width="0.75"/>
<line x1="499.56" y1="428.00" x2="499.56" y2="431.00" stroke="#000" stroke-width="0.75"/>
<line x1="500.64" y1="428.00" x2="500.64" y2="431.00" stroke="#000" stroke-width="0.75"/>
<line x1="421.20" y1="428.00" x2="421.20" y2="431.00" stroke="#000" stroke-width="0.8"/>
<line x1="422.45" y1="428.00" x2="422.45" y2="431.00" stroke="#000" stroke-width="0.8"/>
<line x1="423.70" y1="428.00" x2="423.70" y2="431.00" stroke="#000" stroke-width="0.8"/>
<line x1="424.95" y1="428.00" x2="424.95" y2="431.00" stroke="#000" stroke-width="0.8"/>
<line x1="426.20" y1="428.00" x2="426.20" y2="431.00" stroke="#000" stroke-width="0.8"/>
<line x1="427.45" y1="428.00" x2="427.45" y2="431.00" stroke="#000" stroke-width="0.8"/>
<line x1="428.70" y1="428.00" x2="428.70" y2="431.00" stroke="#000" stroke-width="0.8"/>
<line x1="429.95" y1="428.00" x2="429.95" y2="431.00" stroke="#000" stroke-width="0.8"/>
<line x1="431.20" y1="428.00" x2="431.20" y2="431.00" stroke="#000" stroke-width="0.8"/>
<line x1="432.45" y1="428.00" x2="432.45" y2="431.00" stroke="#000" stroke-width="0.8"/>
<line x1="433.70" y1="428.00" x2="433.70" y2="431.00" stroke="#000" stroke-width="0.8"/>
<line x1="434.95" y1="428.00" x2="434.95" y2="431.00" stroke="#000" stroke-width="0.8"/>
<line x1="436.20" y1="428.00" x2="436.20" y2="431.00" stroke="#000" stroke-width="0.8"/>
<line x1="437.45" y1="428.00" x2="437.45" y2="431.00" stroke="#000" stroke-width="0.8"/>
<line x1="429.40" y1="428.00" x2="429.40" y2="432.40" stroke="#000" stroke-width="1.0"/>
<text x="429.40000000000003" y="437.7" font-size="5" text-anchor="middle" font-weight="bold" >0</text>
<text x="439.1" y="437.7" font-size="5" text-anchor="middle" font-weight="bold" >10<tspan font-size="4.2" dy="-2.8">2</tspan></text>
<text x="460.6" y="437.7" font-size="5" text-anchor="middle" font-weight="bold" >10<tspan font-size="4.2" dy="-2.8">3</tspan></text>
<text x="481.1" y="437.7" font-size="5" text-anchor="middle" font-weight="bold" >10<tspan font-size="4.2" dy="-2.8">4</tspan></text>
<text x="502.6" y="437.7" font-size="5" text-anchor="middle" font-weight="bold" >10<tspan font-size="4.2" dy="-2.8">5</tspan></text>
<text class="s" x="465.5" y="446.2" font-size="6.4" text-anchor="middle" font-weight="normal" >AnnV APC-A</text>
</svg></body></html>
